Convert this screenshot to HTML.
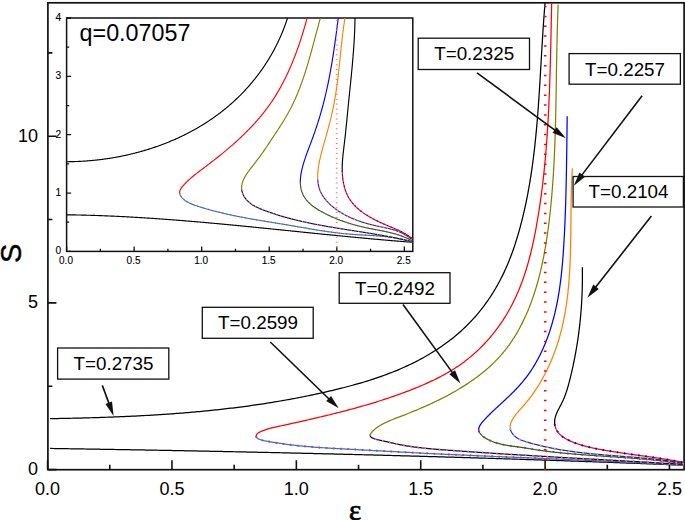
<!DOCTYPE html><html><head><meta charset="utf-8"><style>html,body{margin:0;padding:0;background:#fff;overflow:hidden}svg{display:block}text{font-family:"Liberation Sans",sans-serif;fill:#000}</style></head><body>
<svg width="685" height="520" viewBox="0 0 685 520">
<defs><clipPath id="cm"><rect x="47.9" y="2.8" width="636.2" height="466.9"/></clipPath><clipPath id="ci"><rect x="66.6" y="18.0" width="346.20000000000005" height="233.4"/></clipPath></defs>
<rect x="47.9" y="2.8" width="636.2" height="466.9" fill="none" stroke="#111" stroke-width="1.7"/>
<path d="M47.60,469.7 V460.20 M109.79,469.7 V464.70 M171.97,469.7 V460.20 M234.16,469.7 V464.70 M296.35,469.7 V460.20 M358.54,469.7 V464.70 M420.73,469.7 V460.20 M482.91,469.7 V464.70 M545.10,469.7 V460.20 M607.29,469.7 V464.70 M669.48,469.7 V460.20 M47.9,469.60 H56.40 M47.9,386.25 H52.40 M47.9,302.90 H56.40 M47.9,219.55 H52.40 M47.9,136.20 H56.40 M47.9,52.85 H52.40" stroke="#111" stroke-width="1.6" fill="none"/>
<g clip-path="url(#cm)" stroke-linejoin="round">
<path d="M50.12,418.67 L52.07,418.63 L54.02,418.60 L55.97,418.56 L57.92,418.53 L59.87,418.49 L61.82,418.46 L63.77,418.42 L65.72,418.38 L67.67,418.34 L69.62,418.29 L71.56,418.25 L73.51,418.21 L75.46,418.16 L77.41,418.12 L79.36,418.07 L81.31,418.02 L83.25,417.97 L85.20,417.92 L87.15,417.86 L89.09,417.81 L91.04,417.75 L92.99,417.70 L94.93,417.64 L96.88,417.58 L98.83,417.52 L100.77,417.45 L102.72,417.39 L104.66,417.32 L106.61,417.25 L108.55,417.18 L110.49,417.11 L112.44,417.04 L114.38,416.96 L116.33,416.89 L118.27,416.81 L120.21,416.73 L122.16,416.64 L124.10,416.56 L126.04,416.47 L127.98,416.39 L129.92,416.30 L131.87,416.20 L133.81,416.11 L135.75,416.01 L137.69,415.92 L139.63,415.82 L141.57,415.71 L143.51,415.61 L145.45,415.50 L147.39,415.39 L149.33,415.28 L151.26,415.17 L153.20,415.05 L155.14,414.94 L157.08,414.82 L159.02,414.69 L160.95,414.57 L162.89,414.44 L164.83,414.31 L166.76,414.18 L168.70,414.04 L170.63,413.91 L172.57,413.77 L174.50,413.62 L176.44,413.48 L178.37,413.33 L180.31,413.18 L182.24,413.03 L184.17,412.87 L186.11,412.71 L188.04,412.55 L189.97,412.39 L191.90,412.22 L193.84,412.05 L195.77,411.88 L197.70,411.70 L199.63,411.52 L201.56,411.34 L203.49,411.16 L205.42,410.97 L207.35,410.78 L209.28,410.59 L211.20,410.39 L213.13,410.19 L215.06,409.99 L216.99,409.78 L218.91,409.57 L220.84,409.36 L222.77,409.14 L224.69,408.92 L226.62,408.70 L228.54,408.47 L230.47,408.24 L232.39,408.01 L234.32,407.78 L236.24,407.54 L238.16,407.29 L240.09,407.05 L242.01,406.80 L243.93,406.54 L245.85,406.28 L247.77,406.02 L249.69,405.76 L251.61,405.49 L253.53,405.22 L255.45,404.94 L257.37,404.66 L259.29,404.38 L261.21,404.09 L263.13,403.80 L265.04,403.51 L266.96,403.21 L268.88,402.90 L270.79,402.60 L272.71,402.29 L274.62,401.97 L276.54,401.65 L278.45,401.33 L280.36,401.00 L282.28,400.67 L284.19,400.34 L286.10,400.00 L288.01,399.66 L289.93,399.31 L291.84,398.96 L293.75,398.60 L295.66,398.24 L297.57,397.88 L299.48,397.51 L301.38,397.13 L303.29,396.75 L305.20,396.37 L307.11,395.99 L309.01,395.59 L310.92,395.20 L312.83,394.80 L314.73,394.39 L316.64,393.98 L318.54,393.57 L320.44,393.15 L322.35,392.73 L324.25,392.30 L326.15,391.86 L328.05,391.43 L329.95,390.98 L331.86,390.54 L333.76,390.08 L335.65,389.63 L337.55,389.16 L339.45,388.69 L341.35,388.22 L343.24,387.74 L345.13,387.25 L347.03,386.76 L348.92,386.26 L350.80,385.75 L352.69,385.24 L354.57,384.72 L356.46,384.19 L358.33,383.66 L360.21,383.11 L362.09,382.56 L363.96,382.00 L365.83,381.43 L367.69,380.86 L369.55,380.27 L371.41,379.68 L373.27,379.08 L375.12,378.46 L376.97,377.84 L378.81,377.21 L380.65,376.57 L382.49,375.92 L384.32,375.25 L386.15,374.58 L387.97,373.90 L389.79,373.20 L391.60,372.50 L393.41,371.78 L395.21,371.05 L397.01,370.31 L398.81,369.56 L400.59,368.80 L402.38,368.02 L404.15,367.24 L405.92,366.43 L407.69,365.62 L409.44,364.79 L411.20,363.95 L412.94,363.10 L414.68,362.23 L416.41,361.35 L418.14,360.46 L419.86,359.55 L421.57,358.63 L423.27,357.69 L424.97,356.74 L426.65,355.77 L428.33,354.80 L430.00,353.80 L431.66,352.80 L433.31,351.77 L434.95,350.74 L436.59,349.69 L438.21,348.63 L439.82,347.55 L441.42,346.45 L443.01,345.35 L444.59,344.22 L446.16,343.09 L447.71,341.94 L449.26,340.77 L450.79,339.59 L452.31,338.40 L453.81,337.19 L455.31,335.96 L456.79,334.72 L458.25,333.47 L459.71,332.20 L461.15,330.92 L462.57,329.62 L463.98,328.31 L465.38,326.98 L466.76,325.63 L468.12,324.27 L469.47,322.90 L470.80,321.51 L472.12,320.11 L473.42,318.69 L474.71,317.26 L475.98,315.81 L477.23,314.35 L478.47,312.87 L479.69,311.38 L480.90,309.88 L482.09,308.36 L483.26,306.83 L484.42,305.29 L485.56,303.74 L486.68,302.17 L487.79,300.59 L488.88,299.00 L489.96,297.40 L491.02,295.79 L492.06,294.16 L493.09,292.52 L494.10,290.88 L495.10,289.22 L496.08,287.55 L497.04,285.87 L497.98,284.19 L498.91,282.49 L499.83,280.78 L500.72,279.06 L501.60,277.34 L502.47,275.60 L503.32,273.86 L504.15,272.11 L504.96,270.35 L505.76,268.58 L506.55,266.81 L507.32,265.02 L508.07,263.23 L508.81,261.44 L509.53,259.63 L510.24,257.82 L510.94,256.00 L511.62,254.18 L512.29,252.35 L512.95,250.52 L513.59,248.68 L514.22,246.84 L514.84,244.99 L515.45,243.14 L516.04,241.28 L516.63,239.42 L517.20,237.55 L517.76,235.68 L518.31,233.81 L518.85,231.93 L519.38,230.06 L519.90,228.18 L520.40,226.29 L520.90,224.41 L521.39,222.52 L521.88,220.63 L522.35,218.74 L522.81,216.85 L523.27,214.95 L523.71,213.06 L524.15,211.16 L524.58,209.26 L525.00,207.36 L525.42,205.46 L525.82,203.56 L526.22,201.66 L526.61,199.75 L526.99,197.84 L527.37,195.94 L527.73,194.03 L528.09,192.12 L528.44,190.20 L528.79,188.29 L529.13,186.38 L529.46,184.46 L529.78,182.55 L530.10,180.63 L530.41,178.71 L530.72,176.79 L531.02,174.87 L531.31,172.95 L531.59,171.02 L531.87,169.10 L532.15,167.18 L532.41,165.25 L532.68,163.32 L532.93,161.40 L533.18,159.47 L533.43,157.54 L533.67,155.61 L533.90,153.68 L534.13,151.75 L534.36,149.81 L534.58,147.88 L534.79,145.95 L535.01,144.01 L535.21,142.08 L535.41,140.14 L535.61,138.21 L535.80,136.27 L535.99,134.33 L536.18,132.40 L536.36,130.46 L536.54,128.52 L536.71,126.58 L536.88,124.64 L537.05,122.70 L537.21,120.76 L537.37,118.82 L537.52,116.88 L537.68,114.94 L537.83,113.00 L537.98,111.06 L538.12,109.12 L538.26,107.17 L538.40,105.23 L538.54,103.29 L538.68,101.35 L538.81,99.41 L538.94,97.46 L539.07,95.52 L539.20,93.58 L539.32,91.64 L539.45,89.69 L539.57,87.75 L539.69,85.81 L539.81,83.87 L539.93,81.93 L540.05,79.98 L540.16,78.04 L540.28,76.10 L540.39,74.16 L540.51,72.22 L540.62,70.28 L540.73,68.34 L540.84,66.40 L540.96,64.46 L541.07,62.52 L541.18,60.58 L541.29,58.64 L541.41,56.70 L541.52,54.77 L541.63,52.83 L541.75,50.89 L541.86,48.96 L541.97,47.02 L542.09,45.09 L542.21,43.15 L542.33,41.22 L542.44,39.29 L542.56,37.35 L542.69,35.42 L542.81,33.49 L542.93,31.56 L543.06,29.63 L543.19,27.70 L543.32,25.78 L543.45,23.85 L543.59,21.93 L543.72,20.00 L543.86,18.08 L544.00,16.15 L544.15,14.23 L544.29,12.31 L544.44,10.39 L544.60,8.47 L544.75,6.56 L544.91,4.64 L545.07,2.72" stroke="#000" stroke-width="1.25" fill="none"/>
<path d="M50.20,448.45 L51.79,448.48 L53.38,448.50 L54.97,448.53 L56.56,448.55 L58.15,448.57 L59.74,448.60 L61.33,448.62 L62.91,448.65 L64.50,448.67 L66.09,448.70 L67.68,448.72 L69.27,448.75 L70.86,448.77 L72.45,448.80 L74.04,448.82 L75.63,448.85 L77.21,448.87 L78.80,448.90 L80.39,448.92 L81.98,448.95 L83.57,448.97 L85.16,449.00 L86.75,449.02 L88.34,449.05 L89.93,449.07 L91.51,449.10 L93.10,449.13 L94.69,449.15 L96.28,449.18 L97.87,449.20 L99.46,449.23 L101.05,449.26 L102.64,449.28 L104.22,449.31 L105.81,449.34 L107.40,449.36 L108.99,449.39 L110.58,449.42 L112.17,449.44 L113.76,449.47 L115.35,449.50 L116.94,449.52 L118.52,449.55 L120.11,449.58 L121.70,449.60 L123.29,449.63 L124.88,449.66 L126.47,449.69 L128.06,449.71 L129.65,449.74 L131.23,449.77 L132.82,449.80 L134.41,449.83 L136.00,449.85 L137.59,449.88 L139.18,449.91 L140.77,449.94 L142.36,449.97 L143.95,449.99 L145.53,450.02 L147.12,450.05 L148.71,450.08 L150.30,450.11 L151.89,450.14 L153.48,450.17 L155.07,450.20 L156.66,450.22 L158.24,450.25 L159.83,450.28 L161.42,450.31 L163.01,450.34 L164.60,450.37 L166.19,450.40 L167.78,450.43 L169.37,450.46 L170.95,450.49 L172.54,450.52 L174.13,450.55 L175.72,450.58 L177.31,450.61 L178.90,450.64 L180.49,450.67 L182.08,450.70 L183.67,450.73 L185.25,450.76 L186.84,450.79 L188.43,450.82 L190.02,450.85 L191.61,450.88 L193.20,450.92 L194.79,450.95 L196.38,450.98 L197.96,451.01 L199.55,451.04 L201.14,451.07 L202.73,451.10 L204.32,451.13 L205.91,451.17 L207.50,451.20 L209.09,451.23 L210.67,451.26 L212.26,451.29 L213.85,451.33 L215.44,451.36 L217.03,451.39 L218.62,451.42 L220.21,451.45 L221.80,451.49 L223.38,451.52 L224.97,451.55 L226.56,451.59 L228.15,451.62 L229.74,451.65 L231.33,451.68 L232.92,451.72 L234.51,451.75 L236.09,451.78 L237.68,451.82 L239.27,451.85 L240.86,451.88 L242.45,451.92 L244.04,451.95 L245.63,451.99 L247.22,452.02 L248.80,452.05 L250.39,452.09 L251.98,452.12 L253.57,452.16 L255.16,452.19 L256.75,452.22 L258.34,452.26 L259.92,452.29 L261.51,452.33 L263.10,452.36 L264.69,452.40 L266.28,452.43 L267.87,452.47 L269.46,452.50 L271.05,452.54 L272.63,452.57 L274.22,452.61 L275.81,452.65 L277.40,452.68 L278.99,452.72 L280.58,452.75 L282.17,452.79 L283.76,452.82 L285.34,452.86 L286.93,452.90 L288.52,452.93 L290.11,452.97 L291.70,453.01 L293.29,453.04 L294.88,453.08 L296.46,453.12 L298.05,453.15 L299.64,453.19 L301.23,453.23 L302.82,453.26 L304.41,453.30 L306.00,453.34 L307.58,453.38 L309.17,453.41 L310.76,453.45 L312.35,453.49 L313.94,453.53 L315.53,453.56 L317.12,453.60 L318.71,453.64 L320.29,453.68 L321.88,453.72 L323.47,453.76 L325.06,453.79 L326.65,453.83 L328.24,453.87 L329.83,453.91 L331.41,453.95 L333.00,453.99 L334.59,454.03 L336.18,454.07 L337.77,454.11 L339.36,454.14 L340.95,454.18 L342.53,454.22 L344.12,454.26 L345.71,454.30 L347.30,454.34 L348.89,454.38 L350.48,454.42 L352.07,454.46 L353.65,454.50 L355.24,454.54 L356.83,454.58 L358.42,454.62 L360.01,454.67 L361.60,454.71 L363.19,454.75 L364.77,454.79 L366.36,454.83 L367.95,454.87 L369.54,454.91 L371.13,454.95 L372.72,454.99 L374.31,455.04 L375.89,455.08 L377.48,455.12 L379.07,455.16 L380.66,455.20 L382.25,455.24 L383.84,455.29 L385.43,455.33 L387.01,455.37 L388.60,455.41 L390.19,455.46 L391.78,455.50 L393.37,455.54 L394.96,455.58 L396.54,455.63 L398.13,455.67 L399.72,455.71 L401.31,455.76 L402.90,455.80 L404.49,455.84 L406.08,455.89 L407.66,455.93 L409.25,455.98 L410.84,456.02 L412.43,456.06 L414.02,456.11 L415.61,456.15 L417.20,456.20 L418.78,456.24 L420.37,456.28 L421.96,456.33 L423.55,456.37 L425.14,456.42 L426.73,456.46 L428.31,456.51 L429.90,456.55 L431.49,456.60 L433.08,456.64 L434.67,456.69 L436.26,456.74 L437.84,456.78 L439.43,456.83 L441.02,456.87 L442.61,456.92 L444.20,456.96 L445.79,457.01 L447.38,457.06 L448.96,457.10 L450.55,457.15 L452.14,457.20 L453.73,457.24 L455.32,457.29 L456.91,457.34 L458.49,457.38 L460.08,457.43 L461.67,457.48 L463.26,457.53 L464.85,457.57 L466.44,457.62 L468.02,457.67 L469.61,457.72 L471.20,457.76 L472.79,457.81 L474.38,457.86 L475.97,457.91 L477.55,457.96 L479.14,458.01 L480.73,458.05 L482.32,458.10 L483.91,458.15 L485.50,458.20 L487.08,458.25 L488.67,458.30 L490.26,458.35 L491.85,458.40 L493.44,458.45 L495.03,458.50 L496.61,458.55 L498.20,458.60 L499.79,458.65 L501.38,458.70 L502.97,458.75 L504.56,458.80 L506.14,458.85 L507.73,458.90 L509.32,458.95 L510.91,459.00 L512.50,459.05 L514.09,459.10 L515.67,459.15 L517.26,459.20 L518.85,459.25 L520.44,459.30 L522.03,459.36 L523.61,459.41 L525.20,459.46 L526.79,459.51 L528.38,459.56 L529.97,459.62 L531.56,459.67 L533.14,459.72 L534.73,459.77 L536.32,459.82 L537.91,459.88 L539.50,459.93 L541.09,459.98 L542.67,460.04 L544.26,460.09 L545.85,460.14 L547.44,460.19 L549.03,460.25 L550.61,460.30 L552.20,460.36 L553.79,460.41 L555.38,460.46 L556.97,460.52 L558.56,460.57 L560.14,460.63 L561.73,460.68 L563.32,460.73 L564.91,460.79 L566.50,460.84 L568.08,460.90 L569.67,460.95 L571.26,461.01 L572.85,461.06 L574.44,461.12 L576.02,461.17 L577.61,461.23 L579.20,461.29 L580.79,461.34 L582.38,461.40 L583.97,461.45 L585.55,461.51 L587.14,461.57 L588.73,461.62 L590.32,461.68 L591.91,461.73 L593.49,461.79 L595.08,461.85 L596.67,461.90 L598.26,461.96 L599.85,462.02 L601.43,462.08 L603.02,462.13 L604.61,462.19 L606.20,462.25 L607.79,462.31 L609.37,462.36 L610.96,462.42 L612.55,462.48 L614.14,462.54 L615.73,462.60 L617.31,462.66 L618.90,462.71 L620.49,462.77 L622.08,462.83 L623.67,462.89 L625.25,462.95 L626.84,463.01 L628.43,463.07 L630.02,463.13 L631.61,463.19 L633.19,463.25 L634.78,463.31 L636.37,463.37 L637.96,463.43 L639.55,463.49 L641.13,463.55 L642.72,463.61 L644.31,463.67 L645.90,463.73 L647.49,463.79 L649.07,463.85 L650.66,463.91 L652.25,463.97 L653.84,464.04 L655.43,464.10 L657.01,464.16 L658.60,464.22 L660.19,464.28 L661.78,464.34 L663.36,464.41 L664.95,464.47 L666.54,464.53 L668.13,464.59 L669.72,464.66 L671.30,464.72 L672.89,464.78 L674.48,464.84 L676.07,464.91 L677.66,464.97 L679.24,465.03 L680.83,465.10 L682.42,465.16 L684.01,465.22" stroke="#000" stroke-width="1.25" fill="none"/>
<path d="M256.09,436.00 L256.34,434.94 L257.07,433.89 L258.27,432.88 L259.88,431.95 L261.77,431.09 L263.82,430.30 L265.93,429.60 L267.96,428.97 L269.87,428.43 L271.67,427.95 L273.38,427.53 L275.03,427.14 L276.64,426.79 L278.24,426.44 L279.84,426.10 L281.46,425.75 L283.10,425.40 L284.75,425.04 L286.41,424.67 L288.08,424.31 L289.76,423.94 L291.45,423.56 L293.14,423.19 L294.84,422.81 L296.53,422.43 L298.23,422.05 L299.92,421.67 L301.62,421.29 L303.31,420.91 L305.00,420.53 L306.69,420.14 L308.38,419.76 L310.07,419.37 L311.76,418.98 L313.45,418.59 L315.14,418.20 L316.82,417.80 L318.51,417.41 L320.19,417.01 L321.88,416.61 L323.56,416.21 L325.24,415.81 L326.92,415.40 L328.60,414.99 L330.28,414.58 L331.96,414.17 L333.64,413.75 L335.31,413.34 L336.99,412.91 L338.66,412.49 L340.33,412.06 L342.01,411.63 L343.68,411.20 L345.35,410.77 L347.02,410.33 L348.68,409.89 L350.35,409.44 L352.01,408.99 L353.68,408.54 L355.34,408.08 L357.00,407.62 L358.66,407.16 L360.32,406.69 L361.98,406.22 L363.64,405.74 L365.30,405.26 L366.95,404.78 L368.60,404.29 L370.26,403.80 L371.91,403.30 L373.56,402.80 L375.20,402.30 L376.85,401.79 L378.50,401.27 L380.14,400.75 L381.78,400.22 L383.42,399.69 L385.06,399.16 L386.70,398.62 L388.34,398.07 L389.98,397.52 L391.61,396.96 L393.24,396.40 L394.87,395.83 L396.50,395.26 L398.13,394.68 L399.76,394.10 L401.39,393.51 L403.01,392.91 L404.63,392.31 L406.25,391.70 L407.87,391.08 L409.49,390.46 L411.10,389.83 L412.72,389.20 L414.33,388.55 L415.94,387.90 L417.54,387.25 L419.15,386.58 L420.75,385.91 L422.34,385.23 L423.93,384.54 L425.52,383.84 L427.10,383.13 L428.68,382.41 L430.25,381.68 L431.82,380.94 L433.38,380.20 L434.94,379.44 L436.49,378.67 L438.03,377.89 L439.57,377.10 L441.10,376.29 L442.62,375.48 L444.14,374.65 L445.65,373.81 L447.15,372.96 L448.64,372.09 L450.12,371.21 L451.60,370.32 L453.06,369.42 L454.52,368.50 L455.96,367.56 L457.40,366.61 L458.83,365.65 L460.24,364.67 L461.65,363.68 L463.04,362.67 L464.42,361.65 L465.80,360.61 L467.16,359.55 L468.50,358.48 L469.84,357.39 L471.16,356.29 L472.48,355.17 L473.78,354.04 L475.07,352.89 L476.34,351.73 L477.61,350.55 L478.86,349.36 L480.10,348.16 L481.32,346.94 L482.54,345.71 L483.74,344.47 L484.92,343.21 L486.10,341.94 L487.26,340.66 L488.41,339.36 L489.54,338.06 L490.66,336.74 L491.77,335.41 L492.87,334.07 L493.95,332.72 L495.01,331.36 L496.07,329.98 L497.11,328.60 L498.13,327.20 L499.14,325.80 L500.14,324.39 L501.12,322.96 L502.09,321.53 L503.04,320.09 L503.98,318.63 L504.90,317.17 L505.81,315.71 L506.71,314.23 L507.59,312.74 L508.45,311.25 L509.30,309.75 L510.13,308.24 L510.95,306.73 L511.75,305.21 L512.54,303.68 L513.32,302.14 L514.07,300.60 L514.82,299.05 L515.55,297.49 L516.26,295.93 L516.96,294.36 L517.65,292.79 L518.33,291.21 L518.99,289.62 L519.64,288.03 L520.27,286.44 L520.90,284.83 L521.51,283.23 L522.11,281.62 L522.69,280.00 L523.27,278.38 L523.83,276.75 L524.38,275.12 L524.92,273.48 L525.45,271.84 L525.97,270.20 L526.48,268.55 L526.98,266.89 L527.47,265.24 L527.94,263.58 L528.41,261.91 L528.87,260.25 L529.32,258.58 L529.76,256.90 L530.19,255.23 L530.61,253.55 L531.03,251.86 L531.43,250.18 L531.83,248.49 L532.22,246.80 L532.60,245.11 L532.98,243.42 L533.34,241.72 L533.70,240.02 L534.06,238.32 L534.40,236.62 L534.74,234.92 L535.08,233.21 L535.41,231.51 L535.73,229.80 L536.05,228.09 L536.36,226.38 L536.66,224.67 L536.96,222.97 L537.26,221.25 L537.55,219.54 L537.84,217.83 L538.12,216.12 L538.40,214.41 L538.67,212.70 L538.94,210.99 L539.21,209.28 L539.47,207.56 L539.72,205.85 L539.98,204.14 L540.22,202.43 L540.47,200.71 L540.71,199.00 L540.95,197.29 L541.18,195.57 L541.41,193.86 L541.63,192.15 L541.85,190.43 L542.07,188.72 L542.28,187.00 L542.49,185.29 L542.70,183.57 L542.90,181.86 L543.10,180.14 L543.29,178.43 L543.49,176.71 L543.67,175.00 L543.86,173.28 L544.04,171.56 L544.22,169.85 L544.39,168.13 L544.56,166.41 L544.73,164.69 L544.90,162.98 L545.06,161.26 L545.22,159.54 L545.37,157.82 L545.52,156.11 L545.67,154.39 L545.82,152.67 L545.96,150.95 L546.11,149.23 L546.24,147.51 L546.38,145.79 L546.51,144.07 L546.64,142.35 L546.77,140.63 L546.89,138.91 L547.01,137.19 L547.13,135.47 L547.25,133.75 L547.36,132.03 L547.47,130.31 L547.58,128.59 L547.69,126.86 L547.79,125.14 L547.90,123.42 L548.00,121.70 L548.09,119.98 L548.19,118.25 L548.28,116.53 L548.37,114.81 L548.46,113.08 L548.55,111.36 L548.64,109.64 L548.72,107.91 L548.80,106.19 L548.88,104.47 L548.96,102.74 L549.03,101.02 L549.11,99.29 L549.18,97.57 L549.25,95.84 L549.32,94.12 L549.39,92.39 L549.46,90.67 L549.52,88.94 L549.58,87.22 L549.64,85.49 L549.70,83.77 L549.76,82.04 L549.82,80.31 L549.88,78.59 L549.93,76.86 L549.99,75.13 L550.04,73.41 L550.09,71.68 L550.14,69.95 L550.19,68.22 L550.24,66.50 L550.29,64.77 L550.33,63.04 L550.38,61.31 L550.43,59.58 L550.47,57.85 L550.51,56.13 L550.56,54.40 L550.60,52.67 L550.64,50.94 L550.68,49.21 L550.72,47.48 L550.76,45.75 L550.80,44.02 L550.84,42.29 L550.88,40.56 L550.91,38.83 L550.95,37.10 L550.99,35.37 L551.03,33.64 L551.06,31.91 L551.10,30.18 L551.14,28.44 L551.17,26.71 L551.21,24.98 L551.25,23.25 L551.28,21.52 L551.32,19.79 L551.36,18.05 L551.39,16.32 L551.43,14.59 L551.47,12.86 L551.51,11.12 L551.54,9.39 L551.58,7.66 L551.62,5.92 L551.66,4.19 L551.70,2.46" stroke="#ff0000" stroke-width="1.25" fill="none"/>
<path d="M256.09,436.00 L256.32,437.03 L257.04,437.98 L258.25,438.81 L259.90,439.52 L261.85,440.11 L263.98,440.62 L266.14,441.05 L268.22,441.45 L270.16,441.81 L272.00,442.13 L273.75,442.44 L275.44,442.72 L277.09,442.99 L278.72,443.24 L280.37,443.49 L282.03,443.73 L283.70,443.97 L285.38,444.19 L287.07,444.42 L288.77,444.63 L290.47,444.84 L292.18,445.05 L293.89,445.24 L295.61,445.43 L297.33,445.62 L299.05,445.80 L300.76,445.97 L302.48,446.13 L304.20,446.29 L305.93,446.45 L307.65,446.60 L309.37,446.74 L311.09,446.88 L312.81,447.02 L314.54,447.15 L316.26,447.28 L317.99,447.40 L319.71,447.52 L321.44,447.64 L323.16,447.75 L324.89,447.86 L326.61,447.97 L328.34,448.07 L330.07,448.18 L331.79,448.28 L333.52,448.38 L335.25,448.47 L336.98,448.57 L338.70,448.66 L340.43,448.75 L342.16,448.85 L343.88,448.94 L345.61,449.03 L347.34,449.12 L349.07,449.21 L350.79,449.30 L352.52,449.39 L354.25,449.49 L355.98,449.58 L357.70,449.67 L359.43,449.76 L361.16,449.86 L362.88,449.95 L364.61,450.04 L366.33,450.14 L368.06,450.23 L369.79,450.33 L371.51,450.42 L373.24,450.51 L374.97,450.61 L376.69,450.70 L378.42,450.80 L380.14,450.89 L381.87,450.99 L383.60,451.08 L385.32,451.18 L387.05,451.27 L388.77,451.36 L390.50,451.46 L392.22,451.55 L393.95,451.65 L395.68,451.74 L397.40,451.83 L399.13,451.93 L400.85,452.02 L402.58,452.11 L404.30,452.20 L406.03,452.30 L407.76,452.39 L409.48,452.48 L411.21,452.57 L412.93,452.66 L414.66,452.75 L416.38,452.84 L418.11,452.93 L419.84,453.02 L421.56,453.11 L423.29,453.19 L425.01,453.28 L426.74,453.37 L428.46,453.45 L430.19,453.54 L431.92,453.62 L433.64,453.71 L435.37,453.79 L437.10,453.88 L438.82,453.96 L440.55,454.04 L442.27,454.13 L444.00,454.21 L445.73,454.29 L447.45,454.37 L449.18,454.45 L450.91,454.53 L452.63,454.61 L454.36,454.69 L456.08,454.77 L457.81,454.85 L459.54,454.93 L461.26,455.01 L462.99,455.09 L464.72,455.16 L466.44,455.24 L468.17,455.32 L469.90,455.40 L471.62,455.47 L473.35,455.55 L475.08,455.62 L476.80,455.70 L478.53,455.77 L480.26,455.85 L481.98,455.92 L483.71,456.00 L485.44,456.07 L487.17,456.15 L488.89,456.22 L490.62,456.30 L492.35,456.37 L494.07,456.44 L495.80,456.52 L497.53,456.59 L499.25,456.66 L500.98,456.73 L502.71,456.81 L504.43,456.88 L506.16,456.95 L507.89,457.02 L509.62,457.10 L511.34,457.17 L513.07,457.24 L514.80,457.31 L516.52,457.38 L518.25,457.45 L519.98,457.53 L521.70,457.60 L523.43,457.67 L525.16,457.74 L526.89,457.81 L528.61,457.88 L530.34,457.95 L532.07,458.02 L533.79,458.10 L535.52,458.17 L537.25,458.24 L538.98,458.31 L540.70,458.38 L542.43,458.45 L544.16,458.52 L545.88,458.59 L547.61,458.67 L549.34,458.74 L551.07,458.81 L552.79,458.88 L554.52,458.95 L556.25,459.02 L557.97,459.10 L559.70,459.17 L561.43,459.24 L563.16,459.31 L564.88,459.39 L566.61,459.46 L568.34,459.53 L570.06,459.60 L571.79,459.68 L573.52,459.75 L575.24,459.82 L576.97,459.90 L578.70,459.97 L580.43,460.04 L582.15,460.12 L583.88,460.19 L585.61,460.27 L587.33,460.34 L589.06,460.42 L590.79,460.49 L592.51,460.57 L594.24,460.64 L595.97,460.72 L597.69,460.80 L599.42,460.87 L601.15,460.95 L602.87,461.03 L604.60,461.11 L606.33,461.18 L608.05,461.26 L609.78,461.34 L611.51,461.42 L613.23,461.50 L614.96,461.58 L616.69,461.66 L618.41,461.74 L620.14,461.82 L621.87,461.90 L623.59,461.98 L625.32,462.06 L627.05,462.15 L628.77,462.23 L630.50,462.31 L632.23,462.40 L633.95,462.48 L635.68,462.57 L637.40,462.65 L639.13,462.74 L640.86,462.82 L642.58,462.91 L644.31,463.00 L646.04,463.08 L647.76,463.17 L649.49,463.26 L651.21,463.35 L652.94,463.44 L654.67,463.53 L656.39,463.62 L658.12,463.71 L659.84,463.80 L661.57,463.90 L663.29,463.99 L665.02,464.08 L666.75,464.18 L668.47,464.27 L670.20,464.37 L671.92,464.46 L673.65,464.56 L675.37,464.66 L677.10,464.76 L678.82,464.86 L680.55,464.95 L682.28,465.05 L684.00,465.16" stroke="#109090" stroke-width="1.25" fill="none"/>
<path d="M256.09,436.00 L256.32,437.03 L257.04,437.98 L258.25,438.81 L259.90,439.52 L261.85,440.11 L263.98,440.62 L266.14,441.05 L268.22,441.45 L270.16,441.81 L272.00,442.13 L273.75,442.44 L275.44,442.72 L277.09,442.99 L278.72,443.24 L280.37,443.49 L282.03,443.73 L283.70,443.97 L285.38,444.19 L287.07,444.42 L288.77,444.63 L290.47,444.84 L292.18,445.05 L293.89,445.24 L295.61,445.43 L297.33,445.62 L299.05,445.80 L300.76,445.97 L302.48,446.13 L304.20,446.29 L305.93,446.45 L307.65,446.60 L309.37,446.74 L311.09,446.88 L312.81,447.02 L314.54,447.15 L316.26,447.28 L317.99,447.40 L319.71,447.52 L321.44,447.64 L323.16,447.75 L324.89,447.86 L326.61,447.97 L328.34,448.07 L330.07,448.18 L331.79,448.28 L333.52,448.38 L335.25,448.47 L336.98,448.57 L338.70,448.66 L340.43,448.75 L342.16,448.85 L343.88,448.94 L345.61,449.03 L347.34,449.12 L349.07,449.21 L350.79,449.30 L352.52,449.39 L354.25,449.49 L355.98,449.58 L357.70,449.67 L359.43,449.76 L361.16,449.86 L362.88,449.95 L364.61,450.04 L366.33,450.14 L368.06,450.23 L369.79,450.33 L371.51,450.42 L373.24,450.51 L374.97,450.61 L376.69,450.70 L378.42,450.80 L380.14,450.89 L381.87,450.99 L383.60,451.08 L385.32,451.18 L387.05,451.27 L388.77,451.36 L390.50,451.46 L392.22,451.55 L393.95,451.65 L395.68,451.74 L397.40,451.83 L399.13,451.93 L400.85,452.02 L402.58,452.11 L404.30,452.20 L406.03,452.30 L407.76,452.39 L409.48,452.48 L411.21,452.57 L412.93,452.66 L414.66,452.75 L416.38,452.84 L418.11,452.93 L419.84,453.02 L421.56,453.11 L423.29,453.19 L425.01,453.28 L426.74,453.37 L428.46,453.45 L430.19,453.54 L431.92,453.62 L433.64,453.71 L435.37,453.79 L437.10,453.88 L438.82,453.96 L440.55,454.04 L442.27,454.13 L444.00,454.21 L445.73,454.29 L447.45,454.37 L449.18,454.45 L450.91,454.53 L452.63,454.61 L454.36,454.69 L456.08,454.77 L457.81,454.85 L459.54,454.93 L461.26,455.01 L462.99,455.09 L464.72,455.16 L466.44,455.24 L468.17,455.32 L469.90,455.40 L471.62,455.47 L473.35,455.55 L475.08,455.62 L476.80,455.70 L478.53,455.77 L480.26,455.85 L481.98,455.92 L483.71,456.00 L485.44,456.07 L487.17,456.15 L488.89,456.22 L490.62,456.30 L492.35,456.37 L494.07,456.44 L495.80,456.52 L497.53,456.59 L499.25,456.66 L500.98,456.73 L502.71,456.81 L504.43,456.88 L506.16,456.95 L507.89,457.02 L509.62,457.10 L511.34,457.17 L513.07,457.24 L514.80,457.31 L516.52,457.38 L518.25,457.45 L519.98,457.53 L521.70,457.60 L523.43,457.67 L525.16,457.74 L526.89,457.81 L528.61,457.88 L530.34,457.95 L532.07,458.02 L533.79,458.10 L535.52,458.17 L537.25,458.24 L538.98,458.31 L540.70,458.38 L542.43,458.45 L544.16,458.52 L545.88,458.59 L547.61,458.67 L549.34,458.74 L551.07,458.81 L552.79,458.88 L554.52,458.95 L556.25,459.02 L557.97,459.10 L559.70,459.17 L561.43,459.24 L563.16,459.31 L564.88,459.39 L566.61,459.46 L568.34,459.53 L570.06,459.60 L571.79,459.68 L573.52,459.75 L575.24,459.82 L576.97,459.90 L578.70,459.97 L580.43,460.04 L582.15,460.12 L583.88,460.19 L585.61,460.27 L587.33,460.34 L589.06,460.42 L590.79,460.49 L592.51,460.57 L594.24,460.64 L595.97,460.72 L597.69,460.80 L599.42,460.87 L601.15,460.95 L602.87,461.03 L604.60,461.11 L606.33,461.18 L608.05,461.26 L609.78,461.34 L611.51,461.42 L613.23,461.50 L614.96,461.58 L616.69,461.66 L618.41,461.74 L620.14,461.82 L621.87,461.90 L623.59,461.98 L625.32,462.06 L627.05,462.15 L628.77,462.23 L630.50,462.31 L632.23,462.40 L633.95,462.48 L635.68,462.57 L637.40,462.65 L639.13,462.74 L640.86,462.82 L642.58,462.91 L644.31,463.00 L646.04,463.08 L647.76,463.17 L649.49,463.26 L651.21,463.35 L652.94,463.44 L654.67,463.53 L656.39,463.62 L658.12,463.71 L659.84,463.80 L661.57,463.90 L663.29,463.99 L665.02,464.08 L666.75,464.18 L668.47,464.27 L670.20,464.37 L671.92,464.46 L673.65,464.56 L675.37,464.66 L677.10,464.76 L678.82,464.86 L680.55,464.95 L682.28,465.05 L684.00,465.16" stroke="#ff00ff" stroke-width="2.0" fill="none" stroke-dasharray="1.6 5.6" stroke-linecap="butt"/>
<path d="M370.38,434.46 L370.89,433.45 L371.63,432.43 L372.53,431.42 L373.49,430.45 L374.50,429.53 L375.54,428.64 L376.61,427.80 L377.72,427.00 L378.86,426.23 L380.03,425.50 L381.22,424.80 L382.44,424.12 L383.68,423.47 L384.93,422.85 L386.21,422.25 L387.50,421.66 L388.80,421.09 L390.11,420.54 L391.44,420.00 L392.76,419.47 L394.10,418.95 L395.43,418.43 L396.76,417.92 L398.09,417.40 L399.42,416.89 L400.75,416.37 L402.07,415.86 L403.38,415.34 L404.70,414.82 L406.01,414.30 L407.31,413.78 L408.62,413.26 L409.92,412.73 L411.22,412.21 L412.51,411.68 L413.80,411.15 L415.09,410.62 L416.38,410.08 L417.66,409.54 L418.94,409.00 L420.22,408.46 L421.49,407.91 L422.76,407.36 L424.03,406.81 L425.29,406.25 L426.56,405.69 L427.81,405.13 L429.07,404.56 L430.33,403.99 L431.58,403.41 L432.83,402.83 L434.07,402.24 L435.32,401.65 L436.56,401.06 L437.80,400.46 L439.03,399.85 L440.27,399.24 L441.50,398.62 L442.73,398.00 L443.96,397.37 L445.18,396.74 L446.40,396.09 L447.62,395.45 L448.84,394.79 L450.06,394.13 L451.27,393.47 L452.48,392.79 L453.69,392.11 L454.90,391.42 L456.10,390.73 L457.31,390.02 L458.51,389.31 L459.70,388.59 L460.90,387.87 L462.09,387.14 L463.27,386.40 L464.46,385.65 L465.63,384.89 L466.81,384.13 L467.98,383.36 L469.14,382.58 L470.30,381.79 L471.46,381.00 L472.61,380.19 L473.75,379.38 L474.89,378.56 L476.02,377.74 L477.15,376.90 L478.27,376.06 L479.38,375.21 L480.48,374.35 L481.58,373.48 L482.67,372.60 L483.76,371.72 L484.83,370.83 L485.90,369.93 L486.96,369.02 L488.01,368.10 L489.06,367.17 L490.09,366.23 L491.11,365.29 L492.13,364.33 L493.14,363.37 L494.13,362.40 L495.12,361.42 L496.10,360.43 L497.06,359.43 L498.02,358.42 L498.96,357.41 L499.89,356.38 L500.82,355.35 L501.73,354.30 L502.63,353.25 L503.52,352.19 L504.39,351.12 L505.26,350.03 L506.11,348.95 L506.95,347.85 L507.78,346.74 L508.60,345.63 L509.41,344.51 L510.21,343.38 L511.00,342.24 L511.78,341.09 L512.55,339.94 L513.30,338.78 L514.05,337.61 L514.78,336.44 L515.51,335.26 L516.22,334.07 L516.93,332.87 L517.62,331.67 L518.31,330.47 L518.98,329.25 L519.65,328.03 L520.31,326.81 L520.95,325.58 L521.59,324.34 L522.22,323.10 L522.83,321.86 L523.44,320.61 L524.04,319.35 L524.63,318.09 L525.22,316.83 L525.79,315.56 L526.35,314.28 L526.91,313.01 L527.46,311.72 L528.00,310.44 L528.53,309.15 L529.05,307.86 L529.56,306.56 L530.07,305.26 L530.57,303.96 L531.05,302.66 L531.54,301.35 L532.01,300.04 L532.48,298.73 L532.93,297.42 L533.39,296.10 L533.83,294.78 L534.26,293.46 L534.69,292.14 L535.11,290.82 L535.53,289.49 L535.94,288.16 L536.34,286.83 L536.73,285.50 L537.12,284.16 L537.50,282.82 L537.87,281.49 L538.24,280.15 L538.60,278.80 L538.95,277.46 L539.30,276.12 L539.64,274.77 L539.98,273.42 L540.31,272.07 L540.63,270.72 L540.95,269.37 L541.26,268.01 L541.57,266.66 L541.87,265.30 L542.17,263.94 L542.46,262.58 L542.74,261.22 L543.02,259.86 L543.30,258.49 L543.57,257.13 L543.83,255.76 L544.09,254.40 L544.35,253.03 L544.60,251.66 L544.84,250.29 L545.08,248.92 L545.32,247.55 L545.55,246.17 L545.78,244.80 L546.01,243.43 L546.23,242.05 L546.44,240.68 L546.66,239.30 L546.86,237.93 L547.07,236.55 L547.27,235.17 L547.47,233.79 L547.66,232.41 L547.85,231.03 L548.04,229.66 L548.23,228.28 L548.41,226.90 L548.59,225.52 L548.76,224.13 L548.94,222.75 L549.11,221.37 L549.27,219.99 L549.44,218.61 L549.60,217.23 L549.76,215.85 L549.91,214.46 L550.07,213.08 L550.22,211.70 L550.36,210.32 L550.51,208.93 L550.65,207.55 L550.79,206.17 L550.93,204.78 L551.06,203.40 L551.20,202.02 L551.33,200.63 L551.45,199.25 L551.58,197.86 L551.70,196.48 L551.82,195.09 L551.94,193.71 L552.05,192.32 L552.17,190.94 L552.28,189.55 L552.39,188.16 L552.49,186.78 L552.60,185.39 L552.70,184.00 L552.80,182.62 L552.90,181.23 L553.00,179.84 L553.09,178.46 L553.18,177.07 L553.27,175.68 L553.36,174.29 L553.45,172.91 L553.53,171.52 L553.61,170.13 L553.69,168.74 L553.77,167.35 L553.85,165.97 L553.93,164.58 L554.00,163.19 L554.07,161.80 L554.14,160.41 L554.21,159.02 L554.28,157.63 L554.34,156.24 L554.41,154.85 L554.47,153.46 L554.53,152.07 L554.59,150.68 L554.65,149.29 L554.71,147.90 L554.76,146.51 L554.81,145.12 L554.87,143.73 L554.92,142.34 L554.97,140.95 L555.02,139.56 L555.06,138.17 L555.11,136.78 L555.16,135.39 L555.20,134.00 L555.24,132.61 L555.28,131.22 L555.33,129.83 L555.37,128.43 L555.40,127.04 L555.44,125.65 L555.48,124.26 L555.51,122.87 L555.55,121.48 L555.58,120.08 L555.62,118.69 L555.65,117.30 L555.68,115.91 L555.71,114.52 L555.74,113.13 L555.77,111.73 L555.80,110.34 L555.83,108.95 L555.86,107.56 L555.88,106.17 L555.91,104.77 L555.94,103.38 L555.96,101.99 L555.99,100.60 L556.01,99.20 L556.04,97.81 L556.06,96.42 L556.08,95.03 L556.11,93.64 L556.13,92.24 L556.15,90.85 L556.18,89.46 L556.20,88.07 L556.22,86.67 L556.24,85.28 L556.26,83.89 L556.28,82.50 L556.31,81.10 L556.33,79.71 L556.35,78.32 L556.37,76.93 L556.39,75.54 L556.41,74.14 L556.43,72.75 L556.46,71.36 L556.48,69.97 L556.50,68.57 L556.52,67.18 L556.54,65.79 L556.57,64.40 L556.59,63.01 L556.61,61.61 L556.64,60.22 L556.66,58.83 L556.69,57.44 L556.71,56.05 L556.74,54.66 L556.76,53.26 L556.79,51.87 L556.81,50.48 L556.84,49.09 L556.87,47.70 L556.90,46.31 L556.93,44.92 L556.96,43.52 L556.99,42.13 L557.02,40.74 L557.05,39.35 L557.08,37.96 L557.12,36.57 L557.15,35.18 L557.19,33.79 L557.22,32.40 L557.26,31.01 L557.30,29.62 L557.34,28.23 L557.38,26.84 L557.42,25.45 L557.46,24.06 L557.50,22.67 L557.55,21.28 L557.59,19.89 L557.64,18.50 L557.69,17.11 L557.74,15.72 L557.79,14.33 L557.84,12.94 L557.89,11.56 L557.95,10.17 L558.00,8.78 L558.06,7.39 L558.12,6.00 L558.18,4.61" stroke="#808000" stroke-width="1.25" fill="none"/>
<path d="M370.38,434.46 L370.21,435.43 L370.45,436.35 L371.18,437.17 L372.35,437.90 L373.82,438.54 L375.42,439.09 L377.06,439.55 L378.69,439.96 L380.30,440.31 L381.87,440.65 L383.40,440.98 L384.88,441.30 L386.32,441.63 L387.72,441.95 L389.09,442.27 L390.44,442.59 L391.77,442.90 L393.08,443.21 L394.40,443.50 L395.71,443.79 L397.02,444.07 L398.34,444.34 L399.67,444.61 L401.00,444.86 L402.33,445.11 L403.67,445.35 L405.01,445.58 L406.35,445.81 L407.70,446.02 L409.05,446.23 L410.40,446.44 L411.76,446.63 L413.12,446.83 L414.48,447.01 L415.85,447.19 L417.22,447.36 L418.59,447.53 L419.96,447.69 L421.34,447.85 L422.72,448.00 L424.10,448.15 L425.48,448.30 L426.86,448.44 L428.25,448.57 L429.64,448.70 L431.02,448.83 L432.41,448.96 L433.81,449.08 L435.20,449.20 L436.59,449.32 L437.99,449.43 L439.38,449.54 L440.78,449.65 L442.17,449.76 L443.57,449.87 L444.97,449.97 L446.36,450.08 L447.76,450.18 L449.16,450.28 L450.55,450.38 L451.95,450.48 L453.35,450.58 L454.74,450.68 L456.14,450.78 L457.54,450.88 L458.93,450.98 L460.33,451.08 L461.72,451.18 L463.12,451.28 L464.51,451.37 L465.91,451.47 L467.30,451.57 L468.69,451.66 L470.09,451.76 L471.48,451.85 L472.87,451.95 L474.27,452.04 L475.66,452.14 L477.05,452.23 L478.45,452.33 L479.84,452.42 L481.23,452.51 L482.62,452.60 L484.02,452.70 L485.41,452.79 L486.80,452.88 L488.19,452.97 L489.58,453.06 L490.97,453.15 L492.36,453.24 L493.76,453.33 L495.15,453.42 L496.54,453.51 L497.93,453.60 L499.32,453.69 L500.71,453.78 L502.10,453.86 L503.49,453.95 L504.88,454.04 L506.27,454.13 L507.66,454.21 L509.05,454.30 L510.44,454.39 L511.82,454.47 L513.21,454.56 L514.60,454.64 L515.99,454.73 L517.38,454.81 L518.77,454.90 L520.16,454.98 L521.55,455.07 L522.93,455.15 L524.32,455.24 L525.71,455.32 L527.10,455.40 L528.49,455.49 L529.87,455.57 L531.26,455.65 L532.65,455.74 L534.04,455.82 L535.43,455.90 L536.81,455.98 L538.20,456.06 L539.59,456.15 L540.98,456.23 L542.36,456.31 L543.75,456.39 L545.14,456.47 L546.52,456.55 L547.91,456.63 L549.30,456.71 L550.69,456.79 L552.07,456.87 L553.46,456.95 L554.85,457.03 L556.23,457.11 L557.62,457.19 L559.01,457.27 L560.39,457.35 L561.78,457.43 L563.17,457.51 L564.55,457.59 L565.94,457.67 L567.33,457.75 L568.71,457.82 L570.10,457.90 L571.49,457.98 L572.87,458.06 L574.26,458.14 L575.65,458.22 L577.03,458.29 L578.42,458.37 L579.81,458.45 L581.19,458.53 L582.58,458.61 L583.97,458.68 L585.35,458.76 L586.74,458.84 L588.13,458.92 L589.51,459.00 L590.90,459.07 L592.29,459.15 L593.68,459.23 L595.06,459.31 L596.45,459.38 L597.84,459.46 L599.22,459.54 L600.61,459.62 L602.00,459.69 L603.39,459.77 L604.77,459.85 L606.16,459.93 L607.55,460.00 L608.94,460.08 L610.32,460.16 L611.71,460.24 L613.10,460.32 L614.49,460.39 L615.88,460.47 L617.26,460.55 L618.65,460.63 L620.04,460.70 L621.43,460.78 L622.82,460.86 L624.21,460.94 L625.60,461.02 L626.98,461.10 L628.37,461.17 L629.76,461.25 L631.15,461.33 L632.54,461.41 L633.93,461.49 L635.32,461.57 L636.71,461.65 L638.10,461.72 L639.49,461.80 L640.88,461.88 L642.27,461.96 L643.66,462.04 L645.05,462.12 L646.44,462.20 L647.83,462.28 L649.22,462.36 L650.61,462.44 L652.01,462.52 L653.40,462.60 L654.79,462.68 L656.18,462.76 L657.57,462.84 L658.96,462.92 L660.36,463.01 L661.75,463.09 L663.14,463.17 L664.53,463.25 L665.93,463.33 L667.32,463.41 L668.71,463.50 L670.11,463.58 L671.50,463.66 L672.90,463.74 L674.29,463.83 L675.68,463.91 L677.08,463.99 L678.47,464.08 L679.87,464.16 L681.26,464.25 L682.66,464.33 L684.05,464.42" stroke="#000080" stroke-width="1.25" fill="none"/>
<path d="M370.38,434.46 L370.21,435.43 L370.45,436.35 L371.18,437.17 L372.35,437.90 L373.82,438.54 L375.42,439.09 L377.06,439.55 L378.69,439.96 L380.30,440.31 L381.87,440.65 L383.40,440.98 L384.88,441.30 L386.32,441.63 L387.72,441.95 L389.09,442.27 L390.44,442.59 L391.77,442.90 L393.08,443.21 L394.40,443.50 L395.71,443.79 L397.02,444.07 L398.34,444.34 L399.67,444.61 L401.00,444.86 L402.33,445.11 L403.67,445.35 L405.01,445.58 L406.35,445.81 L407.70,446.02 L409.05,446.23 L410.40,446.44 L411.76,446.63 L413.12,446.83 L414.48,447.01 L415.85,447.19 L417.22,447.36 L418.59,447.53 L419.96,447.69 L421.34,447.85 L422.72,448.00 L424.10,448.15 L425.48,448.30 L426.86,448.44 L428.25,448.57 L429.64,448.70 L431.02,448.83 L432.41,448.96 L433.81,449.08 L435.20,449.20 L436.59,449.32 L437.99,449.43 L439.38,449.54 L440.78,449.65 L442.17,449.76 L443.57,449.87 L444.97,449.97 L446.36,450.08 L447.76,450.18 L449.16,450.28 L450.55,450.38 L451.95,450.48 L453.35,450.58 L454.74,450.68 L456.14,450.78 L457.54,450.88 L458.93,450.98 L460.33,451.08 L461.72,451.18 L463.12,451.28 L464.51,451.37 L465.91,451.47 L467.30,451.57 L468.69,451.66 L470.09,451.76 L471.48,451.85 L472.87,451.95 L474.27,452.04 L475.66,452.14 L477.05,452.23 L478.45,452.33 L479.84,452.42 L481.23,452.51 L482.62,452.60 L484.02,452.70 L485.41,452.79 L486.80,452.88 L488.19,452.97 L489.58,453.06 L490.97,453.15 L492.36,453.24 L493.76,453.33 L495.15,453.42 L496.54,453.51 L497.93,453.60 L499.32,453.69 L500.71,453.78 L502.10,453.86 L503.49,453.95 L504.88,454.04 L506.27,454.13 L507.66,454.21 L509.05,454.30 L510.44,454.39 L511.82,454.47 L513.21,454.56 L514.60,454.64 L515.99,454.73 L517.38,454.81 L518.77,454.90 L520.16,454.98 L521.55,455.07 L522.93,455.15 L524.32,455.24 L525.71,455.32 L527.10,455.40 L528.49,455.49 L529.87,455.57 L531.26,455.65 L532.65,455.74 L534.04,455.82 L535.43,455.90 L536.81,455.98 L538.20,456.06 L539.59,456.15 L540.98,456.23 L542.36,456.31 L543.75,456.39 L545.14,456.47 L546.52,456.55 L547.91,456.63 L549.30,456.71 L550.69,456.79 L552.07,456.87 L553.46,456.95 L554.85,457.03 L556.23,457.11 L557.62,457.19 L559.01,457.27 L560.39,457.35 L561.78,457.43 L563.17,457.51 L564.55,457.59 L565.94,457.67 L567.33,457.75 L568.71,457.82 L570.10,457.90 L571.49,457.98 L572.87,458.06 L574.26,458.14 L575.65,458.22 L577.03,458.29 L578.42,458.37 L579.81,458.45 L581.19,458.53 L582.58,458.61 L583.97,458.68 L585.35,458.76 L586.74,458.84 L588.13,458.92 L589.51,459.00 L590.90,459.07 L592.29,459.15 L593.68,459.23 L595.06,459.31 L596.45,459.38 L597.84,459.46 L599.22,459.54 L600.61,459.62 L602.00,459.69 L603.39,459.77 L604.77,459.85 L606.16,459.93 L607.55,460.00 L608.94,460.08 L610.32,460.16 L611.71,460.24 L613.10,460.32 L614.49,460.39 L615.88,460.47 L617.26,460.55 L618.65,460.63 L620.04,460.70 L621.43,460.78 L622.82,460.86 L624.21,460.94 L625.60,461.02 L626.98,461.10 L628.37,461.17 L629.76,461.25 L631.15,461.33 L632.54,461.41 L633.93,461.49 L635.32,461.57 L636.71,461.65 L638.10,461.72 L639.49,461.80 L640.88,461.88 L642.27,461.96 L643.66,462.04 L645.05,462.12 L646.44,462.20 L647.83,462.28 L649.22,462.36 L650.61,462.44 L652.01,462.52 L653.40,462.60 L654.79,462.68 L656.18,462.76 L657.57,462.84 L658.96,462.92 L660.36,463.01 L661.75,463.09 L663.14,463.17 L664.53,463.25 L665.93,463.33 L667.32,463.41 L668.71,463.50 L670.11,463.58 L671.50,463.66 L672.90,463.74 L674.29,463.83 L675.68,463.91 L677.08,463.99 L678.47,464.08 L679.87,464.16 L681.26,464.25 L682.66,464.33 L684.05,464.42" stroke="#ff8000" stroke-width="2.0" fill="none" stroke-dasharray="1.6 5.6" stroke-linecap="butt"/>
<path d="M478.87,430.73 L478.75,430.01 L478.72,429.27 L478.78,428.52 L478.95,427.75 L479.21,426.97 L479.56,426.18 L479.99,425.39 L480.49,424.58 L481.05,423.78 L481.66,422.98 L482.31,422.18 L482.98,421.39 L483.67,420.61 L484.36,419.84 L485.05,419.09 L485.74,418.35 L486.42,417.63 L487.10,416.92 L487.78,416.22 L488.46,415.53 L489.13,414.85 L489.80,414.19 L490.47,413.53 L491.14,412.88 L491.80,412.24 L492.47,411.60 L493.13,410.97 L493.80,410.35 L494.46,409.73 L495.12,409.12 L495.78,408.50 L496.44,407.89 L497.10,407.29 L497.77,406.68 L498.43,406.07 L499.09,405.46 L499.76,404.85 L500.43,404.24 L501.09,403.63 L501.76,403.01 L502.43,402.40 L503.10,401.78 L503.76,401.16 L504.43,400.54 L505.10,399.92 L505.77,399.29 L506.43,398.66 L507.10,398.03 L507.77,397.40 L508.43,396.77 L509.09,396.13 L509.75,395.49 L510.41,394.85 L511.07,394.20 L511.73,393.56 L512.38,392.91 L513.03,392.26 L513.68,391.60 L514.33,390.94 L514.97,390.28 L515.61,389.62 L516.25,388.95 L516.88,388.28 L517.51,387.60 L518.14,386.93 L518.76,386.24 L519.38,385.56 L519.99,384.87 L520.60,384.18 L521.21,383.48 L521.81,382.79 L522.41,382.08 L523.00,381.38 L523.58,380.66 L524.16,379.95 L524.74,379.23 L525.31,378.51 L525.87,377.78 L526.43,377.05 L526.98,376.31 L527.53,375.58 L528.07,374.83 L528.61,374.09 L529.14,373.34 L529.66,372.58 L530.18,371.83 L530.70,371.06 L531.21,370.30 L531.71,369.53 L532.21,368.76 L532.70,367.99 L533.19,367.21 L533.68,366.43 L534.16,365.64 L534.63,364.85 L535.10,364.06 L535.56,363.27 L536.02,362.47 L536.47,361.67 L536.92,360.87 L537.36,360.07 L537.80,359.26 L538.24,358.45 L538.67,357.63 L539.09,356.82 L539.51,356.00 L539.92,355.18 L540.33,354.35 L540.74,353.52 L541.14,352.70 L541.53,351.86 L541.92,351.03 L542.31,350.20 L542.69,349.36 L543.07,348.52 L543.44,347.67 L543.81,346.83 L544.17,345.98 L544.53,345.14 L544.89,344.29 L545.24,343.43 L545.58,342.58 L545.92,341.73 L546.26,340.87 L546.60,340.01 L546.92,339.15 L547.25,338.29 L547.57,337.42 L547.88,336.56 L548.20,335.69 L548.50,334.83 L548.81,333.96 L549.11,333.09 L549.40,332.22 L549.69,331.34 L549.98,330.47 L550.26,329.60 L550.54,328.72 L550.82,327.84 L551.09,326.97 L551.36,326.09 L551.62,325.21 L551.88,324.33 L552.14,323.44 L552.39,322.56 L552.64,321.68 L552.89,320.79 L553.13,319.91 L553.37,319.02 L553.60,318.13 L553.83,317.25 L554.06,316.36 L554.28,315.47 L554.51,314.58 L554.72,313.68 L554.94,312.79 L555.15,311.90 L555.36,311.00 L555.56,310.11 L555.76,309.21 L555.96,308.32 L556.15,307.42 L556.34,306.52 L556.53,305.62 L556.72,304.72 L556.90,303.82 L557.08,302.92 L557.26,302.02 L557.43,301.11 L557.60,300.21 L557.77,299.31 L557.93,298.40 L558.09,297.50 L558.25,296.59 L558.41,295.68 L558.56,294.78 L558.72,293.87 L558.86,292.96 L559.01,292.05 L559.15,291.14 L559.29,290.23 L559.43,289.32 L559.57,288.41 L559.70,287.50 L559.83,286.59 L559.96,285.67 L560.09,284.76 L560.21,283.85 L560.33,282.93 L560.45,282.02 L560.57,281.10 L560.69,280.19 L560.80,279.27 L560.91,278.36 L561.02,277.44 L561.13,276.52 L561.23,275.60 L561.33,274.69 L561.44,273.77 L561.53,272.85 L561.63,271.93 L561.73,271.01 L561.82,270.09 L561.91,269.17 L562.00,268.25 L562.09,267.33 L562.18,266.41 L562.26,265.49 L562.34,264.57 L562.43,263.65 L562.51,262.73 L562.58,261.81 L562.66,260.89 L562.74,259.96 L562.81,259.04 L562.88,258.12 L562.96,257.20 L563.03,256.27 L563.10,255.35 L563.16,254.43 L563.23,253.51 L563.29,252.58 L563.36,251.66 L563.42,250.74 L563.48,249.82 L563.54,248.89 L563.60,247.97 L563.66,247.05 L563.72,246.12 L563.78,245.20 L563.83,244.28 L563.89,243.36 L563.94,242.43 L564.00,241.51 L564.05,240.59 L564.10,239.66 L564.15,238.74 L564.20,237.82 L564.25,236.90 L564.30,235.98 L564.35,235.05 L564.40,234.13 L564.45,233.21 L564.49,232.29 L564.54,231.37 L564.59,230.44 L564.63,229.52 L564.67,228.60 L564.72,227.68 L564.76,226.76 L564.80,225.84 L564.84,224.92 L564.88,224.00 L564.92,223.07 L564.96,222.15 L565.00,221.23 L565.04,220.31 L565.08,219.39 L565.12,218.47 L565.15,217.55 L565.19,216.63 L565.23,215.71 L565.26,214.79 L565.30,213.87 L565.33,212.95 L565.36,212.03 L565.40,211.11 L565.43,210.19 L565.46,209.27 L565.49,208.35 L565.52,207.43 L565.56,206.51 L565.59,205.59 L565.62,204.67 L565.64,203.75 L565.67,202.83 L565.70,201.91 L565.73,200.99 L565.76,200.07 L565.78,199.15 L565.81,198.23 L565.84,197.31 L565.86,196.39 L565.89,195.47 L565.91,194.55 L565.94,193.63 L565.96,192.71 L565.98,191.79 L566.01,190.87 L566.03,189.95 L566.05,189.03 L566.08,188.11 L566.10,187.19 L566.12,186.27 L566.14,185.35 L566.16,184.43 L566.18,183.51 L566.20,182.59 L566.22,181.67 L566.24,180.75 L566.26,179.83 L566.28,178.91 L566.30,177.99 L566.32,177.07 L566.33,176.15 L566.35,175.23 L566.37,174.31 L566.39,173.39 L566.40,172.47 L566.42,171.55 L566.44,170.63 L566.45,169.71 L566.47,168.79 L566.49,167.86 L566.50,166.94 L566.52,166.02 L566.53,165.10 L566.55,164.18 L566.56,163.26 L566.58,162.34 L566.59,161.42 L566.60,160.50 L566.62,159.58 L566.63,158.66 L566.65,157.74 L566.66,156.81 L566.67,155.89 L566.69,154.97 L566.70,154.05 L566.71,153.13 L566.73,152.21 L566.74,151.29 L566.75,150.36 L566.76,149.44 L566.78,148.52 L566.79,147.60 L566.80,146.68 L566.81,145.75 L566.83,144.83 L566.84,143.91 L566.85,142.99 L566.86,142.06 L566.88,141.14 L566.89,140.22 L566.90,139.29 L566.91,138.37 L566.92,137.45 L566.94,136.53 L566.95,135.60 L566.96,134.68 L566.97,133.75 L566.98,132.83 L567.00,131.91 L567.01,130.98 L567.02,130.06 L567.03,129.13 L567.04,128.21 L567.06,127.29 L567.07,126.36 L567.08,125.44 L567.09,124.51 L567.11,123.59 L567.12,122.66 L567.13,121.74 L567.14,120.81 L567.16,119.88 L567.17,118.96 L567.18,118.03 L567.20,117.11 L567.21,116.18" stroke="#0000ff" stroke-width="1.25" fill="none"/>
<path d="M478.87,430.73 L479.08,431.44 L479.36,432.13 L479.72,432.81 L480.15,433.47 L480.65,434.11 L481.20,434.74 L481.81,435.35 L482.47,435.95 L483.18,436.52 L483.93,437.08 L484.72,437.62 L485.54,438.14 L486.39,438.65 L487.26,439.13 L488.15,439.60 L489.05,440.04 L489.96,440.47 L490.88,440.87 L491.79,441.26 L492.70,441.62 L493.62,441.97 L494.53,442.29 L495.44,442.60 L496.35,442.90 L497.26,443.17 L498.17,443.43 L499.08,443.68 L499.99,443.91 L500.90,444.13 L501.81,444.34 L502.72,444.54 L503.63,444.72 L504.54,444.90 L505.44,445.07 L506.35,445.23 L507.26,445.38 L508.16,445.52 L509.07,445.66 L509.97,445.79 L510.88,445.92 L511.79,446.05 L512.69,446.17 L513.60,446.29 L514.50,446.41 L515.41,446.53 L516.31,446.65 L517.22,446.77 L518.12,446.89 L519.03,447.02 L519.93,447.15 L520.84,447.28 L521.74,447.42 L522.65,447.56 L523.55,447.70 L524.46,447.84 L525.36,447.99 L526.27,448.14 L527.18,448.29 L528.08,448.44 L528.99,448.60 L529.90,448.75 L530.80,448.90 L531.71,449.06 L532.62,449.21 L533.53,449.36 L534.44,449.50 L535.34,449.65 L536.25,449.79 L537.16,449.93 L538.08,450.07 L538.99,450.21 L539.90,450.34 L540.81,450.47 L541.72,450.60 L542.63,450.73 L543.55,450.86 L544.46,450.98 L545.37,451.10 L546.29,451.22 L547.20,451.33 L548.12,451.45 L549.03,451.56 L549.95,451.67 L550.86,451.78 L551.78,451.89 L552.69,451.99 L553.61,452.10 L554.53,452.20 L555.44,452.30 L556.36,452.40 L557.28,452.49 L558.20,452.59 L559.11,452.68 L560.03,452.78 L560.95,452.87 L561.87,452.96 L562.79,453.05 L563.71,453.13 L564.63,453.22 L565.54,453.30 L566.46,453.39 L567.38,453.47 L568.30,453.55 L569.22,453.63 L570.14,453.71 L571.06,453.79 L571.98,453.87 L572.90,453.94 L573.82,454.02 L574.74,454.09 L575.66,454.17 L576.58,454.24 L577.50,454.31 L578.42,454.39 L579.34,454.46 L580.26,454.53 L581.18,454.60 L582.10,454.67 L583.02,454.74 L583.94,454.81 L584.86,454.87 L585.78,454.94 L586.70,455.01 L587.62,455.07 L588.54,455.14 L589.46,455.21 L590.38,455.27 L591.30,455.34 L592.22,455.40 L593.14,455.46 L594.06,455.53 L594.98,455.59 L595.91,455.65 L596.83,455.72 L597.75,455.78 L598.67,455.84 L599.59,455.90 L600.51,455.97 L601.43,456.03 L602.35,456.09 L603.27,456.15 L604.19,456.21 L605.11,456.27 L606.03,456.34 L606.95,456.40 L607.87,456.46 L608.79,456.52 L609.71,456.58 L610.63,456.64 L611.55,456.71 L612.47,456.77 L613.39,456.83 L614.31,456.89 L615.23,456.95 L616.15,457.02 L617.07,457.08 L617.99,457.14 L618.91,457.20 L619.83,457.27 L620.75,457.33 L621.67,457.40 L622.59,457.46 L623.51,457.53 L624.43,457.59 L625.35,457.66 L626.27,457.72 L627.19,457.79 L628.10,457.86 L629.02,457.92 L629.94,457.99 L630.86,458.06 L631.78,458.13 L632.70,458.20 L633.62,458.27 L634.54,458.34 L635.46,458.41 L636.38,458.48 L637.29,458.56 L638.21,458.63 L639.13,458.71 L640.05,458.78 L640.97,458.86 L641.89,458.93 L642.81,459.01 L643.72,459.09 L644.64,459.17 L645.56,459.25 L646.48,459.33 L647.39,459.41 L648.31,459.50 L649.23,459.58 L650.15,459.66 L651.06,459.75 L651.98,459.84 L652.90,459.93 L653.82,460.02 L654.73,460.11 L655.65,460.20 L656.57,460.29 L657.48,460.38 L658.40,460.48 L659.32,460.57 L660.23,460.67 L661.15,460.77 L662.07,460.87 L662.98,460.97 L663.90,461.07 L664.81,461.18 L665.73,461.28 L666.64,461.39 L667.56,461.50 L668.47,461.61 L669.39,461.72 L670.30,461.83 L671.22,461.95 L672.13,462.06 L673.05,462.18 L673.96,462.30 L674.88,462.42 L675.79,462.54 L676.71,462.66 L677.62,462.79 L678.53,462.91 L679.45,463.04 L680.36,463.17 L681.27,463.30 L682.19,463.44 L683.10,463.57 L684.01,463.71" stroke="#008000" stroke-width="1.25" fill="none"/>
<path d="M478.87,430.73 L479.08,431.44 L479.36,432.13 L479.72,432.81 L480.15,433.47 L480.65,434.11 L481.20,434.74 L481.81,435.35 L482.47,435.95 L483.18,436.52 L483.93,437.08 L484.72,437.62 L485.54,438.14 L486.39,438.65 L487.26,439.13 L488.15,439.60 L489.05,440.04 L489.96,440.47 L490.88,440.87 L491.79,441.26 L492.70,441.62 L493.62,441.97 L494.53,442.29 L495.44,442.60 L496.35,442.90 L497.26,443.17 L498.17,443.43 L499.08,443.68 L499.99,443.91 L500.90,444.13 L501.81,444.34 L502.72,444.54 L503.63,444.72 L504.54,444.90 L505.44,445.07 L506.35,445.23 L507.26,445.38 L508.16,445.52 L509.07,445.66 L509.97,445.79 L510.88,445.92 L511.79,446.05 L512.69,446.17 L513.60,446.29 L514.50,446.41 L515.41,446.53 L516.31,446.65 L517.22,446.77 L518.12,446.89 L519.03,447.02 L519.93,447.15 L520.84,447.28 L521.74,447.42 L522.65,447.56 L523.55,447.70 L524.46,447.84 L525.36,447.99 L526.27,448.14 L527.18,448.29 L528.08,448.44 L528.99,448.60 L529.90,448.75 L530.80,448.90 L531.71,449.06 L532.62,449.21 L533.53,449.36 L534.44,449.50 L535.34,449.65 L536.25,449.79 L537.16,449.93 L538.08,450.07 L538.99,450.21 L539.90,450.34 L540.81,450.47 L541.72,450.60 L542.63,450.73 L543.55,450.86 L544.46,450.98 L545.37,451.10 L546.29,451.22 L547.20,451.33 L548.12,451.45 L549.03,451.56 L549.95,451.67 L550.86,451.78 L551.78,451.89 L552.69,451.99 L553.61,452.10 L554.53,452.20 L555.44,452.30 L556.36,452.40 L557.28,452.49 L558.20,452.59 L559.11,452.68 L560.03,452.78 L560.95,452.87 L561.87,452.96 L562.79,453.05 L563.71,453.13 L564.63,453.22 L565.54,453.30 L566.46,453.39 L567.38,453.47 L568.30,453.55 L569.22,453.63 L570.14,453.71 L571.06,453.79 L571.98,453.87 L572.90,453.94 L573.82,454.02 L574.74,454.09 L575.66,454.17 L576.58,454.24 L577.50,454.31 L578.42,454.39 L579.34,454.46 L580.26,454.53 L581.18,454.60 L582.10,454.67 L583.02,454.74 L583.94,454.81 L584.86,454.87 L585.78,454.94 L586.70,455.01 L587.62,455.07 L588.54,455.14 L589.46,455.21 L590.38,455.27 L591.30,455.34 L592.22,455.40 L593.14,455.46 L594.06,455.53 L594.98,455.59 L595.91,455.65 L596.83,455.72 L597.75,455.78 L598.67,455.84 L599.59,455.90 L600.51,455.97 L601.43,456.03 L602.35,456.09 L603.27,456.15 L604.19,456.21 L605.11,456.27 L606.03,456.34 L606.95,456.40 L607.87,456.46 L608.79,456.52 L609.71,456.58 L610.63,456.64 L611.55,456.71 L612.47,456.77 L613.39,456.83 L614.31,456.89 L615.23,456.95 L616.15,457.02 L617.07,457.08 L617.99,457.14 L618.91,457.20 L619.83,457.27 L620.75,457.33 L621.67,457.40 L622.59,457.46 L623.51,457.53 L624.43,457.59 L625.35,457.66 L626.27,457.72 L627.19,457.79 L628.10,457.86 L629.02,457.92 L629.94,457.99 L630.86,458.06 L631.78,458.13 L632.70,458.20 L633.62,458.27 L634.54,458.34 L635.46,458.41 L636.38,458.48 L637.29,458.56 L638.21,458.63 L639.13,458.71 L640.05,458.78 L640.97,458.86 L641.89,458.93 L642.81,459.01 L643.72,459.09 L644.64,459.17 L645.56,459.25 L646.48,459.33 L647.39,459.41 L648.31,459.50 L649.23,459.58 L650.15,459.66 L651.06,459.75 L651.98,459.84 L652.90,459.93 L653.82,460.02 L654.73,460.11 L655.65,460.20 L656.57,460.29 L657.48,460.38 L658.40,460.48 L659.32,460.57 L660.23,460.67 L661.15,460.77 L662.07,460.87 L662.98,460.97 L663.90,461.07 L664.81,461.18 L665.73,461.28 L666.64,461.39 L667.56,461.50 L668.47,461.61 L669.39,461.72 L670.30,461.83 L671.22,461.95 L672.13,462.06 L673.05,462.18 L673.96,462.30 L674.88,462.42 L675.79,462.54 L676.71,462.66 L677.62,462.79 L678.53,462.91 L679.45,463.04 L680.36,463.17 L681.27,463.30 L682.19,463.44 L683.10,463.57 L684.01,463.71" stroke="#ff0080" stroke-width="2.0" fill="none" stroke-dasharray="1.6 5.6" stroke-linecap="butt"/>
<path d="M510.29,428.48 L510.21,427.79 L510.17,427.11 L510.18,426.42 L510.24,425.73 L510.34,425.04 L510.48,424.35 L510.65,423.66 L510.87,422.97 L511.12,422.28 L511.40,421.60 L511.71,420.91 L512.06,420.23 L512.43,419.55 L512.82,418.87 L513.24,418.19 L513.68,417.52 L514.14,416.85 L514.61,416.19 L515.10,415.53 L515.61,414.87 L516.12,414.22 L516.65,413.57 L517.18,412.92 L517.72,412.29 L518.26,411.66 L518.80,411.03 L519.34,410.41 L519.88,409.80 L520.41,409.19 L520.94,408.59 L521.46,408.00 L521.98,407.41 L522.49,406.83 L522.99,406.26 L523.49,405.68 L523.99,405.11 L524.48,404.54 L524.97,403.98 L525.45,403.41 L525.93,402.84 L526.40,402.28 L526.88,401.71 L527.34,401.14 L527.81,400.57 L528.27,400.00 L528.73,399.42 L529.19,398.84 L529.64,398.25 L530.10,397.67 L530.55,397.07 L530.99,396.48 L531.44,395.88 L531.88,395.28 L532.32,394.67 L532.76,394.06 L533.19,393.45 L533.62,392.83 L534.05,392.22 L534.48,391.60 L534.90,390.97 L535.32,390.34 L535.74,389.71 L536.15,389.08 L536.57,388.45 L536.98,387.81 L537.39,387.17 L537.79,386.53 L538.19,385.88 L538.59,385.24 L538.99,384.59 L539.38,383.94 L539.77,383.28 L540.16,382.63 L540.55,381.97 L540.93,381.31 L541.31,380.65 L541.69,379.99 L542.07,379.32 L542.44,378.65 L542.81,377.99 L543.17,377.32 L543.54,376.65 L543.90,375.97 L544.26,375.30 L544.61,374.62 L544.97,373.94 L545.32,373.27 L545.66,372.58 L546.01,371.90 L546.35,371.22 L546.69,370.53 L547.03,369.85 L547.36,369.16 L547.69,368.47 L548.02,367.78 L548.35,367.09 L548.67,366.39 L548.99,365.70 L549.31,365.00 L549.62,364.31 L549.93,363.61 L550.24,362.91 L550.55,362.21 L550.85,361.51 L551.15,360.80 L551.45,360.10 L551.74,359.39 L552.04,358.69 L552.33,357.98 L552.61,357.27 L552.90,356.56 L553.18,355.85 L553.46,355.14 L553.73,354.43 L554.01,353.72 L554.28,353.00 L554.54,352.29 L554.81,351.57 L555.07,350.85 L555.33,350.14 L555.59,349.42 L555.84,348.70 L556.09,347.98 L556.34,347.26 L556.58,346.54 L556.83,345.81 L557.07,345.09 L557.30,344.37 L557.54,343.64 L557.77,342.92 L558.00,342.19 L558.22,341.47 L558.45,340.74 L558.67,340.01 L558.89,339.29 L559.10,338.56 L559.31,337.83 L559.52,337.10 L559.73,336.37 L559.94,335.64 L560.14,334.91 L560.34,334.18 L560.54,333.45 L560.73,332.71 L560.92,331.98 L561.11,331.25 L561.30,330.51 L561.48,329.78 L561.66,329.04 L561.84,328.31 L562.02,327.57 L562.20,326.83 L562.37,326.09 L562.54,325.36 L562.71,324.62 L562.87,323.88 L563.03,323.14 L563.19,322.40 L563.35,321.66 L563.51,320.92 L563.66,320.18 L563.81,319.44 L563.96,318.69 L564.11,317.95 L564.26,317.21 L564.40,316.47 L564.54,315.72 L564.68,314.98 L564.81,314.23 L564.95,313.49 L565.08,312.74 L565.21,312.00 L565.34,311.25 L565.47,310.50 L565.59,309.75 L565.71,309.01 L565.83,308.26 L565.95,307.51 L566.07,306.76 L566.18,306.01 L566.29,305.26 L566.40,304.51 L566.51,303.76 L566.62,303.01 L566.72,302.26 L566.83,301.51 L566.93,300.76 L567.03,300.00 L567.13,299.25 L567.22,298.50 L567.32,297.75 L567.41,296.99 L567.50,296.24 L567.59,295.48 L567.68,294.73 L567.76,293.97 L567.85,293.22 L567.93,292.46 L568.01,291.71 L568.09,290.95 L568.17,290.20 L568.24,289.44 L568.32,288.68 L568.39,287.92 L568.46,287.17 L568.53,286.41 L568.60,285.65 L568.67,284.89 L568.74,284.13 L568.80,283.38 L568.86,282.62 L568.93,281.86 L568.99,281.10 L569.05,280.34 L569.10,279.58 L569.16,278.82 L569.21,278.06 L569.27,277.30 L569.32,276.54 L569.37,275.77 L569.42,275.01 L569.47,274.25 L569.52,273.49 L569.57,272.73 L569.61,271.97 L569.66,271.20 L569.70,270.44 L569.74,269.68 L569.78,268.92 L569.82,268.15 L569.86,267.39 L569.90,266.63 L569.94,265.86 L569.97,265.10 L570.01,264.34 L570.04,263.57 L570.07,262.81 L570.10,262.04 L570.14,261.28 L570.17,260.51 L570.20,259.75 L570.22,258.99 L570.25,258.22 L570.28,257.46 L570.30,256.69 L570.33,255.93 L570.35,255.16 L570.38,254.39 L570.40,253.63 L570.42,252.86 L570.44,252.10 L570.46,251.33 L570.48,250.57 L570.50,249.80 L570.52,249.04 L570.54,248.27 L570.56,247.50 L570.58,246.74 L570.59,245.97 L570.61,245.21 L570.62,244.44 L570.64,243.67 L570.65,242.91 L570.67,242.14 L570.68,241.38 L570.69,240.61 L570.70,239.84 L570.72,239.08 L570.73,238.31 L570.74,237.54 L570.75,236.78 L570.76,236.01 L570.77,235.25 L570.78,234.48 L570.79,233.71 L570.80,232.95 L570.81,232.18 L570.82,231.42 L570.83,230.65 L570.83,229.88 L570.84,229.12 L570.85,228.35 L570.86,227.59 L570.87,226.82 L570.87,226.06 L570.88,225.29 L570.89,224.53 L570.90,223.76 L570.90,222.99 L570.91,222.23 L570.92,221.46 L570.92,220.70 L570.93,219.94 L570.94,219.17 L570.95,218.41 L570.95,217.64 L570.96,216.88 L570.97,216.11 L570.97,215.35 L570.98,214.58 L570.99,213.82 L571.00,213.06 L571.01,212.29 L571.02,211.53 L571.02,210.77 L571.03,210.00 L571.04,209.24 L571.05,208.48 L571.06,207.72 L571.07,206.95 L571.08,206.19 L571.09,205.43 L571.10,204.67 L571.11,203.91 L571.13,203.14 L571.14,202.38 L571.15,201.62 L571.16,200.86 L571.18,200.10 L571.19,199.34 L571.21,198.58 L571.22,197.82 L571.24,197.06 L571.25,196.30 L571.27,195.54 L571.29,194.78 L571.30,194.03 L571.32,193.27 L571.34,192.51 L571.36,191.75 L571.38,190.99 L571.40,190.24 L571.42,189.48 L571.45,188.72 L571.47,187.97 L571.49,187.21 L571.52,186.45 L571.54,185.70 L571.57,184.94 L571.60,184.19 L571.62,183.43 L571.65,182.68 L571.68,181.93 L571.71,181.17 L571.74,180.42 L571.78,179.67 L571.81,178.91 L571.84,178.16 L571.88,177.41 L571.91,176.66 L571.95,175.91 L571.99,175.16 L572.03,174.40 L572.07,173.65 L572.11,172.90 L572.15,172.16 L572.20,171.41 L572.24,170.66 L572.29,169.91 L572.33,169.16 L572.38,168.41" stroke="#ff8000" stroke-width="1.25" fill="none"/>
<path d="M510.29,428.48 L510.43,429.17 L510.61,429.85 L510.84,430.52 L511.11,431.19 L511.42,431.84 L511.77,432.49 L512.15,433.12 L512.57,433.73 L513.02,434.32 L513.50,434.89 L514.00,435.44 L514.54,435.96 L515.09,436.46 L515.66,436.93 L516.26,437.37 L516.87,437.80 L517.50,438.20 L518.15,438.58 L518.82,438.94 L519.50,439.28 L520.19,439.60 L520.89,439.91 L521.61,440.21 L522.33,440.49 L523.06,440.76 L523.80,441.02 L524.55,441.27 L525.30,441.51 L526.05,441.75 L526.81,441.98 L527.57,442.21 L528.33,442.43 L529.08,442.65 L529.84,442.87 L530.60,443.08 L531.36,443.29 L532.12,443.50 L532.87,443.71 L533.63,443.91 L534.39,444.11 L535.15,444.31 L535.90,444.51 L536.66,444.71 L537.42,444.90 L538.18,445.09 L538.93,445.27 L539.69,445.46 L540.44,445.64 L541.20,445.82 L541.96,446.00 L542.71,446.18 L543.47,446.35 L544.23,446.52 L544.98,446.69 L545.74,446.86 L546.49,447.02 L547.25,447.18 L548.00,447.34 L548.76,447.50 L549.51,447.66 L550.27,447.81 L551.02,447.97 L551.78,448.12 L552.53,448.26 L553.29,448.41 L554.04,448.55 L554.80,448.70 L555.55,448.84 L556.31,448.98 L557.06,449.11 L557.82,449.25 L558.57,449.38 L559.33,449.51 L560.08,449.64 L560.83,449.77 L561.59,449.90 L562.34,450.02 L563.09,450.14 L563.85,450.26 L564.60,450.38 L565.36,450.50 L566.11,450.62 L566.86,450.73 L567.62,450.84 L568.37,450.96 L569.12,451.07 L569.88,451.17 L570.63,451.28 L571.38,451.39 L572.14,451.49 L572.89,451.59 L573.64,451.70 L574.40,451.80 L575.15,451.90 L575.90,451.99 L576.66,452.09 L577.41,452.18 L578.16,452.28 L578.91,452.37 L579.67,452.46 L580.42,452.55 L581.17,452.64 L581.93,452.73 L582.68,452.81 L583.43,452.90 L584.18,452.98 L584.94,453.07 L585.69,453.15 L586.44,453.23 L587.19,453.31 L587.95,453.39 L588.70,453.47 L589.45,453.55 L590.21,453.63 L590.96,453.70 L591.71,453.78 L592.46,453.85 L593.22,453.92 L593.97,454.00 L594.72,454.07 L595.47,454.14 L596.23,454.21 L596.98,454.28 L597.73,454.35 L598.49,454.42 L599.24,454.49 L599.99,454.55 L600.74,454.62 L601.50,454.69 L602.25,454.75 L603.00,454.82 L603.76,454.88 L604.51,454.94 L605.26,455.01 L606.02,455.07 L606.77,455.13 L607.52,455.20 L608.28,455.26 L609.03,455.32 L609.78,455.38 L610.53,455.44 L611.29,455.50 L612.04,455.56 L612.80,455.62 L613.55,455.68 L614.30,455.74 L615.06,455.80 L615.81,455.86 L616.56,455.92 L617.32,455.98 L618.07,456.04 L618.83,456.10 L619.58,456.16 L620.33,456.22 L621.09,456.28 L621.84,456.34 L622.60,456.39 L623.35,456.45 L624.11,456.51 L624.86,456.57 L625.61,456.63 L626.37,456.69 L627.12,456.75 L627.88,456.81 L628.63,456.87 L629.39,456.93 L630.14,456.99 L630.90,457.05 L631.65,457.12 L632.41,457.18 L633.17,457.24 L633.92,457.30 L634.68,457.36 L635.43,457.43 L636.19,457.49 L636.94,457.56 L637.70,457.62 L638.46,457.69 L639.21,457.75 L639.97,457.82 L640.73,457.88 L641.48,457.95 L642.24,458.02 L643.00,458.09 L643.75,458.16 L644.51,458.23 L645.27,458.30 L646.03,458.37 L646.78,458.44 L647.54,458.52 L648.30,458.59 L649.06,458.66 L649.82,458.74 L650.57,458.82 L651.33,458.89 L652.09,458.97 L652.85,459.05 L653.61,459.13 L654.37,459.21 L655.13,459.29 L655.89,459.38 L656.65,459.46 L657.41,459.54 L658.17,459.63 L658.93,459.72 L659.69,459.81 L660.45,459.90 L661.21,459.99 L661.97,460.08 L662.73,460.17 L663.49,460.26 L664.25,460.36 L665.01,460.46 L665.77,460.55 L666.53,460.65 L667.30,460.75 L668.06,460.86 L668.82,460.96 L669.58,461.07 L670.34,461.17 L671.11,461.28 L671.87,461.39 L672.63,461.50 L673.40,461.61 L674.16,461.72 L674.92,461.84 L675.69,461.96 L676.45,462.08 L677.22,462.20 L677.98,462.32 L678.74,462.44 L679.51,462.57 L680.27,462.69 L681.04,462.82 L681.81,462.95 L682.57,463.08 L683.34,463.22 L684.10,463.35" stroke="#800080" stroke-width="1.25" fill="none"/>
<path d="M510.29,428.48 L510.43,429.17 L510.61,429.85 L510.84,430.52 L511.11,431.19 L511.42,431.84 L511.77,432.49 L512.15,433.12 L512.57,433.73 L513.02,434.32 L513.50,434.89 L514.00,435.44 L514.54,435.96 L515.09,436.46 L515.66,436.93 L516.26,437.37 L516.87,437.80 L517.50,438.20 L518.15,438.58 L518.82,438.94 L519.50,439.28 L520.19,439.60 L520.89,439.91 L521.61,440.21 L522.33,440.49 L523.06,440.76 L523.80,441.02 L524.55,441.27 L525.30,441.51 L526.05,441.75 L526.81,441.98 L527.57,442.21 L528.33,442.43 L529.08,442.65 L529.84,442.87 L530.60,443.08 L531.36,443.29 L532.12,443.50 L532.87,443.71 L533.63,443.91 L534.39,444.11 L535.15,444.31 L535.90,444.51 L536.66,444.71 L537.42,444.90 L538.18,445.09 L538.93,445.27 L539.69,445.46 L540.44,445.64 L541.20,445.82 L541.96,446.00 L542.71,446.18 L543.47,446.35 L544.23,446.52 L544.98,446.69 L545.74,446.86 L546.49,447.02 L547.25,447.18 L548.00,447.34 L548.76,447.50 L549.51,447.66 L550.27,447.81 L551.02,447.97 L551.78,448.12 L552.53,448.26 L553.29,448.41 L554.04,448.55 L554.80,448.70 L555.55,448.84 L556.31,448.98 L557.06,449.11 L557.82,449.25 L558.57,449.38 L559.33,449.51 L560.08,449.64 L560.83,449.77 L561.59,449.90 L562.34,450.02 L563.09,450.14 L563.85,450.26 L564.60,450.38 L565.36,450.50 L566.11,450.62 L566.86,450.73 L567.62,450.84 L568.37,450.96 L569.12,451.07 L569.88,451.17 L570.63,451.28 L571.38,451.39 L572.14,451.49 L572.89,451.59 L573.64,451.70 L574.40,451.80 L575.15,451.90 L575.90,451.99 L576.66,452.09 L577.41,452.18 L578.16,452.28 L578.91,452.37 L579.67,452.46 L580.42,452.55 L581.17,452.64 L581.93,452.73 L582.68,452.81 L583.43,452.90 L584.18,452.98 L584.94,453.07 L585.69,453.15 L586.44,453.23 L587.19,453.31 L587.95,453.39 L588.70,453.47 L589.45,453.55 L590.21,453.63 L590.96,453.70 L591.71,453.78 L592.46,453.85 L593.22,453.92 L593.97,454.00 L594.72,454.07 L595.47,454.14 L596.23,454.21 L596.98,454.28 L597.73,454.35 L598.49,454.42 L599.24,454.49 L599.99,454.55 L600.74,454.62 L601.50,454.69 L602.25,454.75 L603.00,454.82 L603.76,454.88 L604.51,454.94 L605.26,455.01 L606.02,455.07 L606.77,455.13 L607.52,455.20 L608.28,455.26 L609.03,455.32 L609.78,455.38 L610.53,455.44 L611.29,455.50 L612.04,455.56 L612.80,455.62 L613.55,455.68 L614.30,455.74 L615.06,455.80 L615.81,455.86 L616.56,455.92 L617.32,455.98 L618.07,456.04 L618.83,456.10 L619.58,456.16 L620.33,456.22 L621.09,456.28 L621.84,456.34 L622.60,456.39 L623.35,456.45 L624.11,456.51 L624.86,456.57 L625.61,456.63 L626.37,456.69 L627.12,456.75 L627.88,456.81 L628.63,456.87 L629.39,456.93 L630.14,456.99 L630.90,457.05 L631.65,457.12 L632.41,457.18 L633.17,457.24 L633.92,457.30 L634.68,457.36 L635.43,457.43 L636.19,457.49 L636.94,457.56 L637.70,457.62 L638.46,457.69 L639.21,457.75 L639.97,457.82 L640.73,457.88 L641.48,457.95 L642.24,458.02 L643.00,458.09 L643.75,458.16 L644.51,458.23 L645.27,458.30 L646.03,458.37 L646.78,458.44 L647.54,458.52 L648.30,458.59 L649.06,458.66 L649.82,458.74 L650.57,458.82 L651.33,458.89 L652.09,458.97 L652.85,459.05 L653.61,459.13 L654.37,459.21 L655.13,459.29 L655.89,459.38 L656.65,459.46 L657.41,459.54 L658.17,459.63 L658.93,459.72 L659.69,459.81 L660.45,459.90 L661.21,459.99 L661.97,460.08 L662.73,460.17 L663.49,460.26 L664.25,460.36 L665.01,460.46 L665.77,460.55 L666.53,460.65 L667.30,460.75 L668.06,460.86 L668.82,460.96 L669.58,461.07 L670.34,461.17 L671.11,461.28 L671.87,461.39 L672.63,461.50 L673.40,461.61 L674.16,461.72 L674.92,461.84 L675.69,461.96 L676.45,462.08 L677.22,462.20 L677.98,462.32 L678.74,462.44 L679.51,462.57 L680.27,462.69 L681.04,462.82 L681.81,462.95 L682.57,463.08 L683.34,463.22 L684.10,463.35" stroke="#00ffff" stroke-width="2.0" fill="none" stroke-dasharray="1.6 5.6" stroke-linecap="butt"/>
<path d="M554.75,424.15 L554.70,423.67 L554.66,423.20 L554.64,422.72 L554.63,422.25 L554.63,421.77 L554.64,421.29 L554.67,420.81 L554.71,420.33 L554.77,419.85 L554.83,419.37 L554.91,418.89 L555.01,418.41 L555.11,417.93 L555.23,417.45 L555.36,416.97 L555.50,416.50 L555.64,416.02 L555.80,415.55 L555.97,415.07 L556.15,414.60 L556.33,414.12 L556.52,413.65 L556.72,413.17 L556.93,412.70 L557.14,412.23 L557.36,411.75 L557.58,411.28 L557.81,410.81 L558.04,410.34 L558.27,409.87 L558.51,409.39 L558.76,408.92 L559.00,408.45 L559.24,407.98 L559.49,407.51 L559.74,407.04 L559.99,406.57 L560.23,406.10 L560.48,405.63 L560.73,405.15 L560.97,404.68 L561.21,404.21 L561.45,403.74 L561.69,403.27 L561.92,402.80 L562.15,402.33 L562.37,401.86 L562.59,401.38 L562.81,400.91 L563.02,400.44 L563.23,399.97 L563.44,399.50 L563.64,399.02 L563.84,398.55 L564.04,398.08 L564.23,397.61 L564.42,397.13 L564.61,396.66 L564.79,396.19 L564.97,395.71 L565.15,395.24 L565.33,394.77 L565.50,394.29 L565.67,393.82 L565.84,393.34 L566.00,392.87 L566.16,392.39 L566.32,391.92 L566.48,391.44 L566.64,390.97 L566.79,390.49 L566.94,390.02 L567.09,389.54 L567.24,389.06 L567.38,388.59 L567.53,388.11 L567.67,387.63 L567.81,387.16 L567.95,386.68 L568.08,386.20 L568.22,385.73 L568.35,385.25 L568.48,384.77 L568.61,384.29 L568.74,383.81 L568.87,383.33 L569.00,382.85 L569.13,382.37 L569.25,381.89 L569.38,381.41 L569.50,380.93 L569.62,380.45 L569.75,379.97 L569.87,379.49 L569.99,379.01 L570.11,378.53 L570.23,378.05 L570.35,377.57 L570.47,377.08 L570.59,376.60 L570.71,376.12 L570.82,375.64 L570.94,375.15 L571.05,374.67 L571.17,374.18 L571.28,373.70 L571.40,373.22 L571.51,372.73 L571.63,372.25 L571.74,371.76 L571.85,371.28 L571.96,370.79 L572.07,370.31 L572.18,369.82 L572.29,369.33 L572.40,368.85 L572.51,368.36 L572.62,367.87 L572.72,367.39 L572.83,366.90 L572.94,366.41 L573.04,365.92 L573.15,365.44 L573.25,364.95 L573.35,364.46 L573.46,363.97 L573.56,363.48 L573.66,362.99 L573.76,362.50 L573.86,362.01 L573.96,361.52 L574.06,361.03 L574.16,360.54 L574.26,360.05 L574.36,359.56 L574.45,359.07 L574.55,358.58 L574.64,358.09 L574.74,357.60 L574.83,357.11 L574.93,356.62 L575.02,356.13 L575.11,355.63 L575.21,355.14 L575.30,354.65 L575.39,354.16 L575.48,353.66 L575.57,353.17 L575.66,352.68 L575.75,352.18 L575.84,351.69 L575.92,351.20 L576.01,350.70 L576.10,350.21 L576.18,349.72 L576.27,349.22 L576.35,348.73 L576.44,348.23 L576.52,347.74 L576.60,347.24 L576.68,346.75 L576.77,346.25 L576.85,345.76 L576.93,345.26 L577.01,344.77 L577.09,344.27 L577.17,343.78 L577.24,343.28 L577.32,342.78 L577.40,342.29 L577.47,341.79 L577.55,341.29 L577.63,340.80 L577.70,340.30 L577.77,339.80 L577.85,339.31 L577.92,338.81 L577.99,338.31 L578.06,337.81 L578.14,337.32 L578.21,336.82 L578.28,336.32 L578.35,335.82 L578.41,335.32 L578.48,334.83 L578.55,334.33 L578.62,333.83 L578.68,333.33 L578.75,332.83 L578.81,332.33 L578.88,331.84 L578.94,331.34 L579.01,330.84 L579.07,330.34 L579.13,329.84 L579.19,329.34 L579.25,328.84 L579.31,328.34 L579.37,327.84 L579.43,327.34 L579.49,326.84 L579.55,326.34 L579.61,325.84 L579.66,325.34 L579.72,324.84 L579.78,324.34 L579.83,323.84 L579.89,323.34 L579.94,322.84 L579.99,322.34 L580.05,321.84 L580.10,321.34 L580.15,320.84 L580.20,320.34 L580.25,319.84 L580.30,319.34 L580.35,318.83 L580.40,318.33 L580.45,317.83 L580.50,317.33 L580.54,316.83 L580.59,316.33 L580.64,315.83 L580.68,315.33 L580.73,314.83 L580.77,314.32 L580.81,313.82 L580.86,313.32 L580.90,312.82 L580.94,312.32 L580.98,311.82 L581.02,311.32 L581.06,310.81 L581.10,310.31 L581.14,309.81 L581.18,309.31 L581.22,308.81 L581.25,308.30 L581.29,307.80 L581.33,307.30 L581.36,306.80 L581.40,306.30 L581.43,305.80 L581.46,305.29 L581.50,304.79 L581.53,304.29 L581.56,303.79 L581.59,303.29 L581.62,302.78 L581.65,302.28 L581.68,301.78 L581.71,301.28 L581.74,300.78 L581.77,300.27 L581.79,299.77 L581.82,299.27 L581.85,298.77 L581.87,298.27 L581.90,297.77 L581.92,297.26 L581.95,296.76 L581.97,296.26 L581.99,295.76 L582.01,295.26 L582.03,294.75 L582.06,294.25 L582.08,293.75 L582.09,293.25 L582.11,292.75 L582.13,292.25 L582.15,291.74 L582.17,291.24 L582.18,290.74 L582.20,290.24 L582.22,289.74 L582.23,289.24 L582.25,288.73 L582.26,288.23 L582.27,287.73 L582.28,287.23 L582.30,286.73 L582.31,286.23 L582.32,285.73 L582.33,285.23 L582.34,284.73 L582.35,284.22 L582.36,283.72 L582.37,283.22 L582.37,282.72 L582.38,282.22 L582.39,281.72 L582.39,281.22 L582.40,280.72 L582.40,280.22 L582.40,279.72 L582.41,279.22 L582.41,278.72 L582.41,278.22 L582.41,277.72 L582.42,277.22 L582.42,276.72 L582.42,276.22 L582.42,275.72 L582.41,275.22 L582.41,274.72 L582.41,274.22 L582.41,273.72 L582.40,273.22 L582.40,272.72 L582.39,272.22 L582.39,271.72 L582.38,271.23 L582.38,270.73 L582.37,270.23 L582.36,269.73 L582.35,269.23 L582.35,268.73 L582.34,268.23 L582.33,267.74 L582.32,267.24" stroke="#000" stroke-width="1.25" fill="none"/>
<path d="M554.75,424.15 L554.81,424.62 L554.88,425.08 L554.97,425.55 L555.07,426.01 L555.19,426.47 L555.31,426.92 L555.45,427.37 L555.60,427.82 L555.76,428.26 L555.94,428.69 L556.13,429.12 L556.33,429.55 L556.54,429.97 L556.77,430.38 L557.00,430.79 L557.25,431.19 L557.52,431.58 L557.79,431.96 L558.07,432.34 L558.37,432.72 L558.67,433.08 L558.99,433.45 L559.32,433.80 L559.65,434.15 L560.00,434.49 L560.36,434.83 L560.72,435.16 L561.09,435.49 L561.47,435.81 L561.86,436.12 L562.26,436.43 L562.67,436.73 L563.08,437.03 L563.50,437.32 L563.93,437.61 L564.36,437.89 L564.80,438.17 L565.25,438.44 L565.70,438.71 L566.16,438.97 L566.62,439.23 L567.08,439.48 L567.56,439.73 L568.03,439.97 L568.51,440.21 L568.99,440.44 L569.48,440.67 L569.97,440.90 L570.46,441.12 L570.96,441.34 L571.46,441.55 L571.96,441.76 L572.46,441.97 L572.96,442.17 L573.47,442.37 L573.97,442.57 L574.48,442.76 L574.99,442.95 L575.49,443.13 L576.00,443.31 L576.51,443.49 L577.01,443.66 L577.52,443.84 L578.02,444.00 L578.52,444.17 L579.02,444.33 L579.52,444.49 L580.02,444.65 L580.51,444.81 L581.01,444.96 L581.50,445.11 L581.99,445.25 L582.48,445.40 L582.97,445.54 L583.46,445.68 L583.95,445.81 L584.44,445.95 L584.92,446.08 L585.41,446.21 L585.89,446.34 L586.37,446.46 L586.85,446.59 L587.34,446.71 L587.82,446.83 L588.30,446.95 L588.78,447.06 L589.25,447.18 L589.73,447.29 L590.21,447.40 L590.69,447.51 L591.17,447.62 L591.64,447.73 L592.12,447.83 L592.60,447.94 L593.07,448.04 L593.55,448.14 L594.02,448.24 L594.50,448.34 L594.98,448.44 L595.45,448.53 L595.93,448.63 L596.41,448.72 L596.88,448.82 L597.36,448.91 L597.84,449.00 L598.31,449.09 L598.79,449.18 L599.27,449.27 L599.75,449.36 L600.23,449.45 L600.71,449.54 L601.19,449.63 L601.67,449.71 L602.15,449.80 L602.63,449.89 L603.12,449.97 L603.60,450.06 L604.08,450.14 L604.57,450.23 L605.05,450.31 L605.54,450.40 L606.03,450.48 L606.51,450.56 L607.00,450.64 L607.49,450.73 L607.97,450.81 L608.46,450.89 L608.95,450.97 L609.44,451.05 L609.93,451.13 L610.42,451.21 L610.91,451.29 L611.40,451.37 L611.89,451.45 L612.38,451.53 L612.88,451.60 L613.37,451.68 L613.86,451.76 L614.35,451.84 L614.85,451.91 L615.34,451.99 L615.84,452.07 L616.33,452.14 L616.83,452.22 L617.32,452.29 L617.82,452.37 L618.31,452.44 L618.81,452.52 L619.30,452.59 L619.80,452.67 L620.30,452.74 L620.80,452.81 L621.29,452.89 L621.79,452.96 L622.29,453.03 L622.79,453.11 L623.29,453.18 L623.79,453.25 L624.29,453.32 L624.79,453.40 L625.29,453.47 L625.78,453.54 L626.29,453.61 L626.79,453.68 L627.29,453.75 L627.79,453.82 L628.29,453.90 L628.79,453.97 L629.29,454.04 L629.79,454.11 L630.29,454.18 L630.79,454.25 L631.30,454.32 L631.80,454.39 L632.30,454.46 L632.80,454.53 L633.31,454.60 L633.81,454.67 L634.31,454.74 L634.81,454.81 L635.32,454.88 L635.82,454.95 L636.32,455.02 L636.83,455.09 L637.33,455.16 L637.83,455.23 L638.33,455.30 L638.84,455.37 L639.34,455.44 L639.84,455.51 L640.35,455.58 L640.85,455.65 L641.35,455.72 L641.86,455.78 L642.36,455.85 L642.86,455.92 L643.37,455.99 L643.87,456.06 L644.37,456.13 L644.88,456.20 L645.38,456.28 L645.88,456.35 L646.39,456.42 L646.89,456.49 L647.39,456.56 L647.90,456.63 L648.40,456.70 L648.90,456.77 L649.40,456.84 L649.91,456.91 L650.41,456.98 L650.91,457.06 L651.41,457.13 L651.91,457.20 L652.42,457.27 L652.92,457.34 L653.42,457.42 L653.92,457.49 L654.42,457.56 L654.92,457.63 L655.42,457.71 L655.92,457.78 L656.42,457.85 L656.92,457.93 L657.42,458.00 L657.92,458.08 L658.42,458.15 L658.92,458.23 L659.42,458.30 L659.92,458.38 L660.42,458.45 L660.92,458.53 L661.42,458.61 L661.91,458.68 L662.41,458.76 L662.91,458.84 L663.40,458.91 L663.90,458.99 L664.40,459.07 L664.89,459.15 L665.39,459.23 L665.88,459.31 L666.38,459.39 L666.87,459.47 L667.37,459.55 L667.86,459.63 L668.36,459.71 L668.85,459.79 L669.34,459.87 L669.83,459.95 L670.33,460.04 L670.82,460.12 L671.31,460.20 L671.80,460.29 L672.29,460.37 L672.78,460.46 L673.27,460.54 L673.76,460.63 L674.25,460.71 L674.74,460.80 L675.22,460.89 L675.71,460.97 L676.20,461.06 L676.69,461.15 L677.17,461.24 L677.66,461.33 L678.14,461.42 L678.63,461.51 L679.11,461.60 L679.59,461.69 L680.08,461.78 L680.56,461.88 L681.04,461.97 L681.52,462.06 L682.00,462.16 L682.48,462.25 L682.96,462.35 L683.44,462.44 L683.92,462.54" stroke="#ff0000" stroke-width="1.25" fill="none"/>
<path d="M554.75,424.15 L554.81,424.62 L554.88,425.08 L554.97,425.55 L555.07,426.01 L555.19,426.47 L555.31,426.92 L555.45,427.37 L555.60,427.82 L555.76,428.26 L555.94,428.69 L556.13,429.12 L556.33,429.55 L556.54,429.97 L556.77,430.38 L557.00,430.79 L557.25,431.19 L557.52,431.58 L557.79,431.96 L558.07,432.34 L558.37,432.72 L558.67,433.08 L558.99,433.45 L559.32,433.80 L559.65,434.15 L560.00,434.49 L560.36,434.83 L560.72,435.16 L561.09,435.49 L561.47,435.81 L561.86,436.12 L562.26,436.43 L562.67,436.73 L563.08,437.03 L563.50,437.32 L563.93,437.61 L564.36,437.89 L564.80,438.17 L565.25,438.44 L565.70,438.71 L566.16,438.97 L566.62,439.23 L567.08,439.48 L567.56,439.73 L568.03,439.97 L568.51,440.21 L568.99,440.44 L569.48,440.67 L569.97,440.90 L570.46,441.12 L570.96,441.34 L571.46,441.55 L571.96,441.76 L572.46,441.97 L572.96,442.17 L573.47,442.37 L573.97,442.57 L574.48,442.76 L574.99,442.95 L575.49,443.13 L576.00,443.31 L576.51,443.49 L577.01,443.66 L577.52,443.84 L578.02,444.00 L578.52,444.17 L579.02,444.33 L579.52,444.49 L580.02,444.65 L580.51,444.81 L581.01,444.96 L581.50,445.11 L581.99,445.25 L582.48,445.40 L582.97,445.54 L583.46,445.68 L583.95,445.81 L584.44,445.95 L584.92,446.08 L585.41,446.21 L585.89,446.34 L586.37,446.46 L586.85,446.59 L587.34,446.71 L587.82,446.83 L588.30,446.95 L588.78,447.06 L589.25,447.18 L589.73,447.29 L590.21,447.40 L590.69,447.51 L591.17,447.62 L591.64,447.73 L592.12,447.83 L592.60,447.94 L593.07,448.04 L593.55,448.14 L594.02,448.24 L594.50,448.34 L594.98,448.44 L595.45,448.53 L595.93,448.63 L596.41,448.72 L596.88,448.82 L597.36,448.91 L597.84,449.00 L598.31,449.09 L598.79,449.18 L599.27,449.27 L599.75,449.36 L600.23,449.45 L600.71,449.54 L601.19,449.63 L601.67,449.71 L602.15,449.80 L602.63,449.89 L603.12,449.97 L603.60,450.06 L604.08,450.14 L604.57,450.23 L605.05,450.31 L605.54,450.40 L606.03,450.48 L606.51,450.56 L607.00,450.64 L607.49,450.73 L607.97,450.81 L608.46,450.89 L608.95,450.97 L609.44,451.05 L609.93,451.13 L610.42,451.21 L610.91,451.29 L611.40,451.37 L611.89,451.45 L612.38,451.53 L612.88,451.60 L613.37,451.68 L613.86,451.76 L614.35,451.84 L614.85,451.91 L615.34,451.99 L615.84,452.07 L616.33,452.14 L616.83,452.22 L617.32,452.29 L617.82,452.37 L618.31,452.44 L618.81,452.52 L619.30,452.59 L619.80,452.67 L620.30,452.74 L620.80,452.81 L621.29,452.89 L621.79,452.96 L622.29,453.03 L622.79,453.11 L623.29,453.18 L623.79,453.25 L624.29,453.32 L624.79,453.40 L625.29,453.47 L625.78,453.54 L626.29,453.61 L626.79,453.68 L627.29,453.75 L627.79,453.82 L628.29,453.90 L628.79,453.97 L629.29,454.04 L629.79,454.11 L630.29,454.18 L630.79,454.25 L631.30,454.32 L631.80,454.39 L632.30,454.46 L632.80,454.53 L633.31,454.60 L633.81,454.67 L634.31,454.74 L634.81,454.81 L635.32,454.88 L635.82,454.95 L636.32,455.02 L636.83,455.09 L637.33,455.16 L637.83,455.23 L638.33,455.30 L638.84,455.37 L639.34,455.44 L639.84,455.51 L640.35,455.58 L640.85,455.65 L641.35,455.72 L641.86,455.78 L642.36,455.85 L642.86,455.92 L643.37,455.99 L643.87,456.06 L644.37,456.13 L644.88,456.20 L645.38,456.28 L645.88,456.35 L646.39,456.42 L646.89,456.49 L647.39,456.56 L647.90,456.63 L648.40,456.70 L648.90,456.77 L649.40,456.84 L649.91,456.91 L650.41,456.98 L650.91,457.06 L651.41,457.13 L651.91,457.20 L652.42,457.27 L652.92,457.34 L653.42,457.42 L653.92,457.49 L654.42,457.56 L654.92,457.63 L655.42,457.71 L655.92,457.78 L656.42,457.85 L656.92,457.93 L657.42,458.00 L657.92,458.08 L658.42,458.15 L658.92,458.23 L659.42,458.30 L659.92,458.38 L660.42,458.45 L660.92,458.53 L661.42,458.61 L661.91,458.68 L662.41,458.76 L662.91,458.84 L663.40,458.91 L663.90,458.99 L664.40,459.07 L664.89,459.15 L665.39,459.23 L665.88,459.31 L666.38,459.39 L666.87,459.47 L667.37,459.55 L667.86,459.63 L668.36,459.71 L668.85,459.79 L669.34,459.87 L669.83,459.95 L670.33,460.04 L670.82,460.12 L671.31,460.20 L671.80,460.29 L672.29,460.37 L672.78,460.46 L673.27,460.54 L673.76,460.63 L674.25,460.71 L674.74,460.80 L675.22,460.89 L675.71,460.97 L676.20,461.06 L676.69,461.15 L677.17,461.24 L677.66,461.33 L678.14,461.42 L678.63,461.51 L679.11,461.60 L679.59,461.69 L680.08,461.78 L680.56,461.88 L681.04,461.97 L681.52,462.06 L682.00,462.16 L682.48,462.25 L682.96,462.35 L683.44,462.44 L683.92,462.54" stroke="#0000ff" stroke-width="2.0" fill="none" stroke-dasharray="1.6 5.6" stroke-linecap="butt"/>
<line x1="545.2" y1="470.25" x2="545.2" y2="3" stroke="#ff0000" stroke-width="2.6" stroke-dasharray="1.5 8.35" />
</g>
<text x="47.60" y="495" font-size="18" text-anchor="middle">0.0</text>
<text x="171.97" y="495" font-size="18" text-anchor="middle">0.5</text>
<text x="296.35" y="495" font-size="18" text-anchor="middle">1.0</text>
<text x="420.73" y="495" font-size="18" text-anchor="middle">1.5</text>
<text x="545.10" y="495" font-size="18" text-anchor="middle">2.0</text>
<text x="669.48" y="495" font-size="18" text-anchor="middle">2.5</text>
<text x="38" y="475.10" font-size="18" text-anchor="end">0</text>
<text x="38" y="308.40" font-size="18" text-anchor="end">5</text>
<text x="38" y="141.70" font-size="18" text-anchor="end">10</text>
<text x="0" y="0" font-size="29" transform="translate(21.4,253.3) rotate(-90)" text-anchor="middle" stroke="#000" stroke-width="0.4">S</text>
<text x="355.1" y="519.5" font-size="29" text-anchor="middle" stroke="#000" stroke-width="0.7" style="font-family:'Liberation Serif',serif">&#949;</text>
<rect x="66.6" y="18.0" width="346.20000000000005" height="233.4" fill="#fff" stroke="#111" stroke-width="1.5"/>
<path d="M66.60,251.4 V246.40 M100.38,251.4 V248.80 M134.15,251.4 V246.40 M167.92,251.4 V248.80 M201.70,251.4 V246.40 M235.47,251.4 V248.80 M269.25,251.4 V246.40 M303.02,251.4 V248.80 M336.80,251.4 V246.40 M370.57,251.4 V248.80 M404.35,251.4 V246.40 M66.6,251.40 H71.10 M66.6,222.22 H69.20 M66.6,193.05 H71.10 M66.6,163.88 H69.20 M66.6,134.70 H71.10 M66.6,105.53 H69.20 M66.6,76.35 H71.10 M66.6,47.18 H69.20 M66.6,18.00 H71.10" stroke="#111" stroke-width="1.3" fill="none"/>
<g clip-path="url(#ci)" stroke-linejoin="round">
<path d="M66.81,161.70 L67.50,161.70 L68.20,161.70 L68.89,161.69 L69.59,161.68 L70.29,161.67 L70.98,161.66 L71.68,161.65 L72.38,161.63 L73.08,161.62 L73.77,161.60 L74.47,161.58 L75.17,161.55 L75.87,161.53 L76.57,161.51 L77.27,161.48 L77.97,161.45 L78.67,161.42 L79.37,161.39 L80.07,161.35 L80.77,161.32 L81.47,161.28 L82.17,161.24 L82.87,161.20 L83.57,161.15 L84.27,161.11 L84.97,161.06 L85.67,161.01 L86.37,160.96 L87.07,160.91 L87.77,160.86 L88.48,160.80 L89.18,160.75 L89.88,160.69 L90.58,160.63 L91.28,160.56 L91.98,160.50 L92.68,160.43 L93.39,160.37 L94.09,160.30 L94.79,160.23 L95.49,160.15 L96.19,160.08 L96.89,160.00 L97.60,159.92 L98.30,159.84 L99.00,159.76 L99.70,159.68 L100.40,159.59 L101.10,159.50 L101.80,159.41 L102.51,159.32 L103.21,159.23 L103.91,159.14 L104.61,159.04 L105.31,158.94 L106.01,158.84 L106.71,158.74 L107.41,158.64 L108.11,158.53 L108.81,158.42 L109.51,158.32 L110.21,158.21 L110.91,158.09 L111.61,157.98 L112.31,157.86 L113.01,157.74 L113.71,157.63 L114.41,157.50 L115.10,157.38 L115.80,157.26 L116.50,157.13 L117.20,157.00 L117.90,156.87 L118.59,156.74 L119.29,156.60 L119.99,156.47 L120.68,156.33 L121.38,156.19 L122.07,156.05 L122.77,155.91 L123.47,155.76 L124.16,155.62 L124.86,155.47 L125.55,155.32 L126.24,155.17 L126.94,155.01 L127.63,154.86 L128.32,154.70 L129.02,154.54 L129.71,154.38 L130.40,154.22 L131.09,154.05 L131.78,153.88 L132.47,153.72 L133.16,153.55 L133.85,153.37 L134.54,153.20 L135.23,153.02 L135.92,152.85 L136.61,152.67 L137.29,152.49 L137.98,152.30 L138.67,152.12 L139.35,151.93 L140.04,151.74 L140.72,151.55 L141.41,151.36 L142.09,151.17 L142.77,150.97 L143.46,150.78 L144.14,150.58 L144.82,150.37 L145.50,150.17 L146.18,149.97 L146.86,149.76 L147.54,149.55 L148.22,149.34 L148.90,149.13 L149.58,148.92 L150.25,148.70 L150.93,148.48 L151.61,148.26 L152.28,148.04 L152.96,147.82 L153.63,147.59 L154.30,147.37 L154.98,147.14 L155.65,146.91 L156.32,146.67 L156.99,146.44 L157.66,146.20 L158.33,145.97 L159.00,145.73 L159.66,145.48 L160.33,145.24 L161.00,144.99 L161.66,144.75 L162.33,144.50 L162.99,144.25 L163.65,143.99 L164.32,143.74 L164.98,143.48 L165.64,143.23 L166.30,142.97 L166.96,142.70 L167.62,142.44 L168.27,142.17 L168.93,141.91 L169.59,141.64 L170.24,141.36 L170.90,141.09 L171.55,140.82 L172.20,140.54 L172.85,140.26 L173.50,139.98 L174.15,139.70 L174.80,139.41 L175.45,139.13 L176.10,138.84 L176.74,138.55 L177.39,138.26 L178.03,137.96 L178.68,137.67 L179.32,137.37 L179.96,137.07 L180.60,136.77 L181.24,136.47 L181.88,136.16 L182.52,135.85 L183.15,135.55 L183.79,135.23 L184.42,134.92 L185.06,134.61 L185.69,134.29 L186.32,133.97 L186.95,133.65 L187.58,133.33 L188.21,133.01 L188.83,132.68 L189.46,132.35 L190.09,132.02 L190.71,131.69 L191.33,131.36 L191.95,131.02 L192.57,130.69 L193.19,130.35 L193.81,130.01 L194.43,129.67 L195.04,129.32 L195.66,128.97 L196.27,128.63 L196.89,128.28 L197.50,127.92 L198.11,127.57 L198.72,127.21 L199.32,126.86 L199.93,126.50 L200.54,126.13 L201.14,125.77 L201.74,125.40 L202.34,125.04 L202.94,124.67 L203.54,124.30 L204.14,123.92 L204.74,123.55 L205.33,123.17 L205.93,122.79 L206.52,122.41 L207.11,122.03 L207.70,121.64 L208.29,121.26 L208.88,120.87 L209.46,120.48 L210.05,120.09 L210.63,119.69 L211.21,119.30 L211.80,118.90 L212.37,118.50 L212.95,118.10 L213.53,117.69 L214.10,117.29 L214.68,116.88 L215.25,116.47 L215.82,116.06 L216.39,115.65 L216.96,115.23 L217.53,114.81 L218.09,114.40 L218.65,113.97 L219.22,113.55 L219.78,113.13 L220.34,112.70 L220.90,112.27 L221.45,111.84 L222.01,111.41 L222.56,110.97 L223.11,110.54 L223.66,110.10 L224.21,109.66 L224.76,109.22 L225.30,108.77 L225.85,108.33 L226.39,107.88 L226.93,107.43 L227.47,106.98 L228.01,106.52 L228.54,106.07 L229.08,105.61 L229.61,105.15 L230.14,104.69 L230.67,104.22 L231.20,103.76 L231.73,103.29 L232.25,102.82 L232.78,102.35 L233.30,101.88 L233.82,101.41 L234.34,100.93 L234.85,100.45 L235.37,99.97 L235.88,99.49 L236.39,99.00 L236.90,98.52 L237.41,98.03 L237.92,97.54 L238.42,97.05 L238.92,96.56 L239.43,96.06 L239.92,95.57 L240.42,95.07 L240.92,94.57 L241.41,94.07 L241.91,93.56 L242.40,93.06 L242.88,92.55 L243.37,92.04 L243.86,91.53 L244.34,91.02 L244.82,90.51 L245.30,89.99 L245.78,89.47 L246.26,88.95 L246.73,88.43 L247.20,87.91 L247.68,87.38 L248.14,86.86 L248.61,86.33 L249.08,85.80 L249.54,85.27 L250.00,84.74 L250.46,84.20 L250.92,83.67 L251.38,83.13 L251.83,82.59 L252.28,82.05 L252.73,81.50 L253.18,80.96 L253.63,80.41 L254.07,79.86 L254.51,79.31 L254.95,78.76 L255.39,78.21 L255.83,77.66 L256.26,77.10 L256.70,76.54 L257.13,75.98 L257.56,75.42 L257.98,74.86 L258.41,74.30 L258.83,73.73 L259.25,73.16 L259.67,72.59 L260.09,72.02 L260.50,71.45 L260.91,70.88 L261.32,70.30 L261.73,69.73 L262.14,69.15 L262.54,68.57 L262.95,67.99 L263.35,67.40 L263.74,66.82 L264.14,66.23 L264.53,65.65 L264.93,65.06 L265.32,64.47 L265.70,63.88 L266.09,63.28 L266.47,62.69 L266.85,62.09 L267.23,61.49 L267.61,60.89 L267.98,60.29 L268.36,59.69 L268.73,59.09 L269.10,58.48 L269.46,57.88 L269.83,57.27 L270.19,56.66 L270.55,56.05 L270.90,55.43 L271.26,54.82 L271.61,54.21 L271.96,53.59 L272.31,52.97 L272.66,52.35 L273.00,51.73 L273.34,51.11 L273.68,50.49 L274.02,49.86 L274.35,49.23 L274.69,48.61 L275.02,47.98 L275.35,47.35 L275.67,46.72 L275.99,46.08 L276.32,45.45 L276.63,44.81 L276.95,44.18 L277.26,43.54 L277.58,42.90 L277.89,42.26 L278.19,41.61 L278.50,40.97 L278.80,40.32 L279.10,39.68 L279.40,39.03 L279.69,38.38 L279.99,37.73 L280.28,37.08 L280.56,36.43 L280.85,35.77 L281.13,35.12 L281.41,34.46 L281.69,33.80 L281.97,33.15 L282.24,32.48 L282.51,31.82 L282.78,31.16 L283.05,30.50 L283.31,29.83 L283.57,29.17 L283.83,28.50 L284.09,27.83 L284.34,27.16 L284.59,26.49 L284.84,25.82 L285.09,25.14 L285.33,24.47 L285.57,23.79 L285.81,23.11 L286.05,22.44 L286.28,21.76 L286.51,21.08 L286.74,20.39 L286.96,19.71 L287.19,19.03 L287.41,18.34 L287.63,17.66" stroke="#000" stroke-width="1.15" fill="none"/>
<path d="M66.69,214.81 L67.57,214.82 L68.44,214.83 L69.31,214.84 L70.18,214.85 L71.05,214.86 L71.92,214.88 L72.79,214.89 L73.66,214.91 L74.53,214.92 L75.41,214.94 L76.28,214.95 L77.15,214.97 L78.02,214.99 L78.89,215.01 L79.76,215.03 L80.63,215.04 L81.50,215.06 L82.37,215.09 L83.24,215.11 L84.11,215.13 L84.98,215.15 L85.85,215.17 L86.72,215.20 L87.59,215.22 L88.46,215.24 L89.34,215.27 L90.21,215.29 L91.08,215.32 L91.95,215.35 L92.82,215.37 L93.69,215.40 L94.56,215.43 L95.43,215.46 L96.30,215.49 L97.17,215.52 L98.04,215.55 L98.91,215.58 L99.78,215.61 L100.65,215.64 L101.52,215.67 L102.39,215.71 L103.26,215.74 L104.13,215.77 L105.00,215.81 L105.87,215.84 L106.74,215.88 L107.60,215.91 L108.47,215.95 L109.34,215.99 L110.21,216.02 L111.08,216.06 L111.95,216.10 L112.82,216.14 L113.69,216.18 L114.56,216.22 L115.43,216.26 L116.30,216.30 L117.17,216.34 L118.04,216.38 L118.91,216.42 L119.78,216.47 L120.65,216.51 L121.52,216.55 L122.38,216.60 L123.25,216.64 L124.12,216.68 L124.99,216.73 L125.86,216.78 L126.73,216.82 L127.60,216.87 L128.47,216.92 L129.34,216.96 L130.21,217.01 L131.07,217.06 L131.94,217.11 L132.81,217.16 L133.68,217.21 L134.55,217.26 L135.42,217.31 L136.29,217.36 L137.16,217.41 L138.02,217.46 L138.89,217.51 L139.76,217.57 L140.63,217.62 L141.50,217.67 L142.37,217.73 L143.24,217.78 L144.10,217.84 L144.97,217.89 L145.84,217.95 L146.71,218.00 L147.58,218.06 L148.45,218.11 L149.31,218.17 L150.18,218.23 L151.05,218.29 L151.92,218.34 L152.79,218.40 L153.66,218.46 L154.52,218.52 L155.39,218.58 L156.26,218.64 L157.13,218.70 L158.00,218.76 L158.86,218.82 L159.73,218.88 L160.60,218.95 L161.47,219.01 L162.34,219.07 L163.20,219.13 L164.07,219.20 L164.94,219.26 L165.81,219.32 L166.68,219.39 L167.54,219.45 L168.41,219.52 L169.28,219.58 L170.15,219.65 L171.01,219.71 L171.88,219.78 L172.75,219.85 L173.62,219.91 L174.49,219.98 L175.35,220.05 L176.22,220.12 L177.09,220.18 L177.96,220.25 L178.82,220.32 L179.69,220.39 L180.56,220.46 L181.43,220.53 L182.29,220.60 L183.16,220.67 L184.03,220.74 L184.90,220.81 L185.76,220.88 L186.63,220.95 L187.50,221.02 L188.36,221.10 L189.23,221.17 L190.10,221.24 L190.97,221.31 L191.83,221.39 L192.70,221.46 L193.57,221.53 L194.44,221.61 L195.30,221.68 L196.17,221.75 L197.04,221.83 L197.90,221.90 L198.77,221.98 L199.64,222.05 L200.51,222.13 L201.37,222.21 L202.24,222.28 L203.11,222.36 L203.97,222.43 L204.84,222.51 L205.71,222.59 L206.57,222.67 L207.44,222.74 L208.31,222.82 L209.18,222.90 L210.04,222.98 L210.91,223.06 L211.78,223.13 L212.64,223.21 L213.51,223.29 L214.38,223.37 L215.24,223.45 L216.11,223.53 L216.98,223.61 L217.84,223.69 L218.71,223.77 L219.58,223.85 L220.44,223.93 L221.31,224.01 L222.18,224.09 L223.04,224.17 L223.91,224.26 L224.78,224.34 L225.64,224.42 L226.51,224.50 L227.38,224.58 L228.24,224.67 L229.11,224.75 L229.98,224.83 L230.84,224.91 L231.71,225.00 L232.58,225.08 L233.44,225.16 L234.31,225.25 L235.18,225.33 L236.04,225.41 L236.91,225.50 L237.78,225.58 L238.64,225.66 L239.51,225.75 L240.37,225.83 L241.24,225.92 L242.11,226.00 L242.97,226.09 L243.84,226.17 L244.71,226.26 L245.57,226.34 L246.44,226.43 L247.31,226.51 L248.17,226.60 L249.04,226.69 L249.90,226.77 L250.77,226.86 L251.64,226.94 L252.50,227.03 L253.37,227.12 L254.24,227.20 L255.10,227.29 L255.97,227.37 L256.83,227.46 L257.70,227.55 L258.57,227.63 L259.43,227.72 L260.30,227.81 L261.17,227.90 L262.03,227.98 L262.90,228.07 L263.76,228.16 L264.63,228.25 L265.50,228.33 L266.36,228.42 L267.23,228.51 L268.10,228.60 L268.96,228.68 L269.83,228.77 L270.69,228.86 L271.56,228.95 L272.43,229.03 L273.29,229.12 L274.16,229.21 L275.02,229.30 L275.89,229.39 L276.76,229.48 L277.62,229.56 L278.49,229.65 L279.35,229.74 L280.22,229.83 L281.09,229.92 L281.95,230.01 L282.82,230.09 L283.68,230.18 L284.55,230.27 L285.42,230.36 L286.28,230.45 L287.15,230.54 L288.02,230.62 L288.88,230.71 L289.75,230.80 L290.61,230.89 L291.48,230.98 L292.35,231.07 L293.21,231.16 L294.08,231.24 L294.94,231.33 L295.81,231.42 L296.68,231.51 L297.54,231.60 L298.41,231.69 L299.27,231.78 L300.14,231.86 L301.01,231.95 L301.87,232.04 L302.74,232.13 L303.60,232.22 L304.47,232.31 L305.34,232.39 L306.20,232.48 L307.07,232.57 L307.93,232.66 L308.80,232.75 L309.67,232.84 L310.53,232.92 L311.40,233.01 L312.26,233.10 L313.13,233.19 L314.00,233.27 L314.86,233.36 L315.73,233.45 L316.59,233.54 L317.46,233.63 L318.32,233.71 L319.19,233.80 L320.06,233.89 L320.92,233.97 L321.79,234.06 L322.65,234.15 L323.52,234.24 L324.39,234.32 L325.25,234.41 L326.12,234.50 L326.98,234.58 L327.85,234.67 L328.72,234.76 L329.58,234.84 L330.45,234.93 L331.32,235.01 L332.18,235.10 L333.05,235.19 L333.91,235.27 L334.78,235.36 L335.65,235.44 L336.51,235.53 L337.38,235.61 L338.24,235.70 L339.11,235.78 L339.98,235.87 L340.84,235.95 L341.71,236.04 L342.57,236.12 L343.44,236.21 L344.31,236.29 L345.17,236.38 L346.04,236.46 L346.90,236.54 L347.77,236.63 L348.64,236.71 L349.50,236.79 L350.37,236.88 L351.23,236.96 L352.10,237.04 L352.97,237.13 L353.83,237.21 L354.70,237.29 L355.57,237.37 L356.43,237.46 L357.30,237.54 L358.16,237.62 L359.03,237.70 L359.90,237.78 L360.76,237.86 L361.63,237.94 L362.50,238.03 L363.36,238.11 L364.23,238.19 L365.09,238.27 L365.96,238.35 L366.83,238.43 L367.69,238.51 L368.56,238.59 L369.43,238.66 L370.29,238.74 L371.16,238.82 L372.02,238.90 L372.89,238.98 L373.76,239.06 L374.62,239.14 L375.49,239.21 L376.36,239.29 L377.22,239.37 L378.09,239.44 L378.95,239.52 L379.82,239.60 L380.69,239.67 L381.55,239.75 L382.42,239.83 L383.29,239.90 L384.15,239.98 L385.02,240.05 L385.89,240.13 L386.75,240.20 L387.62,240.28 L388.49,240.35 L389.35,240.42 L390.22,240.50 L391.09,240.57 L391.95,240.64 L392.82,240.72 L393.69,240.79 L394.55,240.86 L395.42,240.93 L396.29,241.00 L397.15,241.07 L398.02,241.15 L398.89,241.22 L399.75,241.29 L400.62,241.36 L401.49,241.43 L402.35,241.50 L403.22,241.57 L404.09,241.63 L404.95,241.70 L405.82,241.77 L406.69,241.84 L407.55,241.91 L408.42,241.97 L409.29,242.04 L410.15,242.11 L411.02,242.17 L411.89,242.24 L412.75,242.31" stroke="#000" stroke-width="1.15" fill="none"/>
<path d="M179.66,192.93 L179.65,192.27 L179.71,191.61 L179.86,190.95 L180.07,190.29 L180.35,189.63 L180.69,188.98 L181.08,188.33 L181.51,187.68 L181.99,187.04 L182.50,186.40 L183.03,185.77 L183.59,185.15 L184.16,184.54 L184.74,183.93 L185.33,183.33 L185.92,182.75 L186.50,182.17 L187.09,181.60 L187.68,181.03 L188.27,180.48 L188.87,179.93 L189.46,179.39 L190.06,178.86 L190.65,178.33 L191.25,177.81 L191.85,177.30 L192.45,176.79 L193.05,176.29 L193.65,175.79 L194.25,175.30 L194.85,174.81 L195.46,174.33 L196.06,173.85 L196.66,173.37 L197.27,172.90 L197.88,172.43 L198.48,171.96 L199.09,171.49 L199.70,171.03 L200.30,170.57 L200.91,170.11 L201.52,169.65 L202.13,169.19 L202.74,168.74 L203.35,168.28 L203.96,167.82 L204.57,167.36 L205.18,166.90 L205.79,166.45 L206.40,165.98 L207.01,165.52 L207.62,165.06 L208.23,164.60 L208.84,164.13 L209.45,163.67 L210.05,163.20 L210.66,162.73 L211.27,162.26 L211.88,161.79 L212.49,161.32 L213.10,160.85 L213.71,160.38 L214.31,159.90 L214.92,159.42 L215.53,158.95 L216.13,158.47 L216.74,157.99 L217.35,157.51 L217.95,157.03 L218.56,156.54 L219.16,156.06 L219.76,155.57 L220.37,155.09 L220.97,154.60 L221.57,154.11 L222.17,153.62 L222.77,153.13 L223.37,152.64 L223.97,152.14 L224.57,151.65 L225.17,151.15 L225.76,150.65 L226.36,150.15 L226.96,149.65 L227.55,149.15 L228.14,148.65 L228.74,148.14 L229.33,147.64 L229.92,147.13 L230.51,146.62 L231.10,146.11 L231.68,145.60 L232.27,145.09 L232.86,144.57 L233.44,144.06 L234.02,143.54 L234.60,143.02 L235.19,142.51 L235.76,141.98 L236.34,141.46 L236.92,140.94 L237.50,140.41 L238.07,139.89 L238.64,139.36 L239.21,138.83 L239.79,138.30 L240.35,137.77 L240.92,137.23 L241.49,136.70 L242.05,136.16 L242.61,135.62 L243.18,135.08 L243.74,134.54 L244.29,134.00 L244.85,133.45 L245.41,132.91 L245.96,132.36 L246.51,131.81 L247.06,131.26 L247.61,130.71 L248.15,130.15 L248.70,129.60 L249.24,129.04 L249.78,128.48 L250.32,127.92 L250.86,127.36 L251.39,126.80 L251.93,126.23 L252.46,125.66 L252.99,125.10 L253.51,124.53 L254.04,123.95 L254.56,123.38 L255.08,122.81 L255.60,122.23 L256.12,121.65 L256.63,121.07 L257.14,120.49 L257.65,119.91 L258.16,119.32 L258.67,118.73 L259.17,118.15 L259.67,117.56 L260.17,116.96 L260.67,116.37 L261.16,115.77 L261.65,115.18 L262.14,114.58 L262.63,113.98 L263.11,113.37 L263.59,112.77 L264.07,112.16 L264.55,111.55 L265.02,110.94 L265.49,110.33 L265.96,109.72 L266.42,109.10 L266.89,108.49 L267.35,107.87 L267.81,107.25 L268.26,106.62 L268.71,106.00 L269.16,105.37 L269.61,104.74 L270.05,104.11 L270.49,103.48 L270.93,102.85 L271.36,102.21 L271.79,101.57 L272.22,100.93 L272.65,100.29 L273.07,99.65 L273.49,99.00 L273.91,98.36 L274.33,97.71 L274.74,97.06 L275.15,96.41 L275.56,95.75 L275.96,95.10 L276.37,94.44 L276.77,93.78 L277.16,93.12 L277.56,92.46 L277.95,91.80 L278.34,91.13 L278.72,90.47 L279.11,89.80 L279.49,89.13 L279.87,88.46 L280.24,87.78 L280.62,87.11 L280.99,86.43 L281.36,85.76 L281.73,85.08 L282.09,84.40 L282.45,83.72 L282.81,83.04 L283.17,82.35 L283.52,81.67 L283.87,80.98 L284.22,80.29 L284.57,79.60 L284.92,78.91 L285.26,78.22 L285.60,77.53 L285.94,76.83 L286.28,76.14 L286.61,75.44 L286.94,74.74 L287.27,74.04 L287.60,73.34 L287.92,72.64 L288.25,71.94 L288.57,71.24 L288.89,70.53 L289.20,69.82 L289.52,69.12 L289.83,68.41 L290.14,67.70 L290.45,66.99 L290.75,66.28 L291.06,65.57 L291.36,64.85 L291.66,64.14 L291.96,63.43 L292.26,62.71 L292.55,61.99 L292.84,61.28 L293.13,60.56 L293.42,59.84 L293.71,59.12 L293.99,58.40 L294.27,57.67 L294.56,56.95 L294.83,56.23 L295.11,55.50 L295.39,54.78 L295.66,54.05 L295.93,53.33 L296.20,52.60 L296.47,51.87 L296.74,51.14 L297.00,50.41 L297.27,49.68 L297.53,48.95 L297.79,48.22 L298.04,47.49 L298.30,46.76 L298.56,46.03 L298.81,45.29 L299.06,44.56 L299.31,43.82 L299.56,43.09 L299.80,42.35 L300.05,41.62 L300.29,40.88 L300.54,40.14 L300.78,39.41 L301.02,38.67 L301.25,37.93 L301.49,37.19 L301.72,36.45 L301.96,35.71 L302.19,34.97 L302.42,34.24 L302.65,33.50 L302.88,32.75 L303.10,32.01 L303.33,31.27 L303.55,30.53 L303.77,29.79 L303.99,29.05 L304.21,28.31 L304.43,27.57 L304.65,26.82 L304.87,26.08 L305.08,25.34 L305.29,24.60 L305.51,23.85 L305.72,23.11 L305.93,22.37 L306.13,21.63 L306.34,20.88 L306.55,20.14 L306.75,19.40 L306.96,18.66 L307.16,17.91" stroke="#ff0000" stroke-width="1.15" fill="none"/>
<path d="M179.66,192.93 L179.76,193.60 L179.93,194.25 L180.18,194.91 L180.50,195.55 L180.88,196.19 L181.32,196.82 L181.81,197.43 L182.34,198.03 L182.91,198.62 L183.52,199.18 L184.16,199.73 L184.82,200.25 L185.49,200.75 L186.18,201.22 L186.88,201.66 L187.58,202.08 L188.29,202.48 L189.00,202.85 L189.72,203.20 L190.44,203.54 L191.17,203.85 L191.90,204.15 L192.63,204.44 L193.37,204.72 L194.10,204.98 L194.84,205.24 L195.58,205.49 L196.32,205.74 L197.07,205.99 L197.81,206.23 L198.55,206.47 L199.29,206.71 L200.04,206.95 L200.78,207.18 L201.52,207.41 L202.27,207.64 L203.01,207.87 L203.76,208.09 L204.50,208.32 L205.25,208.54 L206.00,208.76 L206.74,208.97 L207.49,209.19 L208.24,209.40 L208.98,209.61 L209.73,209.82 L210.48,210.03 L211.23,210.23 L211.98,210.44 L212.72,210.64 L213.47,210.84 L214.22,211.04 L214.97,211.23 L215.72,211.42 L216.47,211.62 L217.23,211.81 L217.98,212.00 L218.73,212.18 L219.48,212.37 L220.23,212.55 L220.98,212.73 L221.74,212.92 L222.49,213.09 L223.24,213.27 L224.00,213.45 L224.75,213.62 L225.50,213.79 L226.26,213.97 L227.01,214.14 L227.77,214.30 L228.52,214.47 L229.28,214.64 L230.03,214.80 L230.79,214.96 L231.54,215.13 L232.30,215.29 L233.06,215.45 L233.81,215.60 L234.57,215.76 L235.33,215.92 L236.08,216.07 L236.84,216.22 L237.60,216.38 L238.36,216.53 L239.11,216.68 L239.87,216.82 L240.63,216.97 L241.39,217.12 L242.15,217.26 L242.91,217.41 L243.67,217.55 L244.43,217.70 L245.19,217.84 L245.95,217.98 L246.71,218.12 L247.47,218.26 L248.23,218.40 L248.99,218.53 L249.75,218.67 L250.51,218.81 L251.27,218.94 L252.03,219.08 L252.79,219.21 L253.55,219.35 L254.31,219.48 L255.07,219.61 L255.83,219.74 L256.60,219.87 L257.36,220.00 L258.12,220.13 L258.88,220.26 L259.64,220.39 L260.41,220.52 L261.17,220.65 L261.93,220.78 L262.69,220.90 L263.46,221.03 L264.22,221.16 L264.98,221.28 L265.74,221.41 L266.51,221.54 L267.27,221.66 L268.03,221.79 L268.80,221.91 L269.56,222.04 L270.32,222.16 L271.09,222.29 L271.85,222.41 L272.61,222.53 L273.38,222.66 L274.14,222.78 L274.90,222.91 L275.67,223.03 L276.43,223.16 L277.20,223.28 L277.96,223.40 L278.72,223.53 L279.49,223.65 L280.25,223.78 L281.01,223.90 L281.78,224.03 L282.54,224.15 L283.31,224.28 L284.07,224.40 L284.83,224.53 L285.60,224.66 L286.36,224.78 L287.12,224.91 L287.89,225.04 L288.65,225.16 L289.42,225.29 L290.18,225.42 L290.94,225.55 L291.71,225.68 L292.47,225.81 L293.23,225.94 L294.00,226.07 L294.76,226.20 L295.53,226.33 L296.29,226.46 L297.05,226.59 L297.82,226.73 L298.58,226.86 L299.34,226.99 L300.11,227.12 L300.87,227.25 L301.63,227.38 L302.40,227.51 L303.16,227.65 L303.93,227.78 L304.69,227.91 L305.45,228.04 L306.22,228.17 L306.98,228.30 L307.75,228.43 L308.51,228.56 L309.28,228.69 L310.04,228.82 L310.80,228.95 L311.57,229.08 L312.33,229.20 L313.10,229.33 L313.86,229.46 L314.63,229.58 L315.39,229.71 L316.16,229.84 L316.92,229.96 L317.69,230.08 L318.45,230.21 L319.22,230.33 L319.99,230.45 L320.75,230.57 L321.52,230.69 L322.28,230.81 L323.05,230.92 L323.82,231.04 L324.58,231.16 L325.35,231.27 L326.12,231.38 L326.88,231.50 L327.65,231.61 L328.42,231.72 L329.19,231.83 L329.95,231.93 L330.72,232.04 L331.49,232.15 L332.26,232.25 L333.03,232.35 L333.80,232.45 L334.56,232.55 L335.33,232.65 L336.10,232.75 L336.87,232.84 L337.64,232.93 L338.41,233.02 L339.18,233.11 L339.95,233.20 L340.72,233.29 L341.50,233.37 L342.27,233.46 L343.04,233.54 L343.81,233.62 L344.58,233.70 L345.35,233.77 L346.13,233.84 L346.90,233.92 L347.67,233.99 L348.45,234.05 L349.22,234.12 L349.99,234.18 L350.77,234.24 L351.54,234.30 L352.32,234.36 L353.09,234.42 L353.87,234.47 L354.64,234.52 L355.42,234.57 L356.19,234.62 L356.97,234.67 L357.75,234.72 L358.52,234.76 L359.30,234.81 L360.08,234.85 L360.85,234.90 L361.63,234.94 L362.40,234.98 L363.18,235.03 L363.96,235.07 L364.73,235.11 L365.51,235.15 L366.29,235.19 L367.06,235.24 L367.84,235.28 L368.61,235.32 L369.39,235.37 L370.17,235.41 L370.94,235.46 L371.72,235.50 L372.49,235.55 L373.26,235.60 L374.04,235.65 L374.81,235.70 L375.59,235.75 L376.36,235.81 L377.13,235.86 L377.91,235.92 L378.68,235.98 L379.45,236.04 L380.22,236.11 L380.99,236.17 L381.76,236.24 L382.53,236.31 L383.30,236.39 L384.07,236.47 L384.84,236.55 L385.61,236.63 L386.37,236.71 L387.14,236.80 L387.91,236.89 L388.67,236.99 L389.44,237.09 L390.20,237.19 L390.96,237.30 L391.73,237.41 L392.49,237.52 L393.25,237.64 L394.01,237.77 L394.77,237.89 L395.53,238.03 L396.29,238.16 L397.04,238.30 L397.80,238.45 L398.55,238.60 L399.31,238.76 L400.06,238.92 L400.82,239.08 L401.57,239.25 L402.32,239.43 L403.07,239.61 L403.82,239.80 L404.56,240.00 L405.31,240.20 L406.06,240.40 L406.80,240.62 L407.54,240.83 L408.28,241.06 L409.03,241.29 L409.77,241.53 L410.50,241.77 L411.24,242.03 L411.98,242.29 L412.71,242.55" stroke="#109090" stroke-width="1.15" fill="none"/>
<path d="M179.66,192.93 L179.76,193.60 L179.93,194.25 L180.18,194.91 L180.50,195.55 L180.88,196.19 L181.32,196.82 L181.81,197.43 L182.34,198.03 L182.91,198.62 L183.52,199.18 L184.16,199.73 L184.82,200.25 L185.49,200.75 L186.18,201.22 L186.88,201.66 L187.58,202.08 L188.29,202.48 L189.00,202.85 L189.72,203.20 L190.44,203.54 L191.17,203.85 L191.90,204.15 L192.63,204.44 L193.37,204.72 L194.10,204.98 L194.84,205.24 L195.58,205.49 L196.32,205.74 L197.07,205.99 L197.81,206.23 L198.55,206.47 L199.29,206.71 L200.04,206.95 L200.78,207.18 L201.52,207.41 L202.27,207.64 L203.01,207.87 L203.76,208.09 L204.50,208.32 L205.25,208.54 L206.00,208.76 L206.74,208.97 L207.49,209.19 L208.24,209.40 L208.98,209.61 L209.73,209.82 L210.48,210.03 L211.23,210.23 L211.98,210.44 L212.72,210.64 L213.47,210.84 L214.22,211.04 L214.97,211.23 L215.72,211.42 L216.47,211.62 L217.23,211.81 L217.98,212.00 L218.73,212.18 L219.48,212.37 L220.23,212.55 L220.98,212.73 L221.74,212.92 L222.49,213.09 L223.24,213.27 L224.00,213.45 L224.75,213.62 L225.50,213.79 L226.26,213.97 L227.01,214.14 L227.77,214.30 L228.52,214.47 L229.28,214.64 L230.03,214.80 L230.79,214.96 L231.54,215.13 L232.30,215.29 L233.06,215.45 L233.81,215.60 L234.57,215.76 L235.33,215.92 L236.08,216.07 L236.84,216.22 L237.60,216.38 L238.36,216.53 L239.11,216.68 L239.87,216.82 L240.63,216.97 L241.39,217.12 L242.15,217.26 L242.91,217.41 L243.67,217.55 L244.43,217.70 L245.19,217.84 L245.95,217.98 L246.71,218.12 L247.47,218.26 L248.23,218.40 L248.99,218.53 L249.75,218.67 L250.51,218.81 L251.27,218.94 L252.03,219.08 L252.79,219.21 L253.55,219.35 L254.31,219.48 L255.07,219.61 L255.83,219.74 L256.60,219.87 L257.36,220.00 L258.12,220.13 L258.88,220.26 L259.64,220.39 L260.41,220.52 L261.17,220.65 L261.93,220.78 L262.69,220.90 L263.46,221.03 L264.22,221.16 L264.98,221.28 L265.74,221.41 L266.51,221.54 L267.27,221.66 L268.03,221.79 L268.80,221.91 L269.56,222.04 L270.32,222.16 L271.09,222.29 L271.85,222.41 L272.61,222.53 L273.38,222.66 L274.14,222.78 L274.90,222.91 L275.67,223.03 L276.43,223.16 L277.20,223.28 L277.96,223.40 L278.72,223.53 L279.49,223.65 L280.25,223.78 L281.01,223.90 L281.78,224.03 L282.54,224.15 L283.31,224.28 L284.07,224.40 L284.83,224.53 L285.60,224.66 L286.36,224.78 L287.12,224.91 L287.89,225.04 L288.65,225.16 L289.42,225.29 L290.18,225.42 L290.94,225.55 L291.71,225.68 L292.47,225.81 L293.23,225.94 L294.00,226.07 L294.76,226.20 L295.53,226.33 L296.29,226.46 L297.05,226.59 L297.82,226.73 L298.58,226.86 L299.34,226.99 L300.11,227.12 L300.87,227.25 L301.63,227.38 L302.40,227.51 L303.16,227.65 L303.93,227.78 L304.69,227.91 L305.45,228.04 L306.22,228.17 L306.98,228.30 L307.75,228.43 L308.51,228.56 L309.28,228.69 L310.04,228.82 L310.80,228.95 L311.57,229.08 L312.33,229.20 L313.10,229.33 L313.86,229.46 L314.63,229.58 L315.39,229.71 L316.16,229.84 L316.92,229.96 L317.69,230.08 L318.45,230.21 L319.22,230.33 L319.99,230.45 L320.75,230.57 L321.52,230.69 L322.28,230.81 L323.05,230.92 L323.82,231.04 L324.58,231.16 L325.35,231.27 L326.12,231.38 L326.88,231.50 L327.65,231.61 L328.42,231.72 L329.19,231.83 L329.95,231.93 L330.72,232.04 L331.49,232.15 L332.26,232.25 L333.03,232.35 L333.80,232.45 L334.56,232.55 L335.33,232.65 L336.10,232.75 L336.87,232.84 L337.64,232.93 L338.41,233.02 L339.18,233.11 L339.95,233.20 L340.72,233.29 L341.50,233.37 L342.27,233.46 L343.04,233.54 L343.81,233.62 L344.58,233.70 L345.35,233.77 L346.13,233.84 L346.90,233.92 L347.67,233.99 L348.45,234.05 L349.22,234.12 L349.99,234.18 L350.77,234.24 L351.54,234.30 L352.32,234.36 L353.09,234.42 L353.87,234.47 L354.64,234.52 L355.42,234.57 L356.19,234.62 L356.97,234.67 L357.75,234.72 L358.52,234.76 L359.30,234.81 L360.08,234.85 L360.85,234.90 L361.63,234.94 L362.40,234.98 L363.18,235.03 L363.96,235.07 L364.73,235.11 L365.51,235.15 L366.29,235.19 L367.06,235.24 L367.84,235.28 L368.61,235.32 L369.39,235.37 L370.17,235.41 L370.94,235.46 L371.72,235.50 L372.49,235.55 L373.26,235.60 L374.04,235.65 L374.81,235.70 L375.59,235.75 L376.36,235.81 L377.13,235.86 L377.91,235.92 L378.68,235.98 L379.45,236.04 L380.22,236.11 L380.99,236.17 L381.76,236.24 L382.53,236.31 L383.30,236.39 L384.07,236.47 L384.84,236.55 L385.61,236.63 L386.37,236.71 L387.14,236.80 L387.91,236.89 L388.67,236.99 L389.44,237.09 L390.20,237.19 L390.96,237.30 L391.73,237.41 L392.49,237.52 L393.25,237.64 L394.01,237.77 L394.77,237.89 L395.53,238.03 L396.29,238.16 L397.04,238.30 L397.80,238.45 L398.55,238.60 L399.31,238.76 L400.06,238.92 L400.82,239.08 L401.57,239.25 L402.32,239.43 L403.07,239.61 L403.82,239.80 L404.56,240.00 L405.31,240.20 L406.06,240.40 L406.80,240.62 L407.54,240.83 L408.28,241.06 L409.03,241.29 L409.77,241.53 L410.50,241.77 L411.24,242.03 L411.98,242.29 L412.71,242.55" stroke="#ff00ff" stroke-width="1.1" fill="none" stroke-dasharray="1.0 2.8" stroke-linecap="butt"/>
<path d="M241.62,189.12 L241.58,188.52 L241.57,187.91 L241.58,187.31 L241.61,186.71 L241.67,186.10 L241.75,185.50 L241.85,184.90 L241.97,184.29 L242.11,183.69 L242.27,183.09 L242.45,182.49 L242.64,181.90 L242.85,181.30 L243.08,180.71 L243.32,180.12 L243.58,179.53 L243.85,178.95 L244.14,178.37 L244.43,177.80 L244.74,177.22 L245.06,176.66 L245.38,176.10 L245.72,175.54 L246.06,174.98 L246.41,174.44 L246.77,173.89 L247.14,173.35 L247.51,172.81 L247.88,172.28 L248.26,171.75 L248.64,171.22 L249.03,170.69 L249.42,170.17 L249.80,169.65 L250.19,169.14 L250.58,168.62 L250.97,168.11 L251.36,167.60 L251.75,167.10 L252.13,166.59 L252.52,166.09 L252.90,165.59 L253.29,165.08 L253.67,164.59 L254.06,164.09 L254.44,163.59 L254.82,163.09 L255.20,162.60 L255.59,162.10 L255.97,161.61 L256.34,161.12 L256.72,160.62 L257.10,160.13 L257.48,159.63 L257.85,159.14 L258.22,158.65 L258.60,158.15 L258.97,157.66 L259.34,157.16 L259.71,156.66 L260.07,156.16 L260.44,155.67 L260.81,155.16 L261.17,154.66 L261.53,154.16 L261.89,153.66 L262.25,153.15 L262.61,152.64 L262.97,152.14 L263.33,151.63 L263.68,151.12 L264.04,150.61 L264.39,150.10 L264.74,149.58 L265.10,149.07 L265.45,148.56 L265.80,148.04 L266.15,147.53 L266.50,147.01 L266.85,146.49 L267.19,145.98 L267.54,145.46 L267.89,144.94 L268.24,144.42 L268.58,143.90 L268.93,143.38 L269.27,142.86 L269.62,142.34 L269.97,141.81 L270.31,141.29 L270.66,140.77 L271.00,140.25 L271.35,139.72 L271.69,139.20 L272.04,138.68 L272.38,138.15 L272.73,137.63 L273.07,137.10 L273.42,136.58 L273.76,136.05 L274.11,135.53 L274.46,135.01 L274.80,134.48 L275.15,133.96 L275.50,133.43 L275.84,132.90 L276.19,132.38 L276.53,131.85 L276.88,131.33 L277.23,130.80 L277.57,130.27 L277.92,129.75 L278.26,129.22 L278.60,128.69 L278.95,128.16 L279.29,127.63 L279.63,127.10 L279.97,126.57 L280.31,126.04 L280.65,125.51 L280.99,124.98 L281.33,124.45 L281.66,123.92 L282.00,123.39 L282.33,122.85 L282.67,122.32 L283.00,121.79 L283.33,121.25 L283.66,120.71 L283.99,120.18 L284.31,119.64 L284.64,119.10 L284.96,118.56 L285.28,118.03 L285.61,117.49 L285.92,116.94 L286.24,116.40 L286.56,115.86 L286.87,115.32 L287.18,114.77 L287.49,114.23 L287.80,113.68 L288.10,113.14 L288.41,112.59 L288.71,112.04 L289.01,111.49 L289.31,110.94 L289.60,110.39 L289.89,109.83 L290.19,109.28 L290.47,108.73 L290.76,108.17 L291.05,107.61 L291.33,107.06 L291.61,106.50 L291.89,105.94 L292.16,105.38 L292.44,104.82 L292.71,104.26 L292.98,103.70 L293.25,103.13 L293.52,102.57 L293.78,102.00 L294.05,101.44 L294.31,100.87 L294.57,100.31 L294.83,99.74 L295.08,99.17 L295.34,98.60 L295.59,98.03 L295.84,97.46 L296.09,96.89 L296.34,96.31 L296.58,95.74 L296.83,95.17 L297.07,94.59 L297.31,94.02 L297.55,93.44 L297.78,92.86 L298.02,92.29 L298.25,91.71 L298.49,91.13 L298.72,90.55 L298.95,89.97 L299.18,89.39 L299.40,88.81 L299.63,88.22 L299.85,87.64 L300.07,87.06 L300.29,86.47 L300.51,85.89 L300.73,85.30 L300.95,84.72 L301.16,84.13 L301.38,83.55 L301.59,82.96 L301.80,82.37 L302.01,81.78 L302.22,81.19 L302.43,80.60 L302.63,80.01 L302.84,79.42 L303.04,78.83 L303.25,78.24 L303.45,77.65 L303.65,77.06 L303.85,76.46 L304.05,75.87 L304.24,75.27 L304.44,74.68 L304.63,74.09 L304.83,73.49 L305.02,72.89 L305.21,72.30 L305.40,71.70 L305.59,71.11 L305.78,70.51 L305.97,69.91 L306.15,69.31 L306.34,68.71 L306.53,68.12 L306.71,67.52 L306.89,66.92 L307.07,66.32 L307.26,65.72 L307.44,65.12 L307.62,64.52 L307.80,63.92 L307.97,63.31 L308.15,62.71 L308.33,62.11 L308.50,61.51 L308.68,60.91 L308.85,60.30 L309.03,59.70 L309.20,59.10 L309.38,58.50 L309.55,57.89 L309.72,57.29 L309.89,56.68 L310.06,56.08 L310.23,55.48 L310.40,54.87 L310.57,54.27 L310.74,53.66 L310.90,53.06 L311.07,52.45 L311.24,51.85 L311.40,51.24 L311.57,50.64 L311.74,50.03 L311.90,49.42 L312.07,48.82 L312.23,48.21 L312.40,47.61 L312.56,47.00 L312.72,46.39 L312.89,45.79 L313.05,45.18 L313.21,44.58 L313.37,43.97 L313.54,43.36 L313.70,42.76 L313.86,42.15 L314.02,41.55 L314.18,40.94 L314.34,40.33 L314.51,39.73 L314.67,39.12 L314.83,38.51 L314.99,37.91 L315.15,37.30 L315.31,36.70 L315.47,36.09 L315.63,35.48 L315.79,34.88 L315.96,34.27 L316.12,33.67 L316.28,33.06 L316.44,32.46 L316.60,31.85 L316.76,31.25 L316.92,30.64 L317.08,30.04 L317.25,29.43 L317.41,28.83 L317.57,28.22 L317.73,27.62 L317.90,27.02 L318.06,26.41 L318.22,25.81 L318.39,25.21 L318.55,24.60 L318.71,24.00 L318.88,23.40 L319.04,22.79 L319.21,22.19 L319.37,21.59 L319.54,20.99 L319.71,20.39 L319.87,19.79 L320.04,19.19 L320.21,18.59 L320.38,17.99" stroke="#808000" stroke-width="1.15" fill="none"/>
<path d="M241.62,189.12 L241.69,189.72 L241.78,190.32 L241.89,190.91 L242.04,191.51 L242.20,192.10 L242.39,192.68 L242.59,193.26 L242.82,193.84 L243.07,194.40 L243.34,194.97 L243.63,195.52 L243.93,196.07 L244.25,196.61 L244.58,197.14 L244.93,197.66 L245.29,198.17 L245.67,198.66 L246.06,199.15 L246.46,199.62 L246.87,200.09 L247.29,200.54 L247.72,200.98 L248.16,201.41 L248.61,201.82 L249.07,202.23 L249.54,202.63 L250.01,203.02 L250.50,203.39 L250.99,203.76 L251.49,204.12 L252.00,204.47 L252.52,204.81 L253.04,205.15 L253.57,205.47 L254.11,205.79 L254.65,206.10 L255.20,206.40 L255.76,206.70 L256.32,206.99 L256.88,207.27 L257.45,207.55 L258.03,207.82 L258.60,208.09 L259.19,208.35 L259.77,208.60 L260.36,208.85 L260.95,209.10 L261.55,209.34 L262.14,209.58 L262.74,209.82 L263.34,210.05 L263.94,210.28 L264.55,210.50 L265.15,210.73 L265.75,210.95 L266.36,211.17 L266.96,211.38 L267.57,211.60 L268.17,211.81 L268.78,212.03 L269.39,212.24 L269.99,212.45 L270.60,212.65 L271.20,212.86 L271.81,213.07 L272.41,213.27 L273.02,213.47 L273.63,213.67 L274.23,213.87 L274.84,214.06 L275.45,214.26 L276.05,214.45 L276.66,214.64 L277.27,214.83 L277.87,215.02 L278.48,215.21 L279.09,215.40 L279.69,215.58 L280.30,215.76 L280.91,215.95 L281.52,216.13 L282.12,216.30 L282.73,216.48 L283.34,216.66 L283.95,216.83 L284.56,217.01 L285.16,217.18 L285.77,217.35 L286.38,217.52 L286.99,217.68 L287.60,217.85 L288.21,218.02 L288.82,218.18 L289.42,218.34 L290.03,218.50 L290.64,218.66 L291.25,218.82 L291.86,218.98 L292.47,219.14 L293.08,219.29 L293.69,219.45 L294.30,219.60 L294.91,219.75 L295.52,219.90 L296.13,220.05 L296.74,220.20 L297.35,220.35 L297.96,220.49 L298.57,220.64 L299.18,220.78 L299.79,220.93 L300.40,221.07 L301.01,221.21 L301.62,221.35 L302.23,221.49 L302.84,221.63 L303.45,221.76 L304.06,221.90 L304.67,222.03 L305.29,222.17 L305.90,222.30 L306.51,222.43 L307.12,222.56 L307.73,222.69 L308.34,222.82 L308.95,222.95 L309.57,223.08 L310.18,223.21 L310.79,223.33 L311.40,223.46 L312.01,223.58 L312.62,223.70 L313.24,223.83 L313.85,223.95 L314.46,224.07 L315.07,224.19 L315.69,224.31 L316.30,224.43 L316.91,224.55 L317.52,224.66 L318.14,224.78 L318.75,224.90 L319.36,225.01 L319.97,225.13 L320.59,225.24 L321.20,225.35 L321.81,225.47 L322.43,225.58 L323.04,225.69 L323.65,225.80 L324.27,225.91 L324.88,226.02 L325.49,226.13 L326.11,226.24 L326.72,226.35 L327.33,226.45 L327.95,226.56 L328.56,226.67 L329.17,226.77 L329.79,226.88 L330.40,226.98 L331.02,227.09 L331.63,227.19 L332.24,227.30 L332.86,227.40 L333.47,227.50 L334.09,227.61 L334.70,227.71 L335.32,227.81 L335.93,227.91 L336.54,228.01 L337.16,228.11 L337.77,228.21 L338.39,228.31 L339.00,228.41 L339.62,228.51 L340.23,228.61 L340.85,228.71 L341.46,228.81 L342.08,228.91 L342.69,229.01 L343.31,229.11 L343.92,229.20 L344.54,229.30 L345.15,229.40 L345.77,229.50 L346.38,229.59 L347.00,229.69 L347.61,229.79 L348.23,229.89 L348.84,229.98 L349.46,230.08 L350.07,230.18 L350.69,230.27 L351.30,230.37 L351.92,230.47 L352.53,230.56 L353.15,230.66 L353.76,230.76 L354.38,230.85 L355.00,230.95 L355.61,231.05 L356.23,231.14 L356.84,231.24 L357.46,231.34 L358.07,231.43 L358.69,231.53 L359.31,231.63 L359.92,231.72 L360.54,231.82 L361.15,231.92 L361.77,232.02 L362.39,232.11 L363.00,232.21 L363.62,232.31 L364.23,232.41 L364.85,232.51 L365.47,232.61 L366.08,232.70 L366.70,232.80 L367.31,232.90 L367.93,233.00 L368.55,233.10 L369.16,233.20 L369.78,233.30 L370.40,233.40 L371.01,233.51 L371.63,233.61 L372.24,233.71 L372.86,233.81 L373.48,233.92 L374.09,234.02 L374.71,234.12 L375.33,234.23 L375.94,234.33 L376.56,234.44 L377.18,234.54 L377.79,234.65 L378.41,234.75 L379.02,234.86 L379.64,234.97 L380.26,235.07 L380.87,235.18 L381.49,235.29 L382.11,235.40 L382.72,235.51 L383.34,235.62 L383.96,235.73 L384.57,235.84 L385.19,235.96 L385.81,236.07 L386.42,236.18 L387.04,236.30 L387.66,236.41 L388.27,236.53 L388.89,236.64 L389.51,236.76 L390.12,236.88 L390.74,237.00 L391.35,237.12 L391.97,237.24 L392.59,237.36 L393.20,237.48 L393.82,237.60 L394.44,237.72 L395.05,237.85 L395.67,237.97 L396.29,238.10 L396.90,238.22 L397.52,238.35 L398.14,238.48 L398.75,238.61 L399.37,238.74 L399.99,238.87 L400.60,239.00 L401.22,239.13 L401.84,239.27 L402.45,239.40 L403.07,239.54 L403.68,239.67 L404.30,239.81 L404.92,239.95 L405.53,240.09 L406.15,240.23 L406.77,240.37 L407.38,240.51 L408.00,240.65 L408.62,240.80 L409.23,240.94 L409.85,241.09 L410.46,241.24 L411.08,241.39 L411.70,241.54 L412.31,241.69 L412.93,241.84" stroke="#000080" stroke-width="1.15" fill="none"/>
<path d="M241.62,189.12 L241.69,189.72 L241.78,190.32 L241.89,190.91 L242.04,191.51 L242.20,192.10 L242.39,192.68 L242.59,193.26 L242.82,193.84 L243.07,194.40 L243.34,194.97 L243.63,195.52 L243.93,196.07 L244.25,196.61 L244.58,197.14 L244.93,197.66 L245.29,198.17 L245.67,198.66 L246.06,199.15 L246.46,199.62 L246.87,200.09 L247.29,200.54 L247.72,200.98 L248.16,201.41 L248.61,201.82 L249.07,202.23 L249.54,202.63 L250.01,203.02 L250.50,203.39 L250.99,203.76 L251.49,204.12 L252.00,204.47 L252.52,204.81 L253.04,205.15 L253.57,205.47 L254.11,205.79 L254.65,206.10 L255.20,206.40 L255.76,206.70 L256.32,206.99 L256.88,207.27 L257.45,207.55 L258.03,207.82 L258.60,208.09 L259.19,208.35 L259.77,208.60 L260.36,208.85 L260.95,209.10 L261.55,209.34 L262.14,209.58 L262.74,209.82 L263.34,210.05 L263.94,210.28 L264.55,210.50 L265.15,210.73 L265.75,210.95 L266.36,211.17 L266.96,211.38 L267.57,211.60 L268.17,211.81 L268.78,212.03 L269.39,212.24 L269.99,212.45 L270.60,212.65 L271.20,212.86 L271.81,213.07 L272.41,213.27 L273.02,213.47 L273.63,213.67 L274.23,213.87 L274.84,214.06 L275.45,214.26 L276.05,214.45 L276.66,214.64 L277.27,214.83 L277.87,215.02 L278.48,215.21 L279.09,215.40 L279.69,215.58 L280.30,215.76 L280.91,215.95 L281.52,216.13 L282.12,216.30 L282.73,216.48 L283.34,216.66 L283.95,216.83 L284.56,217.01 L285.16,217.18 L285.77,217.35 L286.38,217.52 L286.99,217.68 L287.60,217.85 L288.21,218.02 L288.82,218.18 L289.42,218.34 L290.03,218.50 L290.64,218.66 L291.25,218.82 L291.86,218.98 L292.47,219.14 L293.08,219.29 L293.69,219.45 L294.30,219.60 L294.91,219.75 L295.52,219.90 L296.13,220.05 L296.74,220.20 L297.35,220.35 L297.96,220.49 L298.57,220.64 L299.18,220.78 L299.79,220.93 L300.40,221.07 L301.01,221.21 L301.62,221.35 L302.23,221.49 L302.84,221.63 L303.45,221.76 L304.06,221.90 L304.67,222.03 L305.29,222.17 L305.90,222.30 L306.51,222.43 L307.12,222.56 L307.73,222.69 L308.34,222.82 L308.95,222.95 L309.57,223.08 L310.18,223.21 L310.79,223.33 L311.40,223.46 L312.01,223.58 L312.62,223.70 L313.24,223.83 L313.85,223.95 L314.46,224.07 L315.07,224.19 L315.69,224.31 L316.30,224.43 L316.91,224.55 L317.52,224.66 L318.14,224.78 L318.75,224.90 L319.36,225.01 L319.97,225.13 L320.59,225.24 L321.20,225.35 L321.81,225.47 L322.43,225.58 L323.04,225.69 L323.65,225.80 L324.27,225.91 L324.88,226.02 L325.49,226.13 L326.11,226.24 L326.72,226.35 L327.33,226.45 L327.95,226.56 L328.56,226.67 L329.17,226.77 L329.79,226.88 L330.40,226.98 L331.02,227.09 L331.63,227.19 L332.24,227.30 L332.86,227.40 L333.47,227.50 L334.09,227.61 L334.70,227.71 L335.32,227.81 L335.93,227.91 L336.54,228.01 L337.16,228.11 L337.77,228.21 L338.39,228.31 L339.00,228.41 L339.62,228.51 L340.23,228.61 L340.85,228.71 L341.46,228.81 L342.08,228.91 L342.69,229.01 L343.31,229.11 L343.92,229.20 L344.54,229.30 L345.15,229.40 L345.77,229.50 L346.38,229.59 L347.00,229.69 L347.61,229.79 L348.23,229.89 L348.84,229.98 L349.46,230.08 L350.07,230.18 L350.69,230.27 L351.30,230.37 L351.92,230.47 L352.53,230.56 L353.15,230.66 L353.76,230.76 L354.38,230.85 L355.00,230.95 L355.61,231.05 L356.23,231.14 L356.84,231.24 L357.46,231.34 L358.07,231.43 L358.69,231.53 L359.31,231.63 L359.92,231.72 L360.54,231.82 L361.15,231.92 L361.77,232.02 L362.39,232.11 L363.00,232.21 L363.62,232.31 L364.23,232.41 L364.85,232.51 L365.47,232.61 L366.08,232.70 L366.70,232.80 L367.31,232.90 L367.93,233.00 L368.55,233.10 L369.16,233.20 L369.78,233.30 L370.40,233.40 L371.01,233.51 L371.63,233.61 L372.24,233.71 L372.86,233.81 L373.48,233.92 L374.09,234.02 L374.71,234.12 L375.33,234.23 L375.94,234.33 L376.56,234.44 L377.18,234.54 L377.79,234.65 L378.41,234.75 L379.02,234.86 L379.64,234.97 L380.26,235.07 L380.87,235.18 L381.49,235.29 L382.11,235.40 L382.72,235.51 L383.34,235.62 L383.96,235.73 L384.57,235.84 L385.19,235.96 L385.81,236.07 L386.42,236.18 L387.04,236.30 L387.66,236.41 L388.27,236.53 L388.89,236.64 L389.51,236.76 L390.12,236.88 L390.74,237.00 L391.35,237.12 L391.97,237.24 L392.59,237.36 L393.20,237.48 L393.82,237.60 L394.44,237.72 L395.05,237.85 L395.67,237.97 L396.29,238.10 L396.90,238.22 L397.52,238.35 L398.14,238.48 L398.75,238.61 L399.37,238.74 L399.99,238.87 L400.60,239.00 L401.22,239.13 L401.84,239.27 L402.45,239.40 L403.07,239.54 L403.68,239.67 L404.30,239.81 L404.92,239.95 L405.53,240.09 L406.15,240.23 L406.77,240.37 L407.38,240.51 L408.00,240.65 L408.62,240.80 L409.23,240.94 L409.85,241.09 L410.46,241.24 L411.08,241.39 L411.70,241.54 L412.31,241.69 L412.93,241.84" stroke="#ff8000" stroke-width="1.1" fill="none" stroke-dasharray="1.0 2.8" stroke-linecap="butt"/>
<path d="M300.33,182.45 L300.32,181.96 L300.32,181.46 L300.33,180.97 L300.35,180.47 L300.36,179.97 L300.39,179.47 L300.42,178.97 L300.46,178.47 L300.50,177.97 L300.55,177.47 L300.60,176.96 L300.66,176.46 L300.72,175.95 L300.79,175.45 L300.86,174.94 L300.93,174.44 L301.01,173.93 L301.10,173.42 L301.19,172.91 L301.28,172.41 L301.38,171.90 L301.48,171.39 L301.59,170.89 L301.70,170.38 L301.81,169.87 L301.93,169.36 L302.05,168.86 L302.17,168.35 L302.30,167.85 L302.42,167.34 L302.56,166.84 L302.69,166.33 L302.83,165.83 L302.97,165.33 L303.11,164.83 L303.25,164.32 L303.40,163.82 L303.55,163.33 L303.70,162.83 L303.85,162.33 L304.00,161.84 L304.16,161.34 L304.32,160.85 L304.48,160.36 L304.64,159.87 L304.80,159.38 L304.96,158.89 L305.12,158.40 L305.28,157.92 L305.45,157.44 L305.61,156.95 L305.78,156.47 L305.95,156.00 L306.12,155.52 L306.28,155.04 L306.45,154.56 L306.62,154.09 L306.79,153.62 L306.97,153.14 L307.14,152.67 L307.31,152.20 L307.48,151.73 L307.66,151.26 L307.83,150.79 L308.01,150.32 L308.18,149.85 L308.35,149.38 L308.53,148.92 L308.71,148.45 L308.88,147.98 L309.06,147.52 L309.23,147.05 L309.41,146.59 L309.59,146.12 L309.76,145.65 L309.94,145.19 L310.11,144.72 L310.29,144.26 L310.47,143.79 L310.64,143.33 L310.82,142.86 L310.99,142.40 L311.17,141.93 L311.34,141.46 L311.52,141.00 L311.69,140.53 L311.87,140.06 L312.04,139.59 L312.21,139.12 L312.38,138.65 L312.56,138.18 L312.73,137.71 L312.90,137.24 L313.07,136.77 L313.24,136.30 L313.41,135.82 L313.58,135.35 L313.75,134.88 L313.92,134.40 L314.08,133.93 L314.25,133.45 L314.42,132.98 L314.58,132.50 L314.75,132.02 L314.92,131.55 L315.08,131.07 L315.24,130.59 L315.41,130.11 L315.57,129.63 L315.73,129.15 L315.90,128.67 L316.06,128.19 L316.22,127.71 L316.38,127.23 L316.54,126.75 L316.70,126.27 L316.86,125.79 L317.01,125.31 L317.17,124.82 L317.33,124.34 L317.49,123.86 L317.64,123.37 L317.80,122.89 L317.95,122.40 L318.10,121.92 L318.26,121.43 L318.41,120.95 L318.56,120.46 L318.71,119.98 L318.86,119.49 L319.02,119.00 L319.16,118.52 L319.31,118.03 L319.46,117.54 L319.61,117.06 L319.76,116.57 L319.90,116.08 L320.05,115.59 L320.19,115.10 L320.34,114.61 L320.48,114.13 L320.62,113.64 L320.77,113.15 L320.91,112.66 L321.05,112.17 L321.19,111.68 L321.33,111.19 L321.47,110.70 L321.61,110.21 L321.74,109.72 L321.88,109.23 L322.02,108.73 L322.15,108.24 L322.29,107.75 L322.42,107.26 L322.55,106.77 L322.69,106.28 L322.82,105.79 L322.95,105.30 L323.08,104.80 L323.21,104.31 L323.34,103.82 L323.46,103.33 L323.59,102.84 L323.72,102.34 L323.84,101.85 L323.97,101.36 L324.09,100.87 L324.22,100.37 L324.34,99.88 L324.46,99.39 L324.58,98.89 L324.71,98.40 L324.83,97.91 L324.95,97.41 L325.07,96.92 L325.18,96.43 L325.30,95.93 L325.42,95.44 L325.54,94.94 L325.65,94.45 L325.77,93.96 L325.88,93.46 L326.00,92.97 L326.11,92.47 L326.22,91.98 L326.33,91.48 L326.45,90.99 L326.56,90.49 L326.67,90.00 L326.78,89.50 L326.89,89.01 L326.99,88.51 L327.10,88.02 L327.21,87.52 L327.32,87.03 L327.42,86.53 L327.53,86.04 L327.63,85.54 L327.74,85.04 L327.84,84.55 L327.95,84.05 L328.05,83.56 L328.15,83.06 L328.25,82.56 L328.36,82.07 L328.46,81.57 L328.56,81.07 L328.66,80.58 L328.76,80.08 L328.85,79.58 L328.95,79.09 L329.05,78.59 L329.15,78.09 L329.24,77.60 L329.34,77.10 L329.44,76.60 L329.53,76.10 L329.63,75.61 L329.72,75.11 L329.81,74.61 L329.91,74.11 L330.00,73.61 L330.09,73.12 L330.18,72.62 L330.27,72.12 L330.37,71.62 L330.46,71.12 L330.55,70.63 L330.64,70.13 L330.72,69.63 L330.81,69.13 L330.90,68.63 L330.99,68.13 L331.08,67.63 L331.16,67.13 L331.25,66.64 L331.34,66.14 L331.42,65.64 L331.51,65.14 L331.59,64.64 L331.68,64.14 L331.76,63.64 L331.85,63.14 L331.93,62.64 L332.01,62.14 L332.09,61.64 L332.18,61.14 L332.26,60.64 L332.34,60.14 L332.42,59.64 L332.50,59.14 L332.58,58.64 L332.66,58.14 L332.74,57.64 L332.82,57.14 L332.90,56.64 L332.98,56.14 L333.06,55.64 L333.14,55.14 L333.21,54.64 L333.29,54.14 L333.37,53.64 L333.44,53.14 L333.52,52.64 L333.60,52.13 L333.67,51.63 L333.75,51.13 L333.82,50.63 L333.90,50.13 L333.97,49.63 L334.05,49.13 L334.12,48.63 L334.20,48.13 L334.27,47.62 L334.34,47.12 L334.42,46.62 L334.49,46.12 L334.56,45.62 L334.63,45.12 L334.71,44.61 L334.78,44.11 L334.85,43.61 L334.92,43.11 L334.99,42.61 L335.06,42.10 L335.13,41.60 L335.20,41.10 L335.27,40.60 L335.34,40.10 L335.41,39.59 L335.48,39.09 L335.55,38.59 L335.62,38.09 L335.69,37.58 L335.76,37.08 L335.83,36.58 L335.90,36.08 L335.97,35.57 L336.03,35.07 L336.10,34.57 L336.17,34.07 L336.24,33.56 L336.30,33.06 L336.37,32.56 L336.44,32.05 L336.51,31.55 L336.57,31.05 L336.64,30.55 L336.71,30.04 L336.77,29.54 L336.84,29.04 L336.91,28.53 L336.97,28.03 L337.04,27.53 L337.10,27.02 L337.17,26.52 L337.24,26.02 L337.30,25.51 L337.37,25.01 L337.43,24.51 L337.50,24.00 L337.56,23.50 L337.63,23.00 L337.69,22.49 L337.76,21.99 L337.82,21.49 L337.89,20.98 L337.95,20.48 L338.02,19.98 L338.08,19.47 L338.15,18.97 L338.21,18.46 L338.28,17.96" stroke="#0000ff" stroke-width="1.15" fill="none"/>
<path d="M300.33,182.45 L300.34,182.95 L300.36,183.44 L300.38,183.93 L300.41,184.41 L300.45,184.90 L300.49,185.39 L300.55,185.87 L300.60,186.35 L300.67,186.83 L300.74,187.31 L300.83,187.78 L300.91,188.26 L301.01,188.73 L301.11,189.20 L301.23,189.67 L301.35,190.13 L301.48,190.59 L301.61,191.05 L301.76,191.51 L301.91,191.97 L302.08,192.42 L302.25,192.87 L302.43,193.32 L302.62,193.76 L302.81,194.20 L303.02,194.64 L303.24,195.08 L303.47,195.51 L303.70,195.94 L303.94,196.37 L304.20,196.79 L304.46,197.21 L304.73,197.63 L305.00,198.04 L305.29,198.45 L305.58,198.85 L305.88,199.26 L306.19,199.65 L306.50,200.05 L306.82,200.44 L307.15,200.82 L307.49,201.21 L307.83,201.59 L308.18,201.96 L308.54,202.33 L308.90,202.69 L309.27,203.05 L309.64,203.41 L310.02,203.76 L310.40,204.11 L310.79,204.45 L311.19,204.79 L311.59,205.12 L311.99,205.45 L312.40,205.78 L312.82,206.10 L313.24,206.42 L313.66,206.73 L314.09,207.04 L314.52,207.35 L314.95,207.65 L315.39,207.95 L315.83,208.25 L316.27,208.54 L316.72,208.83 L317.17,209.11 L317.62,209.40 L318.07,209.68 L318.53,209.95 L318.99,210.23 L319.45,210.50 L319.91,210.76 L320.37,211.03 L320.84,211.29 L321.30,211.55 L321.77,211.81 L322.24,212.06 L322.70,212.31 L323.17,212.56 L323.64,212.81 L324.11,213.06 L324.58,213.30 L325.05,213.54 L325.52,213.78 L325.99,214.02 L326.45,214.25 L326.92,214.48 L327.39,214.71 L327.86,214.94 L328.33,215.17 L328.80,215.39 L329.27,215.61 L329.74,215.84 L330.21,216.05 L330.68,216.27 L331.15,216.48 L331.62,216.70 L332.09,216.91 L332.56,217.12 L333.03,217.32 L333.50,217.53 L333.98,217.73 L334.45,217.93 L334.92,218.13 L335.39,218.33 L335.86,218.52 L336.33,218.72 L336.81,218.91 L337.28,219.10 L337.75,219.29 L338.22,219.47 L338.70,219.66 L339.17,219.84 L339.64,220.02 L340.12,220.20 L340.59,220.38 L341.07,220.55 L341.54,220.73 L342.01,220.90 L342.49,221.07 L342.96,221.24 L343.44,221.41 L343.92,221.58 L344.39,221.74 L344.87,221.90 L345.34,222.07 L345.82,222.23 L346.30,222.38 L346.78,222.54 L347.25,222.70 L347.73,222.85 L348.21,223.00 L348.69,223.15 L349.17,223.30 L349.65,223.45 L350.13,223.60 L350.61,223.74 L351.09,223.89 L351.57,224.03 L352.05,224.17 L352.53,224.31 L353.01,224.45 L353.49,224.58 L353.98,224.72 L354.46,224.85 L354.94,224.99 L355.43,225.12 L355.91,225.25 L356.39,225.38 L356.88,225.51 L357.36,225.63 L357.85,225.76 L358.33,225.88 L358.82,226.01 L359.31,226.13 L359.80,226.25 L360.28,226.37 L360.77,226.49 L361.26,226.60 L361.75,226.72 L362.24,226.83 L362.73,226.95 L363.22,227.06 L363.71,227.17 L364.20,227.28 L364.69,227.39 L365.18,227.50 L365.68,227.61 L366.17,227.72 L366.66,227.82 L367.16,227.93 L367.65,228.03 L368.15,228.13 L368.64,228.24 L369.14,228.34 L369.64,228.44 L370.13,228.54 L370.63,228.64 L371.13,228.74 L371.63,228.83 L372.12,228.93 L372.62,229.03 L373.12,229.13 L373.62,229.22 L374.12,229.32 L374.62,229.41 L375.12,229.51 L375.62,229.61 L376.12,229.70 L376.62,229.80 L377.12,229.89 L377.62,229.99 L378.12,230.09 L378.62,230.18 L379.12,230.28 L379.62,230.38 L380.12,230.47 L380.62,230.57 L381.12,230.67 L381.62,230.77 L382.12,230.87 L382.62,230.97 L383.12,231.07 L383.62,231.17 L384.12,231.28 L384.62,231.38 L385.12,231.49 L385.61,231.59 L386.11,231.70 L386.61,231.81 L387.11,231.92 L387.60,232.03 L388.10,232.14 L388.59,232.26 L389.09,232.37 L389.58,232.49 L390.08,232.61 L390.57,232.73 L391.06,232.85 L391.56,232.97 L392.05,233.10 L392.54,233.22 L393.03,233.35 L393.52,233.48 L394.01,233.61 L394.50,233.75 L394.99,233.89 L395.47,234.03 L395.96,234.17 L396.44,234.31 L396.93,234.46 L397.41,234.61 L397.89,234.76 L398.37,234.91 L398.86,235.07 L399.34,235.23 L399.81,235.39 L400.29,235.55 L400.77,235.72 L401.24,235.89 L401.72,236.06 L402.19,236.24 L402.66,236.42 L403.13,236.60 L403.60,236.79 L404.07,236.97 L404.54,237.17 L405.01,237.36 L405.47,237.56 L405.94,237.76 L406.40,237.97 L406.86,238.18 L407.32,238.39 L407.78,238.61 L408.23,238.83 L408.69,239.05 L409.14,239.28 L409.59,239.51 L410.05,239.75 L410.49,239.99 L410.94,240.23 L411.39,240.48 L411.83,240.73 L412.28,240.99 L412.72,241.25" stroke="#008000" stroke-width="1.15" fill="none"/>
<path d="M300.33,182.45 L300.34,182.95 L300.36,183.44 L300.38,183.93 L300.41,184.41 L300.45,184.90 L300.49,185.39 L300.55,185.87 L300.60,186.35 L300.67,186.83 L300.74,187.31 L300.83,187.78 L300.91,188.26 L301.01,188.73 L301.11,189.20 L301.23,189.67 L301.35,190.13 L301.48,190.59 L301.61,191.05 L301.76,191.51 L301.91,191.97 L302.08,192.42 L302.25,192.87 L302.43,193.32 L302.62,193.76 L302.81,194.20 L303.02,194.64 L303.24,195.08 L303.47,195.51 L303.70,195.94 L303.94,196.37 L304.20,196.79 L304.46,197.21 L304.73,197.63 L305.00,198.04 L305.29,198.45 L305.58,198.85 L305.88,199.26 L306.19,199.65 L306.50,200.05 L306.82,200.44 L307.15,200.82 L307.49,201.21 L307.83,201.59 L308.18,201.96 L308.54,202.33 L308.90,202.69 L309.27,203.05 L309.64,203.41 L310.02,203.76 L310.40,204.11 L310.79,204.45 L311.19,204.79 L311.59,205.12 L311.99,205.45 L312.40,205.78 L312.82,206.10 L313.24,206.42 L313.66,206.73 L314.09,207.04 L314.52,207.35 L314.95,207.65 L315.39,207.95 L315.83,208.25 L316.27,208.54 L316.72,208.83 L317.17,209.11 L317.62,209.40 L318.07,209.68 L318.53,209.95 L318.99,210.23 L319.45,210.50 L319.91,210.76 L320.37,211.03 L320.84,211.29 L321.30,211.55 L321.77,211.81 L322.24,212.06 L322.70,212.31 L323.17,212.56 L323.64,212.81 L324.11,213.06 L324.58,213.30 L325.05,213.54 L325.52,213.78 L325.99,214.02 L326.45,214.25 L326.92,214.48 L327.39,214.71 L327.86,214.94 L328.33,215.17 L328.80,215.39 L329.27,215.61 L329.74,215.84 L330.21,216.05 L330.68,216.27 L331.15,216.48 L331.62,216.70 L332.09,216.91 L332.56,217.12 L333.03,217.32 L333.50,217.53 L333.98,217.73 L334.45,217.93 L334.92,218.13 L335.39,218.33 L335.86,218.52 L336.33,218.72 L336.81,218.91 L337.28,219.10 L337.75,219.29 L338.22,219.47 L338.70,219.66 L339.17,219.84 L339.64,220.02 L340.12,220.20 L340.59,220.38 L341.07,220.55 L341.54,220.73 L342.01,220.90 L342.49,221.07 L342.96,221.24 L343.44,221.41 L343.92,221.58 L344.39,221.74 L344.87,221.90 L345.34,222.07 L345.82,222.23 L346.30,222.38 L346.78,222.54 L347.25,222.70 L347.73,222.85 L348.21,223.00 L348.69,223.15 L349.17,223.30 L349.65,223.45 L350.13,223.60 L350.61,223.74 L351.09,223.89 L351.57,224.03 L352.05,224.17 L352.53,224.31 L353.01,224.45 L353.49,224.58 L353.98,224.72 L354.46,224.85 L354.94,224.99 L355.43,225.12 L355.91,225.25 L356.39,225.38 L356.88,225.51 L357.36,225.63 L357.85,225.76 L358.33,225.88 L358.82,226.01 L359.31,226.13 L359.80,226.25 L360.28,226.37 L360.77,226.49 L361.26,226.60 L361.75,226.72 L362.24,226.83 L362.73,226.95 L363.22,227.06 L363.71,227.17 L364.20,227.28 L364.69,227.39 L365.18,227.50 L365.68,227.61 L366.17,227.72 L366.66,227.82 L367.16,227.93 L367.65,228.03 L368.15,228.13 L368.64,228.24 L369.14,228.34 L369.64,228.44 L370.13,228.54 L370.63,228.64 L371.13,228.74 L371.63,228.83 L372.12,228.93 L372.62,229.03 L373.12,229.13 L373.62,229.22 L374.12,229.32 L374.62,229.41 L375.12,229.51 L375.62,229.61 L376.12,229.70 L376.62,229.80 L377.12,229.89 L377.62,229.99 L378.12,230.09 L378.62,230.18 L379.12,230.28 L379.62,230.38 L380.12,230.47 L380.62,230.57 L381.12,230.67 L381.62,230.77 L382.12,230.87 L382.62,230.97 L383.12,231.07 L383.62,231.17 L384.12,231.28 L384.62,231.38 L385.12,231.49 L385.61,231.59 L386.11,231.70 L386.61,231.81 L387.11,231.92 L387.60,232.03 L388.10,232.14 L388.59,232.26 L389.09,232.37 L389.58,232.49 L390.08,232.61 L390.57,232.73 L391.06,232.85 L391.56,232.97 L392.05,233.10 L392.54,233.22 L393.03,233.35 L393.52,233.48 L394.01,233.61 L394.50,233.75 L394.99,233.89 L395.47,234.03 L395.96,234.17 L396.44,234.31 L396.93,234.46 L397.41,234.61 L397.89,234.76 L398.37,234.91 L398.86,235.07 L399.34,235.23 L399.81,235.39 L400.29,235.55 L400.77,235.72 L401.24,235.89 L401.72,236.06 L402.19,236.24 L402.66,236.42 L403.13,236.60 L403.60,236.79 L404.07,236.97 L404.54,237.17 L405.01,237.36 L405.47,237.56 L405.94,237.76 L406.40,237.97 L406.86,238.18 L407.32,238.39 L407.78,238.61 L408.23,238.83 L408.69,239.05 L409.14,239.28 L409.59,239.51 L410.05,239.75 L410.49,239.99 L410.94,240.23 L411.39,240.48 L411.83,240.73 L412.28,240.99 L412.72,241.25" stroke="#ff0080" stroke-width="1.1" fill="none" stroke-dasharray="1.0 2.8" stroke-linecap="butt"/>
<path d="M317.74,179.42 L317.72,178.96 L317.70,178.49 L317.68,178.02 L317.67,177.55 L317.67,177.08 L317.67,176.61 L317.67,176.14 L317.68,175.67 L317.69,175.20 L317.71,174.72 L317.72,174.25 L317.75,173.78 L317.78,173.30 L317.81,172.83 L317.84,172.35 L317.88,171.87 L317.92,171.40 L317.96,170.92 L318.01,170.44 L318.06,169.97 L318.12,169.49 L318.17,169.01 L318.23,168.53 L318.30,168.06 L318.36,167.58 L318.43,167.10 L318.50,166.62 L318.58,166.15 L318.65,165.67 L318.73,165.19 L318.81,164.72 L318.90,164.24 L318.98,163.76 L319.07,163.29 L319.16,162.81 L319.25,162.34 L319.34,161.87 L319.44,161.39 L319.54,160.92 L319.63,160.45 L319.73,159.98 L319.83,159.51 L319.94,159.04 L320.04,158.57 L320.15,158.11 L320.25,157.64 L320.36,157.17 L320.47,156.71 L320.58,156.24 L320.69,155.78 L320.80,155.32 L320.92,154.85 L321.03,154.39 L321.15,153.93 L321.26,153.47 L321.38,153.01 L321.50,152.55 L321.62,152.09 L321.74,151.63 L321.86,151.18 L321.98,150.72 L322.10,150.26 L322.22,149.80 L322.35,149.35 L322.47,148.89 L322.60,148.43 L322.72,147.98 L322.85,147.52 L322.97,147.07 L323.10,146.61 L323.23,146.16 L323.35,145.70 L323.48,145.25 L323.61,144.80 L323.74,144.34 L323.87,143.89 L324.00,143.43 L324.12,142.98 L324.25,142.53 L324.38,142.07 L324.51,141.62 L324.64,141.17 L324.77,140.71 L324.90,140.26 L325.03,139.80 L325.16,139.35 L325.29,138.90 L325.41,138.44 L325.54,137.99 L325.67,137.53 L325.80,137.08 L325.93,136.62 L326.06,136.17 L326.18,135.71 L326.31,135.26 L326.44,134.80 L326.56,134.35 L326.69,133.89 L326.82,133.43 L326.94,132.98 L327.07,132.52 L327.20,132.07 L327.32,131.61 L327.45,131.15 L327.57,130.70 L327.70,130.24 L327.82,129.78 L327.94,129.33 L328.07,128.87 L328.19,128.41 L328.31,127.96 L328.44,127.50 L328.56,127.04 L328.68,126.58 L328.80,126.12 L328.92,125.67 L329.04,125.21 L329.16,124.75 L329.28,124.29 L329.40,123.83 L329.52,123.37 L329.64,122.92 L329.75,122.46 L329.87,122.00 L329.99,121.54 L330.10,121.08 L330.22,120.62 L330.33,120.16 L330.45,119.70 L330.56,119.24 L330.68,118.78 L330.79,118.32 L330.90,117.86 L331.01,117.40 L331.12,116.94 L331.23,116.48 L331.34,116.02 L331.45,115.56 L331.56,115.10 L331.67,114.63 L331.78,114.17 L331.88,113.71 L331.99,113.25 L332.09,112.79 L332.20,112.33 L332.30,111.86 L332.41,111.40 L332.51,110.94 L332.61,110.48 L332.71,110.01 L332.81,109.55 L332.91,109.09 L333.01,108.63 L333.10,108.16 L333.20,107.70 L333.30,107.24 L333.39,106.77 L333.49,106.31 L333.58,105.84 L333.67,105.38 L333.76,104.92 L333.85,104.45 L333.94,103.99 L334.03,103.52 L334.12,103.06 L334.21,102.59 L334.30,102.13 L334.38,101.66 L334.47,101.20 L334.55,100.73 L334.64,100.27 L334.72,99.80 L334.80,99.33 L334.88,98.87 L334.96,98.40 L335.05,97.94 L335.12,97.47 L335.20,97.00 L335.28,96.54 L335.36,96.07 L335.44,95.60 L335.51,95.14 L335.59,94.67 L335.66,94.20 L335.74,93.74 L335.81,93.27 L335.88,92.80 L335.95,92.33 L336.03,91.87 L336.10,91.40 L336.17,90.93 L336.24,90.46 L336.31,89.99 L336.37,89.53 L336.44,89.06 L336.51,88.59 L336.58,88.12 L336.64,87.65 L336.71,87.18 L336.78,86.71 L336.84,86.25 L336.90,85.78 L336.97,85.31 L337.03,84.84 L337.09,84.37 L337.16,83.90 L337.22,83.43 L337.28,82.96 L337.34,82.49 L337.40,82.02 L337.46,81.55 L337.52,81.08 L337.58,80.61 L337.64,80.14 L337.70,79.67 L337.76,79.20 L337.82,78.73 L337.87,78.26 L337.93,77.79 L337.99,77.32 L338.04,76.85 L338.10,76.38 L338.15,75.91 L338.21,75.44 L338.26,74.97 L338.32,74.50 L338.37,74.03 L338.43,73.56 L338.48,73.09 L338.53,72.62 L338.59,72.14 L338.64,71.67 L338.69,71.20 L338.75,70.73 L338.80,70.26 L338.85,69.79 L338.90,69.32 L338.95,68.85 L339.00,68.38 L339.06,67.90 L339.11,67.43 L339.16,66.96 L339.21,66.49 L339.26,66.02 L339.31,65.55 L339.36,65.08 L339.41,64.60 L339.46,64.13 L339.51,63.66 L339.56,63.19 L339.61,62.72 L339.66,62.25 L339.70,61.77 L339.75,61.30 L339.80,60.83 L339.85,60.36 L339.90,59.89 L339.95,59.42 L340.00,58.94 L340.05,58.47 L340.10,58.00 L340.14,57.53 L340.19,57.06 L340.24,56.58 L340.29,56.11 L340.34,55.64 L340.39,55.17 L340.44,54.70 L340.48,54.23 L340.53,53.75 L340.58,53.28 L340.63,52.81 L340.68,52.34 L340.73,51.87 L340.78,51.39 L340.83,50.92 L340.88,50.45 L340.93,49.98 L340.97,49.51 L341.02,49.04 L341.07,48.56 L341.12,48.09 L341.17,47.62 L341.22,47.15 L341.27,46.68 L341.32,46.21 L341.38,45.73 L341.43,45.26 L341.48,44.79 L341.53,44.32 L341.58,43.85 L341.63,43.38 L341.68,42.90 L341.73,42.43 L341.79,41.96 L341.84,41.49 L341.89,41.02 L341.95,40.55 L342.00,40.08 L342.05,39.61 L342.11,39.13 L342.16,38.66 L342.21,38.19 L342.27,37.72 L342.32,37.25 L342.38,36.78 L342.44,36.31 L342.49,35.84 L342.55,35.37 L342.61,34.90 L342.66,34.43 L342.72,33.95 L342.78,33.48 L342.84,33.01 L342.89,32.54 L342.95,32.07 L343.01,31.60 L343.07,31.13 L343.13,30.66 L343.19,30.19 L343.26,29.72 L343.32,29.25 L343.38,28.78 L343.44,28.31 L343.51,27.84 L343.57,27.37 L343.63,26.90 L343.70,26.43 L343.76,25.96 L343.83,25.50 L343.89,25.03 L343.96,24.56 L344.03,24.09 L344.10,23.62 L344.16,23.15 L344.23,22.68 L344.30,22.21 L344.37,21.74 L344.44,21.27 L344.51,20.81 L344.59,20.34 L344.66,19.87 L344.73,19.40 L344.81,18.93 L344.88,18.47 L344.96,18.00" stroke="#ff8000" stroke-width="1.15" fill="none"/>
<path d="M317.74,179.42 L317.77,179.89 L317.80,180.35 L317.84,180.81 L317.88,181.27 L317.93,181.73 L317.98,182.19 L318.04,182.65 L318.10,183.10 L318.17,183.56 L318.25,184.01 L318.33,184.46 L318.41,184.91 L318.50,185.36 L318.60,185.80 L318.70,186.25 L318.81,186.69 L318.92,187.13 L319.04,187.57 L319.17,188.01 L319.30,188.44 L319.44,188.88 L319.59,189.31 L319.74,189.73 L319.90,190.16 L320.06,190.59 L320.24,191.01 L320.42,191.43 L320.60,191.85 L320.79,192.26 L320.99,192.67 L321.20,193.08 L321.41,193.49 L321.63,193.90 L321.85,194.30 L322.08,194.70 L322.32,195.10 L322.56,195.50 L322.81,195.89 L323.06,196.28 L323.32,196.67 L323.58,197.06 L323.85,197.44 L324.13,197.82 L324.41,198.20 L324.69,198.58 L324.98,198.95 L325.28,199.33 L325.58,199.69 L325.89,200.06 L326.20,200.43 L326.51,200.79 L326.83,201.15 L327.15,201.50 L327.48,201.86 L327.81,202.21 L328.15,202.56 L328.49,202.90 L328.83,203.25 L329.18,203.59 L329.53,203.93 L329.88,204.26 L330.24,204.60 L330.60,204.93 L330.97,205.25 L331.34,205.58 L331.71,205.90 L332.08,206.22 L332.46,206.54 L332.84,206.85 L333.22,207.16 L333.61,207.47 L334.00,207.78 L334.39,208.08 L334.78,208.38 L335.18,208.68 L335.57,208.98 L335.97,209.27 L336.38,209.56 L336.78,209.85 L337.19,210.13 L337.59,210.41 L338.00,210.69 L338.41,210.96 L338.82,211.24 L339.24,211.51 L339.65,211.77 L340.07,212.04 L340.48,212.30 L340.90,212.56 L341.32,212.81 L341.74,213.06 L342.16,213.31 L342.58,213.56 L343.00,213.81 L343.43,214.05 L343.85,214.28 L344.28,214.52 L344.70,214.75 L345.13,214.98 L345.55,215.21 L345.98,215.44 L346.41,215.66 L346.84,215.88 L347.27,216.09 L347.70,216.31 L348.13,216.52 L348.56,216.73 L348.99,216.94 L349.43,217.14 L349.86,217.34 L350.30,217.54 L350.73,217.74 L351.17,217.94 L351.60,218.13 L352.04,218.32 L352.48,218.51 L352.92,218.69 L353.36,218.88 L353.80,219.06 L354.24,219.24 L354.68,219.41 L355.12,219.59 L355.56,219.76 L356.01,219.93 L356.45,220.10 L356.90,220.27 L357.34,220.43 L357.79,220.60 L358.23,220.76 L358.68,220.92 L359.13,221.07 L359.57,221.23 L360.02,221.38 L360.47,221.53 L360.92,221.68 L361.37,221.83 L361.82,221.98 L362.27,222.12 L362.72,222.27 L363.17,222.41 L363.63,222.55 L364.08,222.68 L364.53,222.82 L364.99,222.95 L365.44,223.09 L365.90,223.22 L366.35,223.35 L366.81,223.48 L367.26,223.61 L367.72,223.73 L368.18,223.86 L368.63,223.98 L369.09,224.10 L369.55,224.22 L370.01,224.34 L370.47,224.46 L370.93,224.58 L371.39,224.69 L371.85,224.81 L372.31,224.92 L372.77,225.03 L373.23,225.14 L373.69,225.25 L374.15,225.36 L374.61,225.47 L375.08,225.58 L375.54,225.68 L376.00,225.79 L376.47,225.89 L376.93,225.99 L377.39,226.09 L377.86,226.20 L378.32,226.30 L378.79,226.40 L379.25,226.50 L379.72,226.60 L380.18,226.70 L380.65,226.79 L381.11,226.89 L381.57,226.99 L382.04,227.09 L382.50,227.19 L382.97,227.29 L383.43,227.39 L383.90,227.49 L384.36,227.59 L384.82,227.69 L385.28,227.79 L385.75,227.90 L386.21,228.00 L386.67,228.11 L387.13,228.21 L387.59,228.32 L388.05,228.43 L388.51,228.54 L388.97,228.65 L389.42,228.76 L389.88,228.88 L390.34,229.00 L390.79,229.11 L391.25,229.23 L391.70,229.36 L392.15,229.48 L392.60,229.61 L393.06,229.74 L393.50,229.87 L393.95,230.00 L394.40,230.14 L394.85,230.28 L395.29,230.42 L395.73,230.57 L396.18,230.72 L396.62,230.87 L397.06,231.02 L397.50,231.18 L397.93,231.34 L398.37,231.50 L398.80,231.67 L399.23,231.84 L399.67,232.02 L400.09,232.20 L400.52,232.38 L400.95,232.57 L401.37,232.76 L401.79,232.96 L402.21,233.16 L402.63,233.36 L403.05,233.57 L403.46,233.78 L403.88,234.00 L404.29,234.22 L404.70,234.45 L405.10,234.68 L405.51,234.92 L405.91,235.16 L406.31,235.41 L406.71,235.66 L407.11,235.92 L407.50,236.18 L407.89,236.45 L408.28,236.73 L408.67,237.01 L409.05,237.30 L409.43,237.59 L409.81,237.89 L410.19,238.19 L410.56,238.50 L410.93,238.82 L411.30,239.15 L411.67,239.48 L412.03,239.81 L412.39,240.16 L412.75,240.51" stroke="#800080" stroke-width="1.15" fill="none"/>
<path d="M317.74,179.42 L317.77,179.89 L317.80,180.35 L317.84,180.81 L317.88,181.27 L317.93,181.73 L317.98,182.19 L318.04,182.65 L318.10,183.10 L318.17,183.56 L318.25,184.01 L318.33,184.46 L318.41,184.91 L318.50,185.36 L318.60,185.80 L318.70,186.25 L318.81,186.69 L318.92,187.13 L319.04,187.57 L319.17,188.01 L319.30,188.44 L319.44,188.88 L319.59,189.31 L319.74,189.73 L319.90,190.16 L320.06,190.59 L320.24,191.01 L320.42,191.43 L320.60,191.85 L320.79,192.26 L320.99,192.67 L321.20,193.08 L321.41,193.49 L321.63,193.90 L321.85,194.30 L322.08,194.70 L322.32,195.10 L322.56,195.50 L322.81,195.89 L323.06,196.28 L323.32,196.67 L323.58,197.06 L323.85,197.44 L324.13,197.82 L324.41,198.20 L324.69,198.58 L324.98,198.95 L325.28,199.33 L325.58,199.69 L325.89,200.06 L326.20,200.43 L326.51,200.79 L326.83,201.15 L327.15,201.50 L327.48,201.86 L327.81,202.21 L328.15,202.56 L328.49,202.90 L328.83,203.25 L329.18,203.59 L329.53,203.93 L329.88,204.26 L330.24,204.60 L330.60,204.93 L330.97,205.25 L331.34,205.58 L331.71,205.90 L332.08,206.22 L332.46,206.54 L332.84,206.85 L333.22,207.16 L333.61,207.47 L334.00,207.78 L334.39,208.08 L334.78,208.38 L335.18,208.68 L335.57,208.98 L335.97,209.27 L336.38,209.56 L336.78,209.85 L337.19,210.13 L337.59,210.41 L338.00,210.69 L338.41,210.96 L338.82,211.24 L339.24,211.51 L339.65,211.77 L340.07,212.04 L340.48,212.30 L340.90,212.56 L341.32,212.81 L341.74,213.06 L342.16,213.31 L342.58,213.56 L343.00,213.81 L343.43,214.05 L343.85,214.28 L344.28,214.52 L344.70,214.75 L345.13,214.98 L345.55,215.21 L345.98,215.44 L346.41,215.66 L346.84,215.88 L347.27,216.09 L347.70,216.31 L348.13,216.52 L348.56,216.73 L348.99,216.94 L349.43,217.14 L349.86,217.34 L350.30,217.54 L350.73,217.74 L351.17,217.94 L351.60,218.13 L352.04,218.32 L352.48,218.51 L352.92,218.69 L353.36,218.88 L353.80,219.06 L354.24,219.24 L354.68,219.41 L355.12,219.59 L355.56,219.76 L356.01,219.93 L356.45,220.10 L356.90,220.27 L357.34,220.43 L357.79,220.60 L358.23,220.76 L358.68,220.92 L359.13,221.07 L359.57,221.23 L360.02,221.38 L360.47,221.53 L360.92,221.68 L361.37,221.83 L361.82,221.98 L362.27,222.12 L362.72,222.27 L363.17,222.41 L363.63,222.55 L364.08,222.68 L364.53,222.82 L364.99,222.95 L365.44,223.09 L365.90,223.22 L366.35,223.35 L366.81,223.48 L367.26,223.61 L367.72,223.73 L368.18,223.86 L368.63,223.98 L369.09,224.10 L369.55,224.22 L370.01,224.34 L370.47,224.46 L370.93,224.58 L371.39,224.69 L371.85,224.81 L372.31,224.92 L372.77,225.03 L373.23,225.14 L373.69,225.25 L374.15,225.36 L374.61,225.47 L375.08,225.58 L375.54,225.68 L376.00,225.79 L376.47,225.89 L376.93,225.99 L377.39,226.09 L377.86,226.20 L378.32,226.30 L378.79,226.40 L379.25,226.50 L379.72,226.60 L380.18,226.70 L380.65,226.79 L381.11,226.89 L381.57,226.99 L382.04,227.09 L382.50,227.19 L382.97,227.29 L383.43,227.39 L383.90,227.49 L384.36,227.59 L384.82,227.69 L385.28,227.79 L385.75,227.90 L386.21,228.00 L386.67,228.11 L387.13,228.21 L387.59,228.32 L388.05,228.43 L388.51,228.54 L388.97,228.65 L389.42,228.76 L389.88,228.88 L390.34,229.00 L390.79,229.11 L391.25,229.23 L391.70,229.36 L392.15,229.48 L392.60,229.61 L393.06,229.74 L393.50,229.87 L393.95,230.00 L394.40,230.14 L394.85,230.28 L395.29,230.42 L395.73,230.57 L396.18,230.72 L396.62,230.87 L397.06,231.02 L397.50,231.18 L397.93,231.34 L398.37,231.50 L398.80,231.67 L399.23,231.84 L399.67,232.02 L400.09,232.20 L400.52,232.38 L400.95,232.57 L401.37,232.76 L401.79,232.96 L402.21,233.16 L402.63,233.36 L403.05,233.57 L403.46,233.78 L403.88,234.00 L404.29,234.22 L404.70,234.45 L405.10,234.68 L405.51,234.92 L405.91,235.16 L406.31,235.41 L406.71,235.66 L407.11,235.92 L407.50,236.18 L407.89,236.45 L408.28,236.73 L408.67,237.01 L409.05,237.30 L409.43,237.59 L409.81,237.89 L410.19,238.19 L410.56,238.50 L410.93,238.82 L411.30,239.15 L411.67,239.48 L412.03,239.81 L412.39,240.16 L412.75,240.51" stroke="#00ffff" stroke-width="1.1" fill="none" stroke-dasharray="1.0 2.8" stroke-linecap="butt"/>
<path d="M342.24,170.92 L342.22,170.48 L342.22,170.03 L342.21,169.59 L342.20,169.15 L342.20,168.71 L342.20,168.27 L342.20,167.83 L342.21,167.39 L342.21,166.95 L342.22,166.51 L342.23,166.07 L342.24,165.63 L342.25,165.19 L342.27,164.75 L342.29,164.31 L342.31,163.87 L342.33,163.43 L342.35,163.00 L342.37,162.56 L342.40,162.12 L342.42,161.68 L342.45,161.25 L342.48,160.81 L342.51,160.37 L342.55,159.94 L342.58,159.50 L342.62,159.07 L342.65,158.63 L342.69,158.20 L342.73,157.76 L342.77,157.33 L342.81,156.90 L342.85,156.46 L342.89,156.03 L342.94,155.60 L342.98,155.16 L343.03,154.73 L343.07,154.30 L343.12,153.87 L343.17,153.43 L343.22,153.00 L343.26,152.57 L343.31,152.14 L343.36,151.71 L343.41,151.28 L343.46,150.85 L343.52,150.42 L343.57,149.99 L343.62,149.55 L343.67,149.12 L343.72,148.69 L343.78,148.26 L343.83,147.83 L343.88,147.41 L343.93,146.98 L343.98,146.55 L344.04,146.12 L344.09,145.69 L344.14,145.26 L344.19,144.83 L344.24,144.40 L344.29,143.97 L344.35,143.54 L344.40,143.11 L344.45,142.69 L344.50,142.26 L344.55,141.83 L344.60,141.40 L344.64,140.97 L344.69,140.54 L344.74,140.12 L344.79,139.69 L344.84,139.26 L344.89,138.83 L344.94,138.40 L344.98,137.98 L345.03,137.55 L345.08,137.12 L345.12,136.69 L345.17,136.27 L345.22,135.84 L345.26,135.41 L345.31,134.98 L345.36,134.56 L345.40,134.13 L345.45,133.70 L345.49,133.28 L345.54,132.85 L345.58,132.42 L345.63,131.99 L345.67,131.57 L345.72,131.14 L345.76,130.71 L345.81,130.29 L345.85,129.86 L345.90,129.43 L345.94,129.01 L345.98,128.58 L346.03,128.15 L346.07,127.73 L346.11,127.30 L346.16,126.87 L346.20,126.45 L346.24,126.02 L346.29,125.59 L346.33,125.17 L346.37,124.74 L346.42,124.31 L346.46,123.89 L346.50,123.46 L346.54,123.03 L346.59,122.61 L346.63,122.18 L346.67,121.75 L346.71,121.33 L346.75,120.90 L346.80,120.47 L346.84,120.05 L346.88,119.62 L346.92,119.19 L346.96,118.77 L347.01,118.34 L347.05,117.91 L347.09,117.49 L347.13,117.06 L347.17,116.63 L347.22,116.20 L347.26,115.78 L347.30,115.35 L347.34,114.92 L347.38,114.50 L347.43,114.07 L347.47,113.64 L347.51,113.22 L347.55,112.79 L347.59,112.36 L347.63,111.93 L347.68,111.51 L347.72,111.08 L347.76,110.65 L347.80,110.22 L347.84,109.80 L347.89,109.37 L347.93,108.94 L347.97,108.51 L348.01,108.09 L348.06,107.66 L348.10,107.23 L348.14,106.80 L348.18,106.37 L348.23,105.95 L348.27,105.52 L348.31,105.09 L348.36,104.66 L348.40,104.23 L348.44,103.80 L348.49,103.38 L348.53,102.95 L348.57,102.52 L348.62,102.09 L348.66,101.66 L348.70,101.23 L348.75,100.80 L348.79,100.37 L348.83,99.95 L348.88,99.52 L348.92,99.09 L348.96,98.66 L349.01,98.23 L349.05,97.80 L349.10,97.37 L349.14,96.94 L349.18,96.51 L349.23,96.08 L349.27,95.65 L349.32,95.22 L349.36,94.79 L349.41,94.36 L349.45,93.93 L349.49,93.50 L349.54,93.07 L349.58,92.64 L349.63,92.21 L349.67,91.78 L349.71,91.35 L349.76,90.92 L349.80,90.49 L349.85,90.06 L349.89,89.63 L349.94,89.20 L349.98,88.77 L350.02,88.34 L350.07,87.91 L350.11,87.48 L350.16,87.05 L350.20,86.62 L350.24,86.19 L350.29,85.75 L350.33,85.32 L350.38,84.89 L350.42,84.46 L350.46,84.03 L350.51,83.60 L350.55,83.17 L350.59,82.74 L350.64,82.31 L350.68,81.88 L350.73,81.44 L350.77,81.01 L350.81,80.58 L350.85,80.15 L350.90,79.72 L350.94,79.29 L350.98,78.86 L351.03,78.43 L351.07,77.99 L351.11,77.56 L351.16,77.13 L351.20,76.70 L351.24,76.27 L351.28,75.84 L351.33,75.40 L351.37,74.97 L351.41,74.54 L351.45,74.11 L351.49,73.68 L351.53,73.25 L351.58,72.81 L351.62,72.38 L351.66,71.95 L351.70,71.52 L351.74,71.09 L351.78,70.66 L351.82,70.22 L351.86,69.79 L351.91,69.36 L351.95,68.93 L351.99,68.50 L352.03,68.06 L352.07,67.63 L352.11,67.20 L352.15,66.77 L352.19,66.34 L352.22,65.90 L352.26,65.47 L352.30,65.04 L352.34,64.61 L352.38,64.18 L352.42,63.74 L352.46,63.31 L352.50,62.88 L352.53,62.45 L352.57,62.02 L352.61,61.58 L352.65,61.15 L352.68,60.72 L352.72,60.29 L352.76,59.85 L352.80,59.42 L352.83,58.99 L352.87,58.56 L352.90,58.13 L352.94,57.69 L352.98,57.26 L353.01,56.83 L353.05,56.40 L353.08,55.97 L353.12,55.53 L353.15,55.10 L353.19,54.67 L353.22,54.24 L353.25,53.81 L353.29,53.37 L353.32,52.94 L353.35,52.51 L353.39,52.08 L353.42,51.64 L353.45,51.21 L353.48,50.78 L353.52,50.35 L353.55,49.92 L353.58,49.48 L353.61,49.05 L353.64,48.62 L353.67,48.19 L353.70,47.76 L353.73,47.32 L353.76,46.89 L353.79,46.46 L353.82,46.03 L353.85,45.60 L353.88,45.17 L353.91,44.73 L353.94,44.30 L353.96,43.87 L353.99,43.44 L354.02,43.01 L354.05,42.58 L354.07,42.14 L354.10,41.71 L354.13,41.28 L354.15,40.85 L354.18,40.42 L354.20,39.99 L354.23,39.55 L354.25,39.12 L354.27,38.69 L354.30,38.26 L354.32,37.83 L354.35,37.40 L354.37,36.97 L354.39,36.53 L354.41,36.10 L354.43,35.67 L354.46,35.24 L354.48,34.81 L354.50,34.38 L354.52,33.95 L354.54,33.52 L354.56,33.09 L354.58,32.65 L354.60,32.22 L354.61,31.79 L354.63,31.36 L354.65,30.93 L354.67,30.50 L354.69,30.07 L354.70,29.64 L354.72,29.21 L354.73,28.78 L354.75,28.35 L354.77,27.92 L354.78,27.49 L354.79,27.06 L354.81,26.62 L354.82,26.19 L354.84,25.76 L354.85,25.33 L354.86,24.90 L354.87,24.47 L354.88,24.04 L354.89,23.61 L354.91,23.18 L354.92,22.75 L354.93,22.32 L354.93,21.89 L354.94,21.46 L354.95,21.03 L354.96,20.61 L354.97,20.18 L354.98,19.75 L354.98,19.32 L354.99,18.89 L354.99,18.46 L355.00,18.03" stroke="#000" stroke-width="1.15" fill="none"/>
<path d="M342.24,170.92 L342.25,171.36 L342.26,171.80 L342.28,172.24 L342.30,172.68 L342.32,173.12 L342.35,173.56 L342.37,174.00 L342.40,174.44 L342.43,174.87 L342.47,175.31 L342.50,175.75 L342.54,176.19 L342.58,176.62 L342.63,177.06 L342.67,177.49 L342.72,177.93 L342.77,178.36 L342.83,178.80 L342.89,179.23 L342.94,179.66 L343.01,180.09 L343.07,180.52 L343.14,180.95 L343.21,181.38 L343.28,181.80 L343.36,182.23 L343.44,182.66 L343.52,183.08 L343.60,183.50 L343.69,183.93 L343.78,184.35 L343.87,184.77 L343.97,185.18 L344.07,185.60 L344.17,186.02 L344.28,186.43 L344.39,186.84 L344.50,187.26 L344.61,187.67 L344.73,188.07 L344.85,188.48 L344.98,188.89 L345.10,189.29 L345.23,189.69 L345.37,190.09 L345.51,190.49 L345.65,190.89 L345.79,191.29 L345.94,191.68 L346.09,192.07 L346.24,192.46 L346.40,192.85 L346.56,193.24 L346.73,193.62 L346.90,194.00 L347.07,194.38 L347.25,194.76 L347.42,195.14 L347.61,195.51 L347.79,195.88 L347.99,196.25 L348.18,196.62 L348.38,196.98 L348.58,197.35 L348.78,197.71 L348.99,198.07 L349.21,198.42 L349.42,198.77 L349.65,199.12 L349.87,199.47 L350.10,199.82 L350.33,200.16 L350.57,200.50 L350.81,200.84 L351.05,201.18 L351.30,201.51 L351.55,201.84 L351.80,202.17 L352.06,202.50 L352.32,202.82 L352.58,203.15 L352.85,203.47 L353.12,203.79 L353.39,204.10 L353.67,204.41 L353.95,204.73 L354.24,205.04 L354.52,205.34 L354.81,205.65 L355.10,205.95 L355.40,206.25 L355.70,206.55 L356.00,206.85 L356.30,207.14 L356.61,207.43 L356.92,207.72 L357.24,208.01 L357.55,208.30 L357.87,208.58 L358.19,208.86 L358.51,209.14 L358.84,209.42 L359.17,209.70 L359.50,209.97 L359.83,210.24 L360.17,210.51 L360.51,210.78 L360.85,211.05 L361.19,211.31 L361.54,211.58 L361.88,211.84 L362.23,212.10 L362.58,212.36 L362.94,212.61 L363.29,212.87 L363.65,213.12 L364.01,213.37 L364.37,213.62 L364.74,213.86 L365.10,214.11 L365.47,214.35 L365.84,214.59 L366.21,214.83 L366.58,215.07 L366.96,215.31 L367.33,215.54 L367.71,215.78 L368.09,216.01 L368.47,216.24 L368.85,216.47 L369.24,216.70 L369.62,216.92 L370.01,217.15 L370.39,217.37 L370.78,217.59 L371.17,217.81 L371.57,218.03 L371.96,218.25 L372.35,218.46 L372.75,218.67 L373.14,218.89 L373.54,219.10 L373.94,219.31 L374.34,219.52 L374.74,219.72 L375.14,219.93 L375.54,220.13 L375.94,220.34 L376.34,220.54 L376.75,220.74 L377.15,220.94 L377.56,221.14 L377.96,221.33 L378.37,221.53 L378.77,221.72 L379.18,221.91 L379.59,222.11 L380.00,222.30 L380.41,222.49 L380.81,222.68 L381.22,222.86 L381.63,223.05 L382.04,223.23 L382.45,223.42 L382.86,223.60 L383.27,223.78 L383.68,223.96 L384.09,224.14 L384.50,224.32 L384.91,224.50 L385.32,224.68 L385.73,224.85 L386.14,225.03 L386.55,225.20 L386.96,225.37 L387.37,225.55 L387.77,225.72 L388.18,225.89 L388.59,226.06 L389.00,226.23 L389.40,226.40 L389.81,226.57 L390.22,226.74 L390.62,226.91 L391.03,227.07 L391.43,227.24 L391.83,227.41 L392.24,227.58 L392.64,227.75 L393.04,227.92 L393.44,228.09 L393.84,228.26 L394.24,228.43 L394.64,228.60 L395.03,228.77 L395.43,228.94 L395.82,229.11 L396.22,229.28 L396.61,229.46 L397.00,229.63 L397.39,229.81 L397.78,229.98 L398.17,230.16 L398.56,230.34 L398.95,230.51 L399.33,230.70 L399.71,230.88 L400.10,231.06 L400.48,231.24 L400.86,231.43 L401.23,231.62 L401.61,231.80 L401.98,231.99 L402.36,232.19 L402.73,232.38 L403.10,232.58 L403.47,232.77 L403.83,232.97 L404.20,233.17 L404.56,233.38 L404.92,233.58 L405.28,233.79 L405.64,234.00 L406.00,234.21 L406.35,234.43 L406.70,234.65 L407.05,234.86 L407.40,235.09 L407.75,235.31 L408.09,235.54 L408.43,235.77 L408.77,236.00 L409.11,236.24 L409.45,236.48 L409.78,236.72 L410.11,236.97 L410.44,237.21 L410.76,237.47 L411.09,237.72 L411.41,237.98 L411.73,238.24 L412.04,238.51 L412.36,238.77 L412.67,239.05" stroke="#ff0000" stroke-width="1.15" fill="none"/>
<path d="M342.24,170.92 L342.25,171.36 L342.26,171.80 L342.28,172.24 L342.30,172.68 L342.32,173.12 L342.35,173.56 L342.37,174.00 L342.40,174.44 L342.43,174.87 L342.47,175.31 L342.50,175.75 L342.54,176.19 L342.58,176.62 L342.63,177.06 L342.67,177.49 L342.72,177.93 L342.77,178.36 L342.83,178.80 L342.89,179.23 L342.94,179.66 L343.01,180.09 L343.07,180.52 L343.14,180.95 L343.21,181.38 L343.28,181.80 L343.36,182.23 L343.44,182.66 L343.52,183.08 L343.60,183.50 L343.69,183.93 L343.78,184.35 L343.87,184.77 L343.97,185.18 L344.07,185.60 L344.17,186.02 L344.28,186.43 L344.39,186.84 L344.50,187.26 L344.61,187.67 L344.73,188.07 L344.85,188.48 L344.98,188.89 L345.10,189.29 L345.23,189.69 L345.37,190.09 L345.51,190.49 L345.65,190.89 L345.79,191.29 L345.94,191.68 L346.09,192.07 L346.24,192.46 L346.40,192.85 L346.56,193.24 L346.73,193.62 L346.90,194.00 L347.07,194.38 L347.25,194.76 L347.42,195.14 L347.61,195.51 L347.79,195.88 L347.99,196.25 L348.18,196.62 L348.38,196.98 L348.58,197.35 L348.78,197.71 L348.99,198.07 L349.21,198.42 L349.42,198.77 L349.65,199.12 L349.87,199.47 L350.10,199.82 L350.33,200.16 L350.57,200.50 L350.81,200.84 L351.05,201.18 L351.30,201.51 L351.55,201.84 L351.80,202.17 L352.06,202.50 L352.32,202.82 L352.58,203.15 L352.85,203.47 L353.12,203.79 L353.39,204.10 L353.67,204.41 L353.95,204.73 L354.24,205.04 L354.52,205.34 L354.81,205.65 L355.10,205.95 L355.40,206.25 L355.70,206.55 L356.00,206.85 L356.30,207.14 L356.61,207.43 L356.92,207.72 L357.24,208.01 L357.55,208.30 L357.87,208.58 L358.19,208.86 L358.51,209.14 L358.84,209.42 L359.17,209.70 L359.50,209.97 L359.83,210.24 L360.17,210.51 L360.51,210.78 L360.85,211.05 L361.19,211.31 L361.54,211.58 L361.88,211.84 L362.23,212.10 L362.58,212.36 L362.94,212.61 L363.29,212.87 L363.65,213.12 L364.01,213.37 L364.37,213.62 L364.74,213.86 L365.10,214.11 L365.47,214.35 L365.84,214.59 L366.21,214.83 L366.58,215.07 L366.96,215.31 L367.33,215.54 L367.71,215.78 L368.09,216.01 L368.47,216.24 L368.85,216.47 L369.24,216.70 L369.62,216.92 L370.01,217.15 L370.39,217.37 L370.78,217.59 L371.17,217.81 L371.57,218.03 L371.96,218.25 L372.35,218.46 L372.75,218.67 L373.14,218.89 L373.54,219.10 L373.94,219.31 L374.34,219.52 L374.74,219.72 L375.14,219.93 L375.54,220.13 L375.94,220.34 L376.34,220.54 L376.75,220.74 L377.15,220.94 L377.56,221.14 L377.96,221.33 L378.37,221.53 L378.77,221.72 L379.18,221.91 L379.59,222.11 L380.00,222.30 L380.41,222.49 L380.81,222.68 L381.22,222.86 L381.63,223.05 L382.04,223.23 L382.45,223.42 L382.86,223.60 L383.27,223.78 L383.68,223.96 L384.09,224.14 L384.50,224.32 L384.91,224.50 L385.32,224.68 L385.73,224.85 L386.14,225.03 L386.55,225.20 L386.96,225.37 L387.37,225.55 L387.77,225.72 L388.18,225.89 L388.59,226.06 L389.00,226.23 L389.40,226.40 L389.81,226.57 L390.22,226.74 L390.62,226.91 L391.03,227.07 L391.43,227.24 L391.83,227.41 L392.24,227.58 L392.64,227.75 L393.04,227.92 L393.44,228.09 L393.84,228.26 L394.24,228.43 L394.64,228.60 L395.03,228.77 L395.43,228.94 L395.82,229.11 L396.22,229.28 L396.61,229.46 L397.00,229.63 L397.39,229.81 L397.78,229.98 L398.17,230.16 L398.56,230.34 L398.95,230.51 L399.33,230.70 L399.71,230.88 L400.10,231.06 L400.48,231.24 L400.86,231.43 L401.23,231.62 L401.61,231.80 L401.98,231.99 L402.36,232.19 L402.73,232.38 L403.10,232.58 L403.47,232.77 L403.83,232.97 L404.20,233.17 L404.56,233.38 L404.92,233.58 L405.28,233.79 L405.64,234.00 L406.00,234.21 L406.35,234.43 L406.70,234.65 L407.05,234.86 L407.40,235.09 L407.75,235.31 L408.09,235.54 L408.43,235.77 L408.77,236.00 L409.11,236.24 L409.45,236.48 L409.78,236.72 L410.11,236.97 L410.44,237.21 L410.76,237.47 L411.09,237.72 L411.41,237.98 L411.73,238.24 L412.04,238.51 L412.36,238.77 L412.67,239.05" stroke="#0000ff" stroke-width="1.1" fill="none" stroke-dasharray="1.0 2.8" stroke-linecap="butt"/>
<line x1="336.7" y1="252.5" x2="336.7" y2="18" stroke="#ff7070" stroke-width="1.8" stroke-dasharray="1 3.93" />
</g>
<text x="66.00" y="264.4" font-size="10" text-anchor="middle" stroke="#000" stroke-width="0.12">0.0</text>
<text x="133.55" y="264.4" font-size="10" text-anchor="middle" stroke="#000" stroke-width="0.12">0.5</text>
<text x="201.10" y="264.4" font-size="10" text-anchor="middle" stroke="#000" stroke-width="0.12">1.0</text>
<text x="268.65" y="264.4" font-size="10" text-anchor="middle" stroke="#000" stroke-width="0.12">1.5</text>
<text x="336.20" y="264.4" font-size="10" text-anchor="middle" stroke="#000" stroke-width="0.12">2.0</text>
<text x="403.75" y="264.4" font-size="10" text-anchor="middle" stroke="#000" stroke-width="0.12">2.5</text>
<text x="61.2" y="254.30" font-size="10.2" text-anchor="end" stroke="#000" stroke-width="0.12">0</text>
<text x="61.2" y="195.95" font-size="10.2" text-anchor="end" stroke="#000" stroke-width="0.12">1</text>
<text x="61.2" y="137.60" font-size="10.2" text-anchor="end" stroke="#000" stroke-width="0.12">2</text>
<text x="61.2" y="79.25" font-size="10.2" text-anchor="end" stroke="#000" stroke-width="0.12">3</text>
<text x="61.2" y="20.90" font-size="10.2" text-anchor="end" stroke="#000" stroke-width="0.12">4</text>
<text x="79.6" y="41.3" font-size="23.3">q=0.07057</text>
<rect x="57.6" y="348.0" width="111.2" height="31.1" fill="#fff" stroke="#111" stroke-width="1.3"/>
<text x="113.50" y="370.15" font-size="18.8" text-anchor="middle">T=0.2735</text>
<rect x="202.3" y="307.3" width="110.9" height="31.0" fill="#fff" stroke="#111" stroke-width="1.3"/>
<text x="258.05" y="329.40" font-size="18.8" text-anchor="middle">T=0.2599</text>
<rect x="339.2" y="272.7" width="110.8" height="30.6" fill="#fff" stroke="#111" stroke-width="1.3"/>
<text x="394.90" y="294.60" font-size="18.8" text-anchor="middle">T=0.2492</text>
<rect x="418.2" y="38.2" width="111.3" height="31.3" fill="#fff" stroke="#111" stroke-width="1.3"/>
<text x="474.15" y="60.45" font-size="18.8" text-anchor="middle">T=0.2325</text>
<rect x="569.1" y="53.6" width="111.3" height="30.6" fill="#fff" stroke="#111" stroke-width="1.3"/>
<text x="625.05" y="75.50" font-size="18.8" text-anchor="middle">T=0.2257</text>
<rect x="573.1" y="176.5" width="110.3" height="30.5" fill="#fff" stroke="#111" stroke-width="1.3"/>
<text x="628.55" y="198.35" font-size="18.8" text-anchor="middle">T=0.2104</text>
<line x1="102.3" y1="385.4" x2="109.43" y2="404.65" stroke="#111" stroke-width="1.6"/>
<path d="M113.6,415.9 L105.45,403.99 L112.02,401.56 Z" fill="#111"/>
<line x1="270.3" y1="342.0" x2="330.08" y2="399.95" stroke="#111" stroke-width="1.6"/>
<path d="M338.7,408.3 L326.21,401.07 L331.08,396.04 Z" fill="#111"/>
<line x1="403.0" y1="304.5" x2="453.35" y2="373.89" stroke="#111" stroke-width="1.6"/>
<path d="M460.4,383.6 L449.34,374.32 L455.01,370.21 Z" fill="#111"/>
<line x1="477.0" y1="72.8" x2="556.24" y2="131.18" stroke="#111" stroke-width="1.6"/>
<path d="M565.9,138.3 L552.55,132.81 L556.70,127.18 Z" fill="#111"/>
<line x1="642.1" y1="95.7" x2="581.05" y2="176.14" stroke="#111" stroke-width="1.6"/>
<path d="M573.8,185.7 L579.48,172.43 L585.05,176.66 Z" fill="#111"/>
<line x1="651.4" y1="215.9" x2="594.79" y2="288.34" stroke="#111" stroke-width="1.6"/>
<path d="M587.4,297.8 L593.26,284.61 L598.78,288.92 Z" fill="#111"/>
</svg></body></html>
